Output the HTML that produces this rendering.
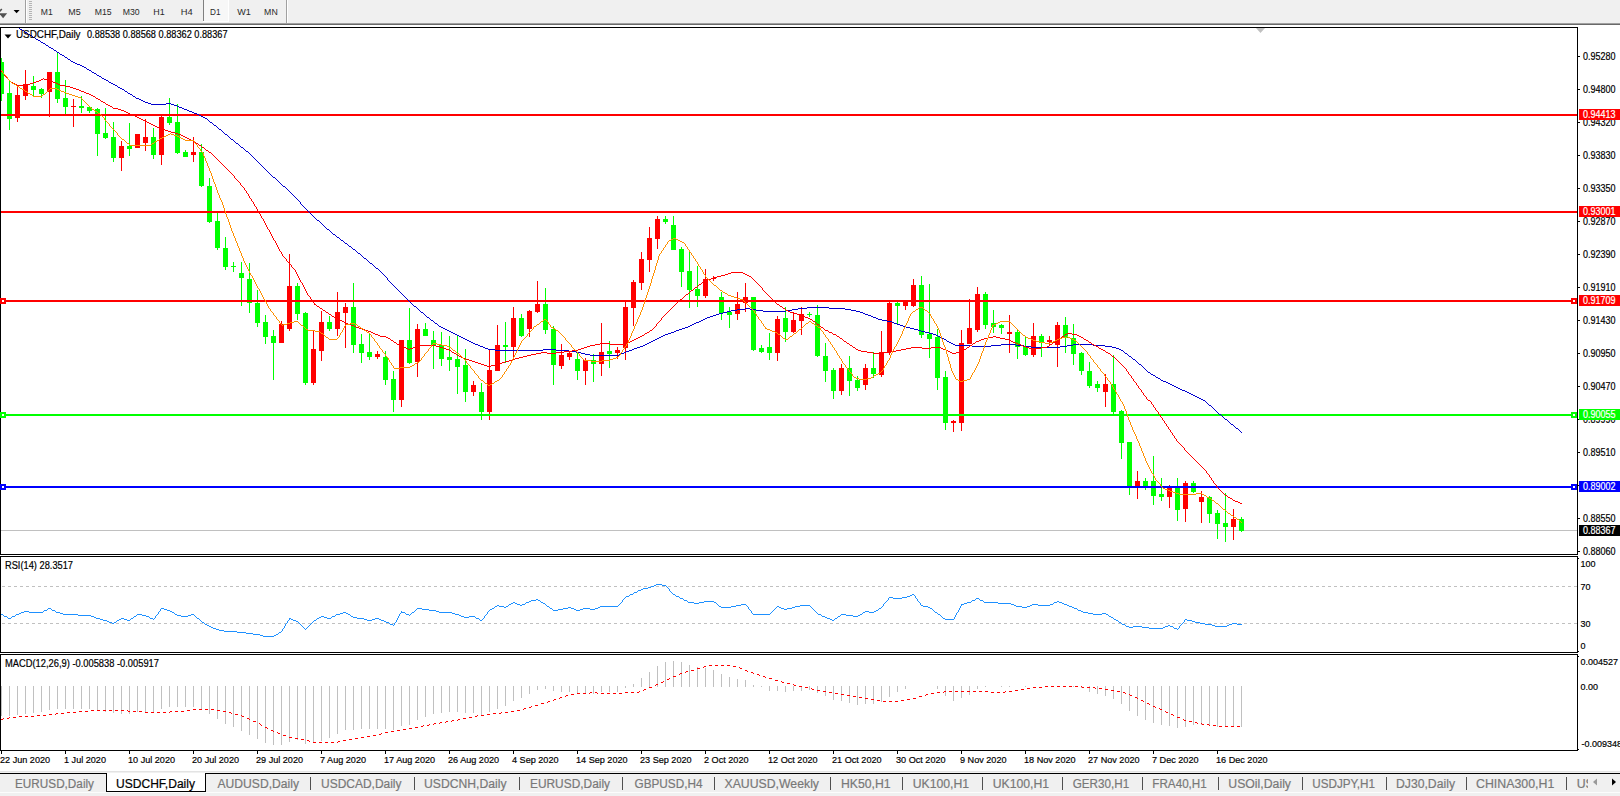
<!DOCTYPE html>
<html><head><meta charset="utf-8"><title>USDCHF,Daily</title>
<style>
html,body{margin:0;padding:0;background:#fff;overflow:hidden}
svg{display:block}
text{font-family:'Liberation Sans', sans-serif;}
.t{font-size:9.3px;fill:#000;stroke:#000;stroke-width:0.18px}
.w{font-size:9.3px;fill:#fff;stroke:#fff;stroke-width:0.18px}
.tb{font-size:9.9px;fill:#2a2a2a}
.tab{font-size:12.3px;fill:#787878;stroke:#787878;stroke-width:0.2px}
.taba{font-size:12.3px;fill:#000;stroke:#000;stroke-width:0.2px}
</style></head><body>
<svg width="1620" height="796" viewBox="0 0 1620 796">
<rect x="0" y="0" width="1620" height="796" fill="#fff"/>

<g shape-rendering="crispEdges">
<rect x="0" y="0" width="1620" height="23" fill="#f0f0f0"/>
<rect x="0" y="23" width="1620" height="1" fill="#a0a0a0"/>
<rect x="0" y="24" width="1620" height="1" fill="#696969"/>
<rect x="25" y="0" width="1" height="23" fill="#a0a0a0"/>
<rect x="26" y="0" width="1" height="23" fill="#fff"/>
<rect x="29" y="1" width="3" height="1" fill="#b4b4b4"/>
<rect x="29" y="3" width="3" height="1" fill="#b4b4b4"/>
<rect x="29" y="5" width="3" height="1" fill="#b4b4b4"/>
<rect x="29" y="7" width="3" height="1" fill="#b4b4b4"/>
<rect x="29" y="9" width="3" height="1" fill="#b4b4b4"/>
<rect x="29" y="11" width="3" height="1" fill="#b4b4b4"/>
<rect x="29" y="13" width="3" height="1" fill="#b4b4b4"/>
<rect x="29" y="15" width="3" height="1" fill="#b4b4b4"/>
<rect x="29" y="17" width="3" height="1" fill="#b4b4b4"/>
<rect x="29" y="19" width="3" height="1" fill="#b4b4b4"/>
<rect x="204" y="0" width="24" height="21" fill="#f7f7f7"/>
<rect x="203" y="0" width="1" height="21" fill="#808080"/>
<rect x="203" y="21" width="26" height="1" fill="#fff"/>
<rect x="228" y="0" width="1" height="22" fill="#fff"/>
<rect x="286" y="0" width="1" height="23" fill="#a0a0a0"/>
<rect x="287" y="0" width="1" height="23" fill="#fff"/>
</g>
<path d="M13.6 10h6l-3 3.2z" fill="#000"/>
<path d="M-1 13.2h8.2l-4.1 5z" fill="#505050"/><path d="M-0.5 11.5l2.3-2.5" stroke="#505050" stroke-width="1.6"/>
<text class="tb" x="40.8" y="14.9" textLength="11.9" lengthAdjust="spacingAndGlyphs">M1</text>
<text class="tb" x="68.3" y="14.9" textLength="12.4" lengthAdjust="spacingAndGlyphs">M5</text>
<text class="tb" x="94.8" y="14.9" textLength="16.9" lengthAdjust="spacingAndGlyphs">M15</text>
<text class="tb" x="122.8" y="14.9" textLength="16.9" lengthAdjust="spacingAndGlyphs">M30</text>
<text class="tb" x="153.3" y="14.9" textLength="11.4" lengthAdjust="spacingAndGlyphs">H1</text>
<text class="tb" x="180.8" y="14.9" textLength="11.9" lengthAdjust="spacingAndGlyphs">H4</text>
<text class="tb" x="210.10000000000002" y="14.9" textLength="10.5" lengthAdjust="spacingAndGlyphs">D1</text>
<text class="tb" x="237.3" y="14.9" textLength="13.6" lengthAdjust="spacingAndGlyphs">W1</text>
<text class="tb" x="264.1" y="14.9" textLength="13.6" lengthAdjust="spacingAndGlyphs">MN</text>
<g shape-rendering="crispEdges" fill="#000">
<rect x="0" y="27" width="1578" height="1"/>
<rect x="0" y="27" width="1" height="528"/>
<rect x="0" y="554" width="1578" height="1"/>
<rect x="0" y="556" width="1578" height="1"/>
<rect x="0" y="556" width="1" height="97"/>
<rect x="0" y="652" width="1578" height="1"/>
<rect x="0" y="654" width="1578" height="1"/>
<rect x="0" y="654" width="1" height="97"/>
<rect x="0" y="750" width="1578" height="1"/>
<rect x="1577" y="27" width="1" height="528"/>
<rect x="1577" y="556" width="1" height="97"/>
<rect x="1577" y="654" width="1" height="97"/>
</g>
<g shape-rendering="crispEdges" fill="#000">
<rect x="1578" y="56" width="2" height="1"/>
<rect x="1578" y="89" width="2" height="1"/>
<rect x="1578" y="122" width="2" height="1"/>
<rect x="1578" y="155" width="2" height="1"/>
<rect x="1578" y="188" width="2" height="1"/>
<rect x="1578" y="221" width="2" height="1"/>
<rect x="1578" y="254" width="2" height="1"/>
<rect x="1578" y="287" width="2" height="1"/>
<rect x="1578" y="320" width="2" height="1"/>
<rect x="1578" y="353" width="2" height="1"/>
<rect x="1578" y="386" width="2" height="1"/>
<rect x="1578" y="419" width="2" height="1"/>
<rect x="1578" y="452" width="2" height="1"/>
<rect x="1578" y="485" width="2" height="1"/>
<rect x="1578" y="518" width="2" height="1"/>
<rect x="1578" y="551" width="2" height="1"/>
</g>
<text class="t" transform="translate(1583 59.7) scale(1 1.09)" textLength="32.5" lengthAdjust="spacingAndGlyphs">0.95280</text>
<text class="t" transform="translate(1583 92.7) scale(1 1.09)" textLength="32.5" lengthAdjust="spacingAndGlyphs">0.94800</text>
<text class="t" transform="translate(1583 125.7) scale(1 1.09)" textLength="32.5" lengthAdjust="spacingAndGlyphs">0.94320</text>
<text class="t" transform="translate(1583 158.7) scale(1 1.09)" textLength="32.5" lengthAdjust="spacingAndGlyphs">0.93830</text>
<text class="t" transform="translate(1583 191.7) scale(1 1.09)" textLength="32.5" lengthAdjust="spacingAndGlyphs">0.93350</text>
<text class="t" transform="translate(1583 224.7) scale(1 1.09)" textLength="32.5" lengthAdjust="spacingAndGlyphs">0.92870</text>
<text class="t" transform="translate(1583 257.7) scale(1 1.09)" textLength="32.5" lengthAdjust="spacingAndGlyphs">0.92390</text>
<text class="t" transform="translate(1583 290.7) scale(1 1.09)" textLength="32.5" lengthAdjust="spacingAndGlyphs">0.91910</text>
<text class="t" transform="translate(1583 323.7) scale(1 1.09)" textLength="32.5" lengthAdjust="spacingAndGlyphs">0.91430</text>
<text class="t" transform="translate(1583 356.7) scale(1 1.09)" textLength="32.5" lengthAdjust="spacingAndGlyphs">0.90950</text>
<text class="t" transform="translate(1583 389.7) scale(1 1.09)" textLength="32.5" lengthAdjust="spacingAndGlyphs">0.90470</text>
<text class="t" transform="translate(1583 422.7) scale(1 1.09)" textLength="32.5" lengthAdjust="spacingAndGlyphs">0.89990</text>
<text class="t" transform="translate(1583 455.7) scale(1 1.09)" textLength="32.5" lengthAdjust="spacingAndGlyphs">0.89510</text>
<text class="t" transform="translate(1583 488.7) scale(1 1.09)" textLength="32.5" lengthAdjust="spacingAndGlyphs">0.89030</text>
<text class="t" transform="translate(1583 521.7) scale(1 1.09)" textLength="32.5" lengthAdjust="spacingAndGlyphs">0.88550</text>
<text class="t" transform="translate(1583 554.7) scale(1 1.09)" textLength="32.5" lengthAdjust="spacingAndGlyphs">0.88060</text>
<clipPath id="cp"><rect x="1" y="28" width="1576" height="526"/></clipPath>
<g clip-path="url(#cp)">
<rect x="1" y="530" width="1576" height="1" fill="#c0c0c0" shape-rendering="crispEdges"/>
<g shape-rendering="crispEdges">
<rect x="1" y="58" width="1" height="43" fill="#00ff00"/>
<rect x="-1" y="62" width="5" height="32" fill="#00ff00"/>
<rect x="9" y="81" width="1" height="49" fill="#00ff00"/>
<rect x="7" y="93" width="5" height="26" fill="#00ff00"/>
<rect x="17" y="85" width="1" height="37" fill="#ff0000"/>
<rect x="15" y="95" width="5" height="23" fill="#ff0000"/>
<rect x="25" y="70" width="1" height="30" fill="#ff0000"/>
<rect x="23" y="84" width="5" height="12" fill="#ff0000"/>
<rect x="33" y="76" width="1" height="21" fill="#00ff00"/>
<rect x="31" y="86" width="5" height="4" fill="#00ff00"/>
<rect x="41" y="88" width="1" height="10" fill="#00ff00"/>
<rect x="39" y="89" width="5" height="5" fill="#00ff00"/>
<rect x="49" y="72" width="1" height="45" fill="#ff0000"/>
<rect x="47" y="72" width="5" height="20" fill="#ff0000"/>
<rect x="57" y="52" width="1" height="51" fill="#00ff00"/>
<rect x="55" y="72" width="5" height="27" fill="#00ff00"/>
<rect x="65" y="80" width="1" height="34" fill="#00ff00"/>
<rect x="63" y="98" width="5" height="9" fill="#00ff00"/>
<rect x="73" y="99" width="1" height="28" fill="#ff0000"/>
<rect x="71" y="106" width="5" height="1" fill="#ff0000"/>
<rect x="81" y="96" width="1" height="17" fill="#00ff00"/>
<rect x="79" y="106" width="5" height="2" fill="#00ff00"/>
<rect x="89" y="107" width="1" height="6" fill="#00ff00"/>
<rect x="87" y="107" width="5" height="4" fill="#00ff00"/>
<rect x="97" y="108" width="1" height="48" fill="#00ff00"/>
<rect x="95" y="109" width="5" height="25" fill="#00ff00"/>
<rect x="105" y="108" width="1" height="31" fill="#00ff00"/>
<rect x="103" y="133" width="5" height="5" fill="#00ff00"/>
<rect x="113" y="122" width="1" height="40" fill="#00ff00"/>
<rect x="111" y="137" width="5" height="21" fill="#00ff00"/>
<rect x="121" y="141" width="1" height="30" fill="#ff0000"/>
<rect x="119" y="146" width="5" height="12" fill="#ff0000"/>
<rect x="129" y="123" width="1" height="33" fill="#00ff00"/>
<rect x="127" y="146" width="5" height="3" fill="#00ff00"/>
<rect x="137" y="134" width="1" height="14" fill="#ff0000"/>
<rect x="135" y="134" width="5" height="14" fill="#ff0000"/>
<rect x="145" y="119" width="1" height="32" fill="#ff0000"/>
<rect x="143" y="137" width="5" height="6" fill="#ff0000"/>
<rect x="153" y="128" width="1" height="31" fill="#00ff00"/>
<rect x="151" y="137" width="5" height="18" fill="#00ff00"/>
<rect x="161" y="115" width="1" height="50" fill="#ff0000"/>
<rect x="159" y="117" width="5" height="38" fill="#ff0000"/>
<rect x="169" y="98" width="1" height="27" fill="#00ff00"/>
<rect x="167" y="117" width="5" height="6" fill="#00ff00"/>
<rect x="177" y="104" width="1" height="50" fill="#00ff00"/>
<rect x="175" y="122" width="5" height="31" fill="#00ff00"/>
<rect x="185" y="150" width="1" height="7" fill="#00ff00"/>
<rect x="183" y="152" width="5" height="5" fill="#00ff00"/>
<rect x="193" y="137" width="1" height="25" fill="#ff0000"/>
<rect x="191" y="152" width="5" height="3" fill="#ff0000"/>
<rect x="201" y="144" width="1" height="43" fill="#00ff00"/>
<rect x="199" y="152" width="5" height="34" fill="#00ff00"/>
<rect x="209" y="178" width="1" height="45" fill="#00ff00"/>
<rect x="207" y="186" width="5" height="36" fill="#00ff00"/>
<rect x="217" y="213" width="1" height="37" fill="#00ff00"/>
<rect x="215" y="221" width="5" height="27" fill="#00ff00"/>
<rect x="225" y="237" width="1" height="33" fill="#00ff00"/>
<rect x="223" y="248" width="5" height="19" fill="#00ff00"/>
<rect x="233" y="262" width="1" height="10" fill="#00ff00"/>
<rect x="231" y="266" width="5" height="1" fill="#00ff00"/>
<rect x="241" y="262" width="1" height="44" fill="#00ff00"/>
<rect x="239" y="273" width="5" height="5" fill="#00ff00"/>
<rect x="249" y="263" width="1" height="50" fill="#00ff00"/>
<rect x="247" y="279" width="5" height="24" fill="#00ff00"/>
<rect x="257" y="290" width="1" height="37" fill="#00ff00"/>
<rect x="255" y="303" width="5" height="20" fill="#00ff00"/>
<rect x="265" y="315" width="1" height="29" fill="#00ff00"/>
<rect x="263" y="322" width="5" height="15" fill="#00ff00"/>
<rect x="273" y="330" width="1" height="50" fill="#00ff00"/>
<rect x="271" y="336" width="5" height="7" fill="#00ff00"/>
<rect x="281" y="321" width="1" height="22" fill="#ff0000"/>
<rect x="279" y="324" width="5" height="19" fill="#ff0000"/>
<rect x="289" y="254" width="1" height="77" fill="#ff0000"/>
<rect x="287" y="286" width="5" height="43" fill="#ff0000"/>
<rect x="297" y="283" width="1" height="37" fill="#00ff00"/>
<rect x="295" y="286" width="5" height="28" fill="#00ff00"/>
<rect x="305" y="312" width="1" height="73" fill="#00ff00"/>
<rect x="303" y="313" width="5" height="70" fill="#00ff00"/>
<rect x="313" y="330" width="1" height="55" fill="#ff0000"/>
<rect x="311" y="349" width="5" height="34" fill="#ff0000"/>
<rect x="321" y="311" width="1" height="50" fill="#ff0000"/>
<rect x="319" y="322" width="5" height="29" fill="#ff0000"/>
<rect x="329" y="316" width="1" height="15" fill="#00ff00"/>
<rect x="327" y="322" width="5" height="7" fill="#00ff00"/>
<rect x="337" y="292" width="1" height="44" fill="#ff0000"/>
<rect x="335" y="312" width="5" height="17" fill="#ff0000"/>
<rect x="345" y="303" width="1" height="45" fill="#ff0000"/>
<rect x="343" y="307" width="5" height="6" fill="#ff0000"/>
<rect x="353" y="283" width="1" height="70" fill="#00ff00"/>
<rect x="351" y="307" width="5" height="38" fill="#00ff00"/>
<rect x="361" y="334" width="1" height="29" fill="#00ff00"/>
<rect x="359" y="344" width="5" height="9" fill="#00ff00"/>
<rect x="369" y="334" width="1" height="26" fill="#00ff00"/>
<rect x="367" y="352" width="5" height="5" fill="#00ff00"/>
<rect x="377" y="351" width="1" height="8" fill="#ff0000"/>
<rect x="375" y="354" width="5" height="3" fill="#ff0000"/>
<rect x="385" y="351" width="1" height="34" fill="#00ff00"/>
<rect x="383" y="357" width="5" height="23" fill="#00ff00"/>
<rect x="393" y="371" width="1" height="41" fill="#00ff00"/>
<rect x="391" y="379" width="5" height="21" fill="#00ff00"/>
<rect x="401" y="340" width="1" height="67" fill="#ff0000"/>
<rect x="399" y="340" width="5" height="60" fill="#ff0000"/>
<rect x="409" y="308" width="1" height="56" fill="#00ff00"/>
<rect x="407" y="340" width="5" height="23" fill="#00ff00"/>
<rect x="417" y="324" width="1" height="53" fill="#ff0000"/>
<rect x="415" y="329" width="5" height="33" fill="#ff0000"/>
<rect x="425" y="323" width="1" height="13" fill="#00ff00"/>
<rect x="423" y="329" width="5" height="7" fill="#00ff00"/>
<rect x="433" y="331" width="1" height="38" fill="#00ff00"/>
<rect x="431" y="340" width="5" height="5" fill="#00ff00"/>
<rect x="441" y="332" width="1" height="34" fill="#00ff00"/>
<rect x="439" y="345" width="5" height="14" fill="#00ff00"/>
<rect x="449" y="336" width="1" height="35" fill="#00ff00"/>
<rect x="447" y="357" width="5" height="3" fill="#00ff00"/>
<rect x="457" y="336" width="1" height="58" fill="#00ff00"/>
<rect x="455" y="359" width="5" height="8" fill="#00ff00"/>
<rect x="465" y="349" width="1" height="53" fill="#00ff00"/>
<rect x="463" y="365" width="5" height="27" fill="#00ff00"/>
<rect x="473" y="381" width="1" height="15" fill="#ff0000"/>
<rect x="471" y="385" width="5" height="7" fill="#ff0000"/>
<rect x="481" y="383" width="1" height="37" fill="#00ff00"/>
<rect x="479" y="392" width="5" height="20" fill="#00ff00"/>
<rect x="489" y="349" width="1" height="71" fill="#ff0000"/>
<rect x="487" y="370" width="5" height="42" fill="#ff0000"/>
<rect x="497" y="325" width="1" height="46" fill="#ff0000"/>
<rect x="495" y="345" width="5" height="26" fill="#ff0000"/>
<rect x="505" y="322" width="1" height="41" fill="#00ff00"/>
<rect x="503" y="345" width="5" height="2" fill="#00ff00"/>
<rect x="513" y="307" width="1" height="53" fill="#ff0000"/>
<rect x="511" y="318" width="5" height="29" fill="#ff0000"/>
<rect x="521" y="314" width="1" height="23" fill="#00ff00"/>
<rect x="519" y="318" width="5" height="18" fill="#00ff00"/>
<rect x="529" y="310" width="1" height="27" fill="#ff0000"/>
<rect x="527" y="311" width="5" height="18" fill="#ff0000"/>
<rect x="537" y="281" width="1" height="32" fill="#ff0000"/>
<rect x="535" y="304" width="5" height="8" fill="#ff0000"/>
<rect x="545" y="288" width="1" height="46" fill="#00ff00"/>
<rect x="543" y="304" width="5" height="26" fill="#00ff00"/>
<rect x="553" y="326" width="1" height="59" fill="#00ff00"/>
<rect x="551" y="329" width="5" height="36" fill="#00ff00"/>
<rect x="561" y="344" width="1" height="25" fill="#ff0000"/>
<rect x="559" y="355" width="5" height="11" fill="#ff0000"/>
<rect x="569" y="351" width="1" height="9" fill="#ff0000"/>
<rect x="567" y="353" width="5" height="4" fill="#ff0000"/>
<rect x="577" y="352" width="1" height="28" fill="#00ff00"/>
<rect x="575" y="359" width="5" height="12" fill="#00ff00"/>
<rect x="585" y="358" width="1" height="27" fill="#ff0000"/>
<rect x="583" y="360" width="5" height="11" fill="#ff0000"/>
<rect x="593" y="354" width="1" height="28" fill="#00ff00"/>
<rect x="591" y="360" width="5" height="4" fill="#00ff00"/>
<rect x="601" y="323" width="1" height="53" fill="#ff0000"/>
<rect x="599" y="352" width="5" height="12" fill="#ff0000"/>
<rect x="609" y="341" width="1" height="27" fill="#00ff00"/>
<rect x="607" y="351" width="5" height="3" fill="#00ff00"/>
<rect x="617" y="347" width="1" height="12" fill="#ff0000"/>
<rect x="615" y="350" width="5" height="3" fill="#ff0000"/>
<rect x="625" y="302" width="1" height="58" fill="#ff0000"/>
<rect x="623" y="307" width="5" height="41" fill="#ff0000"/>
<rect x="633" y="280" width="1" height="46" fill="#ff0000"/>
<rect x="631" y="282" width="5" height="26" fill="#ff0000"/>
<rect x="641" y="252" width="1" height="38" fill="#ff0000"/>
<rect x="639" y="259" width="5" height="24" fill="#ff0000"/>
<rect x="649" y="227" width="1" height="45" fill="#ff0000"/>
<rect x="647" y="238" width="5" height="22" fill="#ff0000"/>
<rect x="657" y="216" width="1" height="33" fill="#ff0000"/>
<rect x="655" y="219" width="5" height="20" fill="#ff0000"/>
<rect x="665" y="216" width="1" height="8" fill="#00ff00"/>
<rect x="663" y="219" width="5" height="3" fill="#00ff00"/>
<rect x="673" y="216" width="1" height="34" fill="#00ff00"/>
<rect x="671" y="225" width="5" height="25" fill="#00ff00"/>
<rect x="681" y="247" width="1" height="40" fill="#00ff00"/>
<rect x="679" y="249" width="5" height="23" fill="#00ff00"/>
<rect x="689" y="251" width="1" height="57" fill="#00ff00"/>
<rect x="687" y="271" width="5" height="19" fill="#00ff00"/>
<rect x="697" y="266" width="1" height="41" fill="#00ff00"/>
<rect x="695" y="289" width="5" height="7" fill="#00ff00"/>
<rect x="705" y="269" width="1" height="29" fill="#ff0000"/>
<rect x="703" y="279" width="5" height="17" fill="#ff0000"/>
<rect x="713" y="276" width="1" height="5" fill="#ff0000"/>
<rect x="711" y="278" width="5" height="1" fill="#ff0000"/>
<rect x="721" y="292" width="1" height="28" fill="#00ff00"/>
<rect x="719" y="297" width="5" height="16" fill="#00ff00"/>
<rect x="729" y="307" width="1" height="21" fill="#00ff00"/>
<rect x="727" y="312" width="5" height="3" fill="#00ff00"/>
<rect x="737" y="292" width="1" height="28" fill="#ff0000"/>
<rect x="735" y="304" width="5" height="10" fill="#ff0000"/>
<rect x="745" y="283" width="1" height="29" fill="#ff0000"/>
<rect x="743" y="297" width="5" height="6" fill="#ff0000"/>
<rect x="753" y="297" width="1" height="54" fill="#00ff00"/>
<rect x="751" y="297" width="5" height="53" fill="#00ff00"/>
<rect x="761" y="345" width="1" height="8" fill="#00ff00"/>
<rect x="759" y="348" width="5" height="4" fill="#00ff00"/>
<rect x="769" y="333" width="1" height="27" fill="#00ff00"/>
<rect x="767" y="347" width="5" height="6" fill="#00ff00"/>
<rect x="777" y="316" width="1" height="45" fill="#ff0000"/>
<rect x="775" y="319" width="5" height="34" fill="#ff0000"/>
<rect x="785" y="307" width="1" height="35" fill="#00ff00"/>
<rect x="783" y="318" width="5" height="14" fill="#00ff00"/>
<rect x="793" y="312" width="1" height="21" fill="#ff0000"/>
<rect x="791" y="320" width="5" height="12" fill="#ff0000"/>
<rect x="801" y="307" width="1" height="28" fill="#ff0000"/>
<rect x="799" y="314" width="5" height="7" fill="#ff0000"/>
<rect x="809" y="312" width="1" height="5" fill="#00ff00"/>
<rect x="807" y="314" width="5" height="1" fill="#00ff00"/>
<rect x="817" y="305" width="1" height="52" fill="#00ff00"/>
<rect x="815" y="315" width="5" height="41" fill="#00ff00"/>
<rect x="825" y="343" width="1" height="39" fill="#00ff00"/>
<rect x="823" y="356" width="5" height="15" fill="#00ff00"/>
<rect x="833" y="368" width="1" height="31" fill="#00ff00"/>
<rect x="831" y="370" width="5" height="21" fill="#00ff00"/>
<rect x="841" y="364" width="1" height="31" fill="#ff0000"/>
<rect x="839" y="368" width="5" height="23" fill="#ff0000"/>
<rect x="849" y="356" width="1" height="40" fill="#00ff00"/>
<rect x="847" y="368" width="5" height="13" fill="#00ff00"/>
<rect x="857" y="376" width="1" height="15" fill="#00ff00"/>
<rect x="855" y="380" width="5" height="8" fill="#00ff00"/>
<rect x="865" y="364" width="1" height="26" fill="#ff0000"/>
<rect x="863" y="368" width="5" height="17" fill="#ff0000"/>
<rect x="873" y="352" width="1" height="26" fill="#00ff00"/>
<rect x="871" y="368" width="5" height="6" fill="#00ff00"/>
<rect x="881" y="331" width="1" height="46" fill="#ff0000"/>
<rect x="879" y="352" width="5" height="23" fill="#ff0000"/>
<rect x="889" y="301" width="1" height="54" fill="#ff0000"/>
<rect x="887" y="303" width="5" height="49" fill="#ff0000"/>
<rect x="897" y="301" width="1" height="24" fill="#00ff00"/>
<rect x="895" y="303" width="5" height="3" fill="#00ff00"/>
<rect x="905" y="301" width="1" height="9" fill="#ff0000"/>
<rect x="903" y="302" width="5" height="4" fill="#ff0000"/>
<rect x="913" y="279" width="1" height="28" fill="#ff0000"/>
<rect x="911" y="285" width="5" height="21" fill="#ff0000"/>
<rect x="921" y="276" width="1" height="62" fill="#00ff00"/>
<rect x="919" y="285" width="5" height="50" fill="#00ff00"/>
<rect x="929" y="284" width="1" height="74" fill="#00ff00"/>
<rect x="927" y="334" width="5" height="5" fill="#00ff00"/>
<rect x="937" y="329" width="1" height="61" fill="#00ff00"/>
<rect x="935" y="337" width="5" height="41" fill="#00ff00"/>
<rect x="945" y="371" width="1" height="59" fill="#00ff00"/>
<rect x="943" y="377" width="5" height="46" fill="#00ff00"/>
<rect x="953" y="420" width="1" height="12" fill="#ff0000"/>
<rect x="951" y="421" width="5" height="2" fill="#ff0000"/>
<rect x="961" y="330" width="1" height="101" fill="#ff0000"/>
<rect x="959" y="343" width="5" height="80" fill="#ff0000"/>
<rect x="969" y="299" width="1" height="45" fill="#ff0000"/>
<rect x="967" y="328" width="5" height="16" fill="#ff0000"/>
<rect x="977" y="287" width="1" height="45" fill="#ff0000"/>
<rect x="975" y="294" width="5" height="36" fill="#ff0000"/>
<rect x="985" y="292" width="1" height="37" fill="#00ff00"/>
<rect x="983" y="294" width="5" height="31" fill="#00ff00"/>
<rect x="993" y="310" width="1" height="23" fill="#00ff00"/>
<rect x="991" y="323" width="5" height="4" fill="#00ff00"/>
<rect x="1001" y="324" width="1" height="10" fill="#00ff00"/>
<rect x="999" y="325" width="5" height="3" fill="#00ff00"/>
<rect x="1009" y="315" width="1" height="38" fill="#ff0000"/>
<rect x="1007" y="332" width="5" height="2" fill="#ff0000"/>
<rect x="1017" y="330" width="1" height="29" fill="#00ff00"/>
<rect x="1015" y="332" width="5" height="15" fill="#00ff00"/>
<rect x="1025" y="336" width="1" height="20" fill="#00ff00"/>
<rect x="1023" y="346" width="5" height="9" fill="#00ff00"/>
<rect x="1033" y="323" width="1" height="34" fill="#ff0000"/>
<rect x="1031" y="336" width="5" height="19" fill="#ff0000"/>
<rect x="1041" y="334" width="1" height="23" fill="#00ff00"/>
<rect x="1039" y="336" width="5" height="7" fill="#00ff00"/>
<rect x="1049" y="336" width="1" height="9" fill="#ff0000"/>
<rect x="1047" y="340" width="5" height="2" fill="#ff0000"/>
<rect x="1057" y="322" width="1" height="45" fill="#ff0000"/>
<rect x="1055" y="325" width="5" height="20" fill="#ff0000"/>
<rect x="1065" y="317" width="1" height="36" fill="#00ff00"/>
<rect x="1063" y="325" width="5" height="13" fill="#00ff00"/>
<rect x="1073" y="324" width="1" height="41" fill="#00ff00"/>
<rect x="1071" y="338" width="5" height="16" fill="#00ff00"/>
<rect x="1081" y="352" width="1" height="23" fill="#00ff00"/>
<rect x="1079" y="353" width="5" height="18" fill="#00ff00"/>
<rect x="1089" y="362" width="1" height="26" fill="#00ff00"/>
<rect x="1087" y="371" width="5" height="15" fill="#00ff00"/>
<rect x="1097" y="381" width="1" height="11" fill="#00ff00"/>
<rect x="1095" y="384" width="5" height="4" fill="#00ff00"/>
<rect x="1105" y="374" width="1" height="33" fill="#ff0000"/>
<rect x="1103" y="384" width="5" height="8" fill="#ff0000"/>
<rect x="1113" y="355" width="1" height="59" fill="#00ff00"/>
<rect x="1111" y="384" width="5" height="28" fill="#00ff00"/>
<rect x="1121" y="410" width="1" height="49" fill="#00ff00"/>
<rect x="1119" y="411" width="5" height="32" fill="#00ff00"/>
<rect x="1129" y="442" width="1" height="53" fill="#00ff00"/>
<rect x="1127" y="442" width="5" height="44" fill="#00ff00"/>
<rect x="1137" y="471" width="1" height="28" fill="#ff0000"/>
<rect x="1135" y="481" width="5" height="5" fill="#ff0000"/>
<rect x="1145" y="478" width="1" height="12" fill="#00ff00"/>
<rect x="1143" y="481" width="5" height="7" fill="#00ff00"/>
<rect x="1153" y="456" width="1" height="49" fill="#00ff00"/>
<rect x="1151" y="481" width="5" height="15" fill="#00ff00"/>
<rect x="1161" y="478" width="1" height="23" fill="#00ff00"/>
<rect x="1159" y="494" width="5" height="3" fill="#00ff00"/>
<rect x="1169" y="485" width="1" height="23" fill="#ff0000"/>
<rect x="1167" y="487" width="5" height="10" fill="#ff0000"/>
<rect x="1177" y="478" width="1" height="43" fill="#00ff00"/>
<rect x="1175" y="487" width="5" height="23" fill="#00ff00"/>
<rect x="1185" y="481" width="1" height="41" fill="#ff0000"/>
<rect x="1183" y="483" width="5" height="26" fill="#ff0000"/>
<rect x="1193" y="481" width="1" height="12" fill="#00ff00"/>
<rect x="1191" y="483" width="5" height="9" fill="#00ff00"/>
<rect x="1201" y="491" width="1" height="32" fill="#ff0000"/>
<rect x="1199" y="497" width="5" height="5" fill="#ff0000"/>
<rect x="1209" y="496" width="1" height="27" fill="#00ff00"/>
<rect x="1207" y="497" width="5" height="17" fill="#00ff00"/>
<rect x="1217" y="510" width="1" height="29" fill="#00ff00"/>
<rect x="1215" y="513" width="5" height="11" fill="#00ff00"/>
<rect x="1225" y="493" width="1" height="49" fill="#00ff00"/>
<rect x="1223" y="523" width="5" height="4" fill="#00ff00"/>
<rect x="1233" y="509" width="1" height="31" fill="#ff0000"/>
<rect x="1231" y="519" width="5" height="8" fill="#ff0000"/>
<rect x="1241" y="517" width="1" height="15" fill="#00ff00"/>
<rect x="1239" y="519" width="5" height="12" fill="#00ff00"/>
</g>
<g shape-rendering="crispEdges">
<rect x="1" y="114" width="1576" height="2" fill="#ff0000"/>
<rect x="1" y="211" width="1576" height="2" fill="#ff0000"/>
<rect x="1" y="300" width="1576" height="2" fill="#ff0000"/>
<rect x="1" y="414" width="1576" height="2" fill="#00ff00"/>
<rect x="1" y="486" width="1576" height="2" fill="#0000ff"/>
</g>
<path d="M19 28h1v1h-1zM20 29h1v1h-1zM21 29h1v1h-1zM22 30h1v1h-1zM23 30h1v1h-1zM24 31h1v1h-1zM25 32h1v1h-1zM26 32h1v1h-1zM27 33h1v1h-1zM28 34h1v1h-1zM29 34h1v1h-1zM30 35h1v1h-1zM31 35h1v1h-1zM32 36h1v1h-1zM33 37h1v1h-1zM34 37h1v1h-1zM35 38h1v1h-1zM36 39h1v1h-1zM37 39h1v1h-1zM38 40h1v1h-1zM39 40h1v1h-1zM40 41h1v1h-1zM41 42h1v1h-1zM42 42h1v1h-1zM43 43h1v1h-1zM44 43h1v1h-1zM45 44h1v1h-1zM46 45h1v1h-1zM47 45h1v1h-1zM48 46h1v1h-1zM49 47h1v1h-1zM50 47h1v1h-1zM51 48h1v1h-1zM52 48h1v1h-1zM53 49h1v1h-1zM54 50h1v1h-1zM55 50h1v1h-1zM56 51h1v1h-1zM57 52h1v1h-1zM58 52h1v1h-1zM59 53h1v1h-1zM60 54h1v1h-1zM61 54h1v1h-1zM62 55h1v1h-1zM63 55h1v1h-1zM64 56h1v1h-1zM65 57h1v1h-1zM66 57h1v1h-1zM67 58h1v1h-1zM68 59h1v1h-1zM69 59h1v1h-1zM70 60h1v1h-1zM71 61h1v1h-1zM72 61h1v1h-1zM73 62h1v1h-1zM74 62h1v1h-1zM75 63h1v1h-1zM76 63h1v1h-1zM77 64h1v1h-1zM78 64h1v1h-1zM79 64h1v1h-1zM80 65h1v1h-1zM81 65h1v1h-1zM82 66h1v1h-1zM83 66h1v1h-1zM84 67h1v1h-1zM85 67h1v1h-1zM86 68h1v1h-1zM87 69h1v1h-1zM88 69h1v1h-1zM89 70h1v1h-1zM90 70h1v1h-1zM91 71h1v1h-1zM92 72h1v1h-1zM93 72h1v1h-1zM94 73h1v1h-1zM95 73h1v1h-1zM96 74h1v1h-1zM97 75h1v1h-1zM98 75h1v1h-1zM99 76h1v1h-1zM100 76h1v1h-1zM101 77h1v1h-1zM102 78h1v1h-1zM103 78h1v1h-1zM104 79h1v1h-1zM105 79h1v1h-1zM106 80h1v1h-1zM107 80h1v1h-1zM108 81h1v1h-1zM109 82h1v1h-1zM110 82h1v1h-1zM111 83h1v1h-1zM112 83h1v1h-1zM113 84h1v1h-1zM114 84h1v1h-1zM115 85h1v1h-1zM116 85h1v1h-1zM117 86h1v1h-1zM118 87h1v1h-1zM119 87h1v1h-1zM120 88h1v1h-1zM121 88h1v1h-1zM122 89h1v1h-1zM123 89h1v1h-1zM124 90h1v1h-1zM125 91h1v1h-1zM126 91h1v1h-1zM127 92h1v1h-1zM128 93h1v1h-1zM129 93h1v1h-1zM130 94h1v1h-1zM131 94h1v1h-1zM132 95h1v1h-1zM133 96h1v1h-1zM134 96h1v1h-1zM135 97h1v1h-1zM136 98h1v1h-1zM137 98h1v1h-1zM138 98h1v1h-1zM139 99h1v1h-1zM140 99h1v1h-1zM141 100h1v1h-1zM142 100h1v1h-1zM143 101h1v1h-1zM144 101h1v1h-1zM145 102h1v1h-1zM146 102h1v1h-1zM147 102h1v1h-1zM148 103h1v1h-1zM149 103h1v1h-1zM150 103h1v1h-1zM151 104h1v1h-1zM152 104h1v1h-1zM153 104h1v1h-1zM154 104h1v1h-1zM155 104h1v1h-1zM156 104h1v1h-1zM157 104h1v1h-1zM158 104h1v1h-1zM159 104h1v1h-1zM160 104h1v1h-1zM161 104h1v1h-1zM162 104h1v1h-1zM163 104h1v1h-1zM164 104h1v1h-1zM165 104h1v1h-1zM166 103h1v1h-1zM167 103h1v1h-1zM168 103h1v1h-1zM169 103h1v1h-1zM170 103h1v1h-1zM171 104h1v1h-1zM172 104h1v1h-1zM173 104h1v1h-1zM174 105h1v1h-1zM175 105h1v1h-1zM176 105h1v1h-1zM177 106h1v1h-1zM178 106h1v1h-1zM179 107h1v1h-1zM180 107h1v1h-1zM181 107h1v1h-1zM182 108h1v1h-1zM183 108h1v1h-1zM184 109h1v1h-1zM185 109h1v1h-1zM186 109h1v1h-1zM187 110h1v1h-1zM188 110h1v1h-1zM189 111h1v1h-1zM190 111h1v1h-1zM191 111h1v1h-1zM192 112h1v1h-1zM193 112h1v1h-1zM194 113h1v1h-1zM195 113h1v1h-1zM196 113h1v1h-1zM197 114h1v1h-1zM198 114h1v1h-1zM199 115h1v1h-1zM200 115h1v1h-1zM201 116h1v1h-1zM202 116h1v1h-1zM203 117h1v1h-1zM204 117h1v1h-1zM205 118h1v1h-1zM206 118h1v1h-1zM207 119h1v1h-1zM208 120h1v1h-1zM209 121h1v1h-1zM210 122h1v1h-1zM211 122h1v1h-1zM212 123h1v1h-1zM213 124h1v1h-1zM214 125h1v1h-1zM215 125h1v1h-1zM216 126h1v1h-1zM217 127h1v1h-1zM218 128h1v1h-1zM219 129h1v1h-1zM220 129h1v1h-1zM221 130h1v1h-1zM222 131h1v1h-1zM223 132h1v1h-1zM224 133h1v1h-1zM225 134h1v1h-1zM226 134h1v1h-1zM227 135h1v1h-1zM228 136h1v1h-1zM229 137h1v1h-1zM230 138h1v1h-1zM231 139h1v1h-1zM232 139h1v1h-1zM233 140h1v1h-1zM234 141h1v1h-1zM235 142h1v1h-1zM236 143h1v1h-1zM237 143h1v1h-1zM238 144h1v1h-1zM239 145h1v1h-1zM240 146h1v1h-1zM241 147h1v1h-1zM242 147h1v1h-1zM243 148h1v1h-1zM244 149h1v1h-1zM245 150h1v1h-1zM246 151h1v1h-1zM247 151h1v1h-1zM248 152h1v1h-1zM249 153h1v1h-1zM250 154h1v1h-1zM251 155h1v1h-1zM252 156h1v1h-1zM253 157h1v1h-1zM254 158h1v1h-1zM255 159h1v1h-1zM256 160h1v1h-1zM257 161h1v1h-1zM258 162h1v1h-1zM259 163h1v1h-1zM260 164h1v1h-1zM261 165h1v1h-1zM262 166h1v1h-1zM263 167h1v1h-1zM264 168h1v1h-1zM265 169h1v1h-1zM266 170h1v1h-1zM267 171h1v1h-1zM268 172h1v1h-1zM269 173h1v1h-1zM270 174h1v1h-1zM271 175h1v1h-1zM272 176h1v1h-1zM273 177h1v1h-1zM274 177h1v1h-1zM275 178h1v1h-1zM276 179h1v1h-1zM277 180h1v1h-1zM278 181h1v1h-1zM279 182h1v1h-1zM280 183h1v1h-1zM281 184h1v1h-1zM282 185h1v1h-1zM283 186h1v1h-1zM284 186h1v1h-1zM285 187h1v1h-1zM286 188h1v1h-1zM287 189h1v1h-1zM288 190h1v1h-1zM289 191h1v1h-1zM290 192h1v1h-1zM291 193h1v1h-1zM292 194h1v1h-1zM293 195h1v1h-1zM294 196h1v1h-1zM295 197h1v1h-1zM296 198h1v1h-1zM297 199h1v1h-1zM298 200h1v1h-1zM299 201h1v1h-1zM300 202h1v2h-1zM301 204h1v1h-1zM302 205h1v1h-1zM303 206h1v1h-1zM304 207h1v1h-1zM305 208h1v1h-1zM306 209h1v1h-1zM307 210h1v1h-1zM308 211h1v1h-1zM309 212h1v1h-1zM310 213h1v1h-1zM311 214h1v1h-1zM312 215h1v1h-1zM313 216h1v1h-1zM314 217h1v1h-1zM315 218h1v1h-1zM316 219h1v1h-1zM317 220h1v1h-1zM318 220h1v1h-1zM319 221h1v1h-1zM320 222h1v1h-1zM321 223h1v1h-1zM322 224h1v1h-1zM323 225h1v1h-1zM324 226h1v1h-1zM325 227h1v1h-1zM326 228h1v1h-1zM327 229h1v1h-1zM328 229h1v1h-1zM329 230h1v1h-1zM330 231h1v1h-1zM331 232h1v1h-1zM332 233h1v1h-1zM333 234h1v1h-1zM334 234h1v1h-1zM335 235h1v1h-1zM336 236h1v1h-1zM337 237h1v1h-1zM338 237h1v1h-1zM339 238h1v1h-1zM340 239h1v1h-1zM341 240h1v1h-1zM342 240h1v1h-1zM343 241h1v1h-1zM344 242h1v1h-1zM345 243h1v1h-1zM346 243h1v1h-1zM347 244h1v1h-1zM348 245h1v1h-1zM349 246h1v1h-1zM350 246h1v1h-1zM351 247h1v1h-1zM352 248h1v1h-1zM353 249h1v1h-1zM354 249h1v1h-1zM355 250h1v1h-1zM356 251h1v1h-1zM357 252h1v1h-1zM358 253h1v1h-1zM359 253h1v1h-1zM360 254h1v1h-1zM361 255h1v1h-1zM362 256h1v1h-1zM363 257h1v1h-1zM364 258h1v1h-1zM365 258h1v1h-1zM366 259h1v1h-1zM367 260h1v1h-1zM368 261h1v1h-1zM369 262h1v1h-1zM370 263h1v1h-1zM371 263h1v1h-1zM372 264h1v1h-1zM373 265h1v1h-1zM374 266h1v1h-1zM375 267h1v1h-1zM376 268h1v1h-1zM377 268h1v1h-1zM378 269h1v1h-1zM379 270h1v1h-1zM380 271h1v1h-1zM381 272h1v1h-1zM382 273h1v1h-1zM383 274h1v1h-1zM384 275h1v1h-1zM385 276h1v1h-1zM386 277h1v1h-1zM387 278h1v2h-1zM388 280h1v1h-1zM389 281h1v1h-1zM390 282h1v1h-1zM391 283h1v1h-1zM392 284h1v1h-1zM393 285h1v1h-1zM394 286h1v1h-1zM395 287h1v1h-1zM396 288h1v1h-1zM397 289h1v1h-1zM398 290h1v1h-1zM399 291h1v1h-1zM400 292h1v1h-1zM401 293h1v1h-1zM402 294h1v1h-1zM403 295h1v1h-1zM404 296h1v1h-1zM405 297h1v1h-1zM406 298h1v1h-1zM407 299h1v1h-1zM408 300h1v1h-1zM409 301h1v1h-1zM410 302h1v1h-1zM411 303h1v1h-1zM412 304h1v1h-1zM413 305h1v1h-1zM414 306h1v1h-1zM415 306h1v1h-1zM416 307h1v1h-1zM417 308h1v1h-1zM418 309h1v1h-1zM419 310h1v1h-1zM420 311h1v1h-1zM421 312h1v1h-1zM422 312h1v1h-1zM423 313h1v1h-1zM424 314h1v1h-1zM425 315h1v1h-1zM426 316h1v1h-1zM427 317h1v1h-1zM428 317h1v1h-1zM429 318h1v1h-1zM430 319h1v1h-1zM431 320h1v1h-1zM432 320h1v1h-1zM433 321h1v1h-1zM434 322h1v1h-1zM435 323h1v1h-1zM436 323h1v1h-1zM437 324h1v1h-1zM438 325h1v1h-1zM439 326h1v1h-1zM440 326h1v1h-1zM441 327h1v1h-1zM442 327h1v1h-1zM443 328h1v1h-1zM444 328h1v1h-1zM445 329h1v1h-1zM446 329h1v1h-1zM447 330h1v1h-1zM448 330h1v1h-1zM449 331h1v1h-1zM450 331h1v1h-1zM451 332h1v1h-1zM452 332h1v1h-1zM453 333h1v1h-1zM454 333h1v1h-1zM455 334h1v1h-1zM456 334h1v1h-1zM457 335h1v1h-1zM458 335h1v1h-1zM459 336h1v1h-1zM460 336h1v1h-1zM461 337h1v1h-1zM462 337h1v1h-1zM463 338h1v1h-1zM464 338h1v1h-1zM465 339h1v1h-1zM466 339h1v1h-1zM467 340h1v1h-1zM468 340h1v1h-1zM469 341h1v1h-1zM470 341h1v1h-1zM471 342h1v1h-1zM472 342h1v1h-1zM473 343h1v1h-1zM474 343h1v1h-1zM475 344h1v1h-1zM476 344h1v1h-1zM477 344h1v1h-1zM478 345h1v1h-1zM479 345h1v1h-1zM480 346h1v1h-1zM481 346h1v1h-1zM482 346h1v1h-1zM483 347h1v1h-1zM484 347h1v1h-1zM485 348h1v1h-1zM486 348h1v1h-1zM487 348h1v1h-1zM488 349h1v1h-1zM489 349h1v1h-1zM490 349h1v1h-1zM491 349h1v1h-1zM492 349h1v1h-1zM493 349h1v1h-1zM494 349h1v1h-1zM495 350h1v1h-1zM496 350h1v1h-1zM497 350h1v1h-1zM498 350h1v1h-1zM499 350h1v1h-1zM500 350h1v1h-1zM501 350h1v1h-1zM502 350h1v1h-1zM503 350h1v1h-1zM504 350h1v1h-1zM505 350h1v1h-1zM506 350h1v1h-1zM507 350h1v1h-1zM508 350h1v1h-1zM509 350h1v1h-1zM510 350h1v1h-1zM511 350h1v1h-1zM512 350h1v1h-1zM513 350h1v1h-1zM514 350h1v1h-1zM515 350h1v1h-1zM516 350h1v1h-1zM517 350h1v1h-1zM518 350h1v1h-1zM519 350h1v1h-1zM520 350h1v1h-1zM521 350h1v1h-1zM522 350h1v1h-1zM523 350h1v1h-1zM524 350h1v1h-1zM525 350h1v1h-1zM526 350h1v1h-1zM527 350h1v1h-1zM528 350h1v1h-1zM529 350h1v1h-1zM530 350h1v1h-1zM531 350h1v1h-1zM532 350h1v1h-1zM533 350h1v1h-1zM534 350h1v1h-1zM535 350h1v1h-1zM536 350h1v1h-1zM537 350h1v1h-1zM538 350h1v1h-1zM539 350h1v1h-1zM540 350h1v1h-1zM541 350h1v1h-1zM542 350h1v1h-1zM543 349h1v1h-1zM544 349h1v1h-1zM545 349h1v1h-1zM546 349h1v1h-1zM547 349h1v1h-1zM548 349h1v1h-1zM549 349h1v1h-1zM550 349h1v1h-1zM551 349h1v1h-1zM552 349h1v1h-1zM553 349h1v1h-1zM554 349h1v1h-1zM555 349h1v1h-1zM556 350h1v1h-1zM557 350h1v1h-1zM558 350h1v1h-1zM559 350h1v1h-1zM560 350h1v1h-1zM561 350h1v1h-1zM562 350h1v1h-1zM563 350h1v1h-1zM564 350h1v1h-1zM565 350h1v1h-1zM566 350h1v1h-1zM567 350h1v1h-1zM568 350h1v1h-1zM569 351h1v1h-1zM570 351h1v1h-1zM571 351h1v1h-1zM572 351h1v1h-1zM573 351h1v1h-1zM574 351h1v1h-1zM575 351h1v1h-1zM576 352h1v1h-1zM577 352h1v1h-1zM578 352h1v1h-1zM579 352h1v1h-1zM580 352h1v1h-1zM581 353h1v1h-1zM582 353h1v1h-1zM583 353h1v1h-1zM584 353h1v1h-1zM585 354h1v1h-1zM586 354h1v1h-1zM587 354h1v1h-1zM588 354h1v1h-1zM589 354h1v1h-1zM590 355h1v1h-1zM591 355h1v1h-1zM592 355h1v1h-1zM593 355h1v1h-1zM594 355h1v1h-1zM595 355h1v1h-1zM596 355h1v1h-1zM597 355h1v1h-1zM598 355h1v1h-1zM599 355h1v1h-1zM600 355h1v1h-1zM601 355h1v1h-1zM602 355h1v1h-1zM603 355h1v1h-1zM604 355h1v1h-1zM605 355h1v1h-1zM606 355h1v1h-1zM607 355h1v1h-1zM608 355h1v1h-1zM609 355h1v1h-1zM610 355h1v1h-1zM611 355h1v1h-1zM612 355h1v1h-1zM613 355h1v1h-1zM614 355h1v1h-1zM615 355h1v1h-1zM616 355h1v1h-1zM617 355h1v1h-1zM618 355h1v1h-1zM619 354h1v1h-1zM620 354h1v1h-1zM621 353h1v1h-1zM622 353h1v1h-1zM623 353h1v1h-1zM624 352h1v1h-1zM625 352h1v1h-1zM626 351h1v1h-1zM627 351h1v1h-1zM628 351h1v1h-1zM629 350h1v1h-1zM630 350h1v1h-1zM631 350h1v1h-1zM632 349h1v1h-1zM633 349h1v1h-1zM634 348h1v1h-1zM635 348h1v1h-1zM636 348h1v1h-1zM637 347h1v1h-1zM638 347h1v1h-1zM639 347h1v1h-1zM640 346h1v1h-1zM641 346h1v1h-1zM642 346h1v1h-1zM643 345h1v1h-1zM644 345h1v1h-1zM645 344h1v1h-1zM646 344h1v1h-1zM647 343h1v1h-1zM648 343h1v1h-1zM649 342h1v1h-1zM650 342h1v1h-1zM651 341h1v1h-1zM652 341h1v1h-1zM653 340h1v1h-1zM654 340h1v1h-1zM655 339h1v1h-1zM656 339h1v1h-1zM657 338h1v1h-1zM658 338h1v1h-1zM659 337h1v1h-1zM660 337h1v1h-1zM661 336h1v1h-1zM662 336h1v1h-1zM663 335h1v1h-1zM664 335h1v1h-1zM665 334h1v1h-1zM666 334h1v1h-1zM667 334h1v1h-1zM668 333h1v1h-1zM669 333h1v1h-1zM670 333h1v1h-1zM671 332h1v1h-1zM672 332h1v1h-1zM673 332h1v1h-1zM674 331h1v1h-1zM675 331h1v1h-1zM676 330h1v1h-1zM677 330h1v1h-1zM678 330h1v1h-1zM679 329h1v1h-1zM680 329h1v1h-1zM681 329h1v1h-1zM682 328h1v1h-1zM683 328h1v1h-1zM684 328h1v1h-1zM685 327h1v1h-1zM686 327h1v1h-1zM687 327h1v1h-1zM688 326h1v1h-1zM689 326h1v1h-1zM690 325h1v1h-1zM691 325h1v1h-1zM692 324h1v1h-1zM693 324h1v1h-1zM694 323h1v1h-1zM695 323h1v1h-1zM696 322h1v1h-1zM697 322h1v1h-1zM698 322h1v1h-1zM699 321h1v1h-1zM700 321h1v1h-1zM701 320h1v1h-1zM702 320h1v1h-1zM703 319h1v1h-1zM704 319h1v1h-1zM705 318h1v1h-1zM706 318h1v1h-1zM707 317h1v1h-1zM708 317h1v1h-1zM709 317h1v1h-1zM710 316h1v1h-1zM711 316h1v1h-1zM712 316h1v1h-1zM713 315h1v1h-1zM714 315h1v1h-1zM715 315h1v1h-1zM716 314h1v1h-1zM717 314h1v1h-1zM718 314h1v1h-1zM719 313h1v1h-1zM720 313h1v1h-1zM721 313h1v1h-1zM722 313h1v1h-1zM723 312h1v1h-1zM724 312h1v1h-1zM725 312h1v1h-1zM726 312h1v1h-1zM727 311h1v1h-1zM728 311h1v1h-1zM729 311h1v1h-1zM730 311h1v1h-1zM731 310h1v1h-1zM732 310h1v1h-1zM733 310h1v1h-1zM734 310h1v1h-1zM735 310h1v1h-1zM736 310h1v1h-1zM737 309h1v1h-1zM738 309h1v1h-1zM739 309h1v1h-1zM740 309h1v1h-1zM741 309h1v1h-1zM742 309h1v1h-1zM743 309h1v1h-1zM744 309h1v1h-1zM745 308h1v1h-1zM746 308h1v1h-1zM747 308h1v1h-1zM748 308h1v1h-1zM749 308h1v1h-1zM750 309h1v1h-1zM751 309h1v1h-1zM752 309h1v1h-1zM753 309h1v1h-1zM754 309h1v1h-1zM755 309h1v1h-1zM756 310h1v1h-1zM757 310h1v1h-1zM758 310h1v1h-1zM759 310h1v1h-1zM760 310h1v1h-1zM761 310h1v1h-1zM762 310h1v1h-1zM763 311h1v1h-1zM764 311h1v1h-1zM765 311h1v1h-1zM766 311h1v1h-1zM767 311h1v1h-1zM768 311h1v1h-1zM769 311h1v1h-1zM770 311h1v1h-1zM771 311h1v1h-1zM772 311h1v1h-1zM773 311h1v1h-1zM774 311h1v1h-1zM775 311h1v1h-1zM776 311h1v1h-1zM777 311h1v1h-1zM778 311h1v1h-1zM779 311h1v1h-1zM780 311h1v1h-1zM781 311h1v1h-1zM782 311h1v1h-1zM783 311h1v1h-1zM784 311h1v1h-1zM785 311h1v1h-1zM786 310h1v1h-1zM787 310h1v1h-1zM788 310h1v1h-1zM789 310h1v1h-1zM790 310h1v1h-1zM791 310h1v1h-1zM792 309h1v1h-1zM793 309h1v1h-1zM794 309h1v1h-1zM795 309h1v1h-1zM796 309h1v1h-1zM797 309h1v1h-1zM798 308h1v1h-1zM799 308h1v1h-1zM800 308h1v1h-1zM801 308h1v1h-1zM802 308h1v1h-1zM803 308h1v1h-1zM804 308h1v1h-1zM805 308h1v1h-1zM806 308h1v1h-1zM807 307h1v1h-1zM808 307h1v1h-1zM809 307h1v1h-1zM810 307h1v1h-1zM811 307h1v1h-1zM812 307h1v1h-1zM813 307h1v1h-1zM814 307h1v1h-1zM815 307h1v1h-1zM816 307h1v1h-1zM817 307h1v1h-1zM818 307h1v1h-1zM819 307h1v1h-1zM820 307h1v1h-1zM821 307h1v1h-1zM822 307h1v1h-1zM823 307h1v1h-1zM824 307h1v1h-1zM825 307h1v1h-1zM826 307h1v1h-1zM827 307h1v1h-1zM828 307h1v1h-1zM829 308h1v1h-1zM830 308h1v1h-1zM831 308h1v1h-1zM832 308h1v1h-1zM833 308h1v1h-1zM834 308h1v1h-1zM835 308h1v1h-1zM836 308h1v1h-1zM837 308h1v1h-1zM838 308h1v1h-1zM839 308h1v1h-1zM840 308h1v1h-1zM841 308h1v1h-1zM842 308h1v1h-1zM843 308h1v1h-1zM844 308h1v1h-1zM845 309h1v1h-1zM846 309h1v1h-1zM847 309h1v1h-1zM848 309h1v1h-1zM849 309h1v1h-1zM850 309h1v1h-1zM851 310h1v1h-1zM852 310h1v1h-1zM853 310h1v1h-1zM854 310h1v1h-1zM855 310h1v1h-1zM856 311h1v1h-1zM857 311h1v1h-1zM858 311h1v1h-1zM859 311h1v1h-1zM860 312h1v1h-1zM861 312h1v1h-1zM862 312h1v1h-1zM863 313h1v1h-1zM864 313h1v1h-1zM865 314h1v1h-1zM866 314h1v1h-1zM867 314h1v1h-1zM868 315h1v1h-1zM869 315h1v1h-1zM870 315h1v1h-1zM871 316h1v1h-1zM872 316h1v1h-1zM873 317h1v1h-1zM874 317h1v1h-1zM875 317h1v1h-1zM876 318h1v1h-1zM877 318h1v1h-1zM878 319h1v1h-1zM879 319h1v1h-1zM880 319h1v1h-1zM881 319h1v1h-1zM882 320h1v1h-1zM883 320h1v1h-1zM884 320h1v1h-1zM885 320h1v1h-1zM886 320h1v1h-1zM887 321h1v1h-1zM888 321h1v1h-1zM889 321h1v1h-1zM890 321h1v1h-1zM891 321h1v1h-1zM892 322h1v1h-1zM893 322h1v1h-1zM894 323h1v1h-1zM895 323h1v1h-1zM896 323h1v1h-1zM897 324h1v1h-1zM898 324h1v1h-1zM899 324h1v1h-1zM900 325h1v1h-1zM901 325h1v1h-1zM902 325h1v1h-1zM903 326h1v1h-1zM904 326h1v1h-1zM905 326h1v1h-1zM906 327h1v1h-1zM907 327h1v1h-1zM908 327h1v1h-1zM909 327h1v1h-1zM910 328h1v1h-1zM911 328h1v1h-1zM912 328h1v1h-1zM913 328h1v1h-1zM914 329h1v1h-1zM915 329h1v1h-1zM916 329h1v1h-1zM917 329h1v1h-1zM918 330h1v1h-1zM919 330h1v1h-1zM920 330h1v1h-1zM921 331h1v1h-1zM922 331h1v1h-1zM923 331h1v1h-1zM924 331h1v1h-1zM925 332h1v1h-1zM926 332h1v1h-1zM927 332h1v1h-1zM928 332h1v1h-1zM929 333h1v1h-1zM930 333h1v1h-1zM931 333h1v1h-1zM932 333h1v1h-1zM933 334h1v1h-1zM934 334h1v1h-1zM935 334h1v1h-1zM936 335h1v1h-1zM937 335h1v1h-1zM938 336h1v1h-1zM939 336h1v1h-1zM940 337h1v1h-1zM941 337h1v1h-1zM942 338h1v1h-1zM943 338h1v1h-1zM944 339h1v1h-1zM945 339h1v1h-1zM946 340h1v1h-1zM947 341h1v1h-1zM948 341h1v1h-1zM949 342h1v1h-1zM950 342h1v1h-1zM951 343h1v1h-1zM952 343h1v1h-1zM953 344h1v1h-1zM954 344h1v1h-1zM955 345h1v1h-1zM956 345h1v1h-1zM957 345h1v1h-1zM958 345h1v1h-1zM959 345h1v1h-1zM960 345h1v1h-1zM961 345h1v1h-1zM962 345h1v1h-1zM963 345h1v1h-1zM964 345h1v1h-1zM965 345h1v1h-1zM966 345h1v1h-1zM967 345h1v1h-1zM968 345h1v1h-1zM969 345h1v1h-1zM970 345h1v1h-1zM971 345h1v1h-1zM972 346h1v1h-1zM973 346h1v1h-1zM974 346h1v1h-1zM975 346h1v1h-1zM976 346h1v1h-1zM977 346h1v1h-1zM978 346h1v1h-1zM979 346h1v1h-1zM980 346h1v1h-1zM981 346h1v1h-1zM982 346h1v1h-1zM983 346h1v1h-1zM984 346h1v1h-1zM985 346h1v1h-1zM986 346h1v1h-1zM987 346h1v1h-1zM988 346h1v1h-1zM989 346h1v1h-1zM990 346h1v1h-1zM991 345h1v1h-1zM992 345h1v1h-1zM993 345h1v1h-1zM994 345h1v1h-1zM995 345h1v1h-1zM996 345h1v1h-1zM997 345h1v1h-1zM998 345h1v1h-1zM999 345h1v1h-1zM1000 345h1v1h-1zM1001 344h1v1h-1zM1002 344h1v1h-1zM1003 344h1v1h-1zM1004 344h1v1h-1zM1005 344h1v1h-1zM1006 344h1v1h-1zM1007 344h1v1h-1zM1008 344h1v1h-1zM1009 344h1v1h-1zM1010 344h1v1h-1zM1011 344h1v1h-1zM1012 344h1v1h-1zM1013 344h1v1h-1zM1014 344h1v1h-1zM1015 344h1v1h-1zM1016 345h1v1h-1zM1017 345h1v1h-1zM1018 345h1v1h-1zM1019 345h1v1h-1zM1020 345h1v1h-1zM1021 345h1v1h-1zM1022 345h1v1h-1zM1023 345h1v1h-1zM1024 346h1v1h-1zM1025 346h1v1h-1zM1026 346h1v1h-1zM1027 346h1v1h-1zM1028 346h1v1h-1zM1029 346h1v1h-1zM1030 346h1v1h-1zM1031 347h1v1h-1zM1032 347h1v1h-1zM1033 347h1v1h-1zM1034 347h1v1h-1zM1035 347h1v1h-1zM1036 347h1v1h-1zM1037 347h1v1h-1zM1038 347h1v1h-1zM1039 347h1v1h-1zM1040 347h1v1h-1zM1041 347h1v1h-1zM1042 347h1v1h-1zM1043 347h1v1h-1zM1044 347h1v1h-1zM1045 347h1v1h-1zM1046 347h1v1h-1zM1047 347h1v1h-1zM1048 347h1v1h-1zM1049 347h1v1h-1zM1050 347h1v1h-1zM1051 347h1v1h-1zM1052 347h1v1h-1zM1053 347h1v1h-1zM1054 347h1v1h-1zM1055 347h1v1h-1zM1056 347h1v1h-1zM1057 347h1v1h-1zM1058 347h1v1h-1zM1059 347h1v1h-1zM1060 346h1v1h-1zM1061 346h1v1h-1zM1062 346h1v1h-1zM1063 346h1v1h-1zM1064 346h1v1h-1zM1065 346h1v1h-1zM1066 346h1v1h-1zM1067 345h1v1h-1zM1068 345h1v1h-1zM1069 345h1v1h-1zM1070 345h1v1h-1zM1071 345h1v1h-1zM1072 345h1v1h-1zM1073 344h1v1h-1zM1074 344h1v1h-1zM1075 344h1v1h-1zM1076 344h1v1h-1zM1077 344h1v1h-1zM1078 344h1v1h-1zM1079 344h1v1h-1zM1080 344h1v1h-1zM1081 344h1v1h-1zM1082 344h1v1h-1zM1083 344h1v1h-1zM1084 344h1v1h-1zM1085 344h1v1h-1zM1086 344h1v1h-1zM1087 344h1v1h-1zM1088 344h1v1h-1zM1089 344h1v1h-1zM1090 344h1v1h-1zM1091 344h1v1h-1zM1092 344h1v1h-1zM1093 345h1v1h-1zM1094 345h1v1h-1zM1095 345h1v1h-1zM1096 345h1v1h-1zM1097 345h1v1h-1zM1098 345h1v1h-1zM1099 345h1v1h-1zM1100 345h1v1h-1zM1101 345h1v1h-1zM1102 345h1v1h-1zM1103 345h1v1h-1zM1104 345h1v1h-1zM1105 346h1v1h-1zM1106 346h1v1h-1zM1107 346h1v1h-1zM1108 346h1v1h-1zM1109 346h1v1h-1zM1110 346h1v1h-1zM1111 346h1v1h-1zM1112 347h1v1h-1zM1113 347h1v1h-1zM1114 347h1v1h-1zM1115 347h1v1h-1zM1116 348h1v1h-1zM1117 348h1v1h-1zM1118 348h1v1h-1zM1119 349h1v1h-1zM1120 349h1v1h-1zM1121 350h1v1h-1zM1122 350h1v1h-1zM1123 351h1v1h-1zM1124 352h1v1h-1zM1125 353h1v1h-1zM1126 353h1v1h-1zM1127 354h1v1h-1zM1128 355h1v1h-1zM1129 356h1v1h-1zM1130 356h1v1h-1zM1131 357h1v1h-1zM1132 358h1v1h-1zM1133 359h1v1h-1zM1134 359h1v1h-1zM1135 360h1v1h-1zM1136 361h1v1h-1zM1137 362h1v1h-1zM1138 363h1v1h-1zM1139 364h1v1h-1zM1140 364h1v1h-1zM1141 365h1v1h-1zM1142 366h1v1h-1zM1143 367h1v1h-1zM1144 368h1v1h-1zM1145 369h1v1h-1zM1146 370h1v1h-1zM1147 371h1v1h-1zM1148 372h1v1h-1zM1149 372h1v1h-1zM1150 373h1v1h-1zM1151 374h1v1h-1zM1152 374h1v1h-1zM1153 375h1v1h-1zM1154 375h1v1h-1zM1155 376h1v1h-1zM1156 377h1v1h-1zM1157 377h1v1h-1zM1158 378h1v1h-1zM1159 378h1v1h-1zM1160 379h1v1h-1zM1161 380h1v1h-1zM1162 380h1v1h-1zM1163 381h1v1h-1zM1164 381h1v1h-1zM1165 381h1v1h-1zM1166 382h1v1h-1zM1167 382h1v1h-1zM1168 383h1v1h-1zM1169 383h1v1h-1zM1170 384h1v1h-1zM1171 384h1v1h-1zM1172 385h1v1h-1zM1173 385h1v1h-1zM1174 386h1v1h-1zM1175 386h1v1h-1zM1176 387h1v1h-1zM1177 387h1v1h-1zM1178 388h1v1h-1zM1179 388h1v1h-1zM1180 389h1v1h-1zM1181 389h1v1h-1zM1182 390h1v1h-1zM1183 390h1v1h-1zM1184 390h1v1h-1zM1185 391h1v1h-1zM1186 391h1v1h-1zM1187 392h1v1h-1zM1188 392h1v1h-1zM1189 393h1v1h-1zM1190 393h1v1h-1zM1191 394h1v1h-1zM1192 394h1v1h-1zM1193 395h1v1h-1zM1194 395h1v1h-1zM1195 396h1v1h-1zM1196 396h1v1h-1zM1197 397h1v1h-1zM1198 397h1v1h-1zM1199 398h1v1h-1zM1200 398h1v1h-1zM1201 399h1v1h-1zM1202 399h1v1h-1zM1203 400h1v1h-1zM1204 400h1v1h-1zM1205 401h1v1h-1zM1206 402h1v1h-1zM1207 403h1v1h-1zM1208 404h1v1h-1zM1209 405h1v1h-1zM1210 405h1v1h-1zM1211 406h1v1h-1zM1212 407h1v1h-1zM1213 408h1v1h-1zM1214 409h1v1h-1zM1215 410h1v1h-1zM1216 411h1v1h-1zM1217 412h1v1h-1zM1218 413h1v1h-1zM1219 414h1v1h-1zM1220 414h1v1h-1zM1221 415h1v1h-1zM1222 416h1v1h-1zM1223 417h1v1h-1zM1224 418h1v1h-1zM1225 419h1v1h-1zM1226 419h1v1h-1zM1227 420h1v1h-1zM1228 421h1v1h-1zM1229 422h1v1h-1zM1230 423h1v1h-1zM1231 424h1v1h-1zM1232 424h1v1h-1zM1233 425h1v1h-1zM1234 426h1v1h-1zM1235 427h1v1h-1zM1236 428h1v1h-1zM1237 428h1v1h-1zM1238 429h1v1h-1zM1239 430h1v1h-1zM1240 431h1v1h-1zM1241 432h1v1h-1z" fill="#0000cd" shape-rendering="crispEdges"/>
<path d="M1 71h1v1h-1zM2 72h1v1h-1zM3 73h1v1h-1zM4 74h1v2h-1zM5 76h1v1h-1zM6 77h1v1h-1zM7 78h1v1h-1zM8 79h1v1h-1zM9 80h1v1h-1zM10 81h1v1h-1zM11 82h1v1h-1zM12 82h1v1h-1zM13 83h1v1h-1zM14 83h1v1h-1zM15 84h1v1h-1zM16 84h1v1h-1zM17 85h1v1h-1zM18 85h1v1h-1zM19 85h1v1h-1zM20 85h1v1h-1zM21 85h1v1h-1zM22 85h1v1h-1zM23 85h1v1h-1zM24 85h1v1h-1zM25 84h1v1h-1zM26 84h1v1h-1zM27 84h1v1h-1zM28 84h1v1h-1zM29 84h1v1h-1zM30 83h1v1h-1zM31 83h1v1h-1zM32 83h1v1h-1zM33 82h1v1h-1zM34 82h1v1h-1zM35 82h1v1h-1zM36 81h1v1h-1zM37 81h1v1h-1zM38 81h1v1h-1zM39 80h1v1h-1zM40 80h1v1h-1zM41 79h1v1h-1zM42 79h1v1h-1zM43 78h1v1h-1zM44 79h1v1h-1zM45 79h1v1h-1zM46 79h1v1h-1zM47 80h1v1h-1zM48 80h1v1h-1zM49 80h1v1h-1zM50 80h1v1h-1zM51 81h1v1h-1zM52 81h1v1h-1zM53 82h1v1h-1zM54 82h1v1h-1zM55 82h1v1h-1zM56 83h1v1h-1zM57 83h1v1h-1zM58 84h1v1h-1zM59 84h1v1h-1zM60 85h1v1h-1zM61 85h1v1h-1zM62 85h1v1h-1zM63 85h1v1h-1zM64 85h1v1h-1zM65 86h1v1h-1zM66 86h1v1h-1zM67 86h1v1h-1zM68 86h1v1h-1zM69 86h1v1h-1zM70 87h1v1h-1zM71 87h1v1h-1zM72 87h1v1h-1zM73 88h1v1h-1zM74 88h1v1h-1zM75 88h1v1h-1zM76 89h1v1h-1zM77 89h1v1h-1zM78 89h1v1h-1zM79 90h1v1h-1zM80 90h1v1h-1zM81 91h1v1h-1zM82 91h1v1h-1zM83 91h1v1h-1zM84 92h1v1h-1zM85 92h1v1h-1zM86 93h1v1h-1zM87 93h1v1h-1zM88 93h1v1h-1zM89 94h1v1h-1zM90 94h1v1h-1zM91 95h1v1h-1zM92 95h1v1h-1zM93 96h1v1h-1zM94 96h1v1h-1zM95 97h1v1h-1zM96 98h1v1h-1zM97 98h1v1h-1zM98 99h1v1h-1zM99 99h1v1h-1zM100 100h1v1h-1zM101 101h1v1h-1zM102 101h1v1h-1zM103 102h1v1h-1zM104 102h1v1h-1zM105 103h1v1h-1zM106 104h1v1h-1zM107 104h1v1h-1zM108 105h1v1h-1zM109 105h1v1h-1zM110 106h1v1h-1zM111 106h1v1h-1zM112 107h1v1h-1zM113 108h1v1h-1zM114 108h1v1h-1zM115 108h1v1h-1zM116 108h1v1h-1zM117 108h1v1h-1zM118 109h1v1h-1zM119 109h1v1h-1zM120 109h1v1h-1zM121 110h1v1h-1zM122 110h1v1h-1zM123 110h1v1h-1zM124 111h1v1h-1zM125 111h1v1h-1zM126 112h1v1h-1zM127 112h1v1h-1zM128 113h1v1h-1zM129 113h1v1h-1zM130 114h1v1h-1zM131 114h1v1h-1zM132 115h1v1h-1zM133 115h1v1h-1zM134 115h1v1h-1zM135 116h1v1h-1zM136 116h1v1h-1zM137 117h1v1h-1zM138 117h1v1h-1zM139 118h1v1h-1zM140 118h1v1h-1zM141 119h1v1h-1zM142 119h1v1h-1zM143 120h1v1h-1zM144 120h1v1h-1zM145 121h1v1h-1zM146 121h1v1h-1zM147 122h1v1h-1zM148 122h1v1h-1zM149 123h1v1h-1zM150 123h1v1h-1zM151 124h1v1h-1zM152 124h1v1h-1zM153 125h1v1h-1zM154 125h1v1h-1zM155 126h1v1h-1zM156 126h1v1h-1zM157 127h1v1h-1zM158 127h1v1h-1zM159 128h1v1h-1zM160 128h1v1h-1zM161 128h1v1h-1zM162 129h1v1h-1zM163 129h1v1h-1zM164 129h1v1h-1zM165 130h1v1h-1zM166 130h1v1h-1zM167 130h1v1h-1zM168 131h1v1h-1zM169 131h1v1h-1zM170 131h1v1h-1zM171 132h1v1h-1zM172 132h1v1h-1zM173 132h1v1h-1zM174 132h1v1h-1zM175 133h1v1h-1zM176 133h1v1h-1zM177 133h1v1h-1zM178 134h1v1h-1zM179 134h1v1h-1zM180 134h1v1h-1zM181 135h1v1h-1zM182 135h1v1h-1zM183 136h1v1h-1zM184 136h1v1h-1zM185 137h1v1h-1zM186 137h1v1h-1zM187 138h1v1h-1zM188 138h1v1h-1zM189 139h1v1h-1zM190 139h1v1h-1zM191 140h1v1h-1zM192 140h1v1h-1zM193 141h1v1h-1zM194 141h1v1h-1zM195 142h1v1h-1zM196 143h1v1h-1zM197 143h1v1h-1zM198 144h1v1h-1zM199 145h1v1h-1zM200 145h1v1h-1zM201 146h1v1h-1zM202 147h1v1h-1zM203 147h1v1h-1zM204 148h1v1h-1zM205 149h1v1h-1zM206 150h1v1h-1zM207 150h1v1h-1zM208 151h1v1h-1zM209 152h1v1h-1zM210 152h1v1h-1zM211 153h1v1h-1zM212 154h1v1h-1zM213 155h1v1h-1zM214 156h1v1h-1zM215 157h1v1h-1zM216 158h1v1h-1zM217 159h1v1h-1zM218 160h1v1h-1zM219 161h1v1h-1zM220 162h1v1h-1zM221 163h1v1h-1zM222 164h1v1h-1zM223 165h1v1h-1zM224 166h1v1h-1zM225 167h1v1h-1zM226 168h1v1h-1zM227 169h1v1h-1zM228 170h1v1h-1zM229 171h1v1h-1zM230 172h1v1h-1zM231 173h1v1h-1zM232 174h1v1h-1zM233 175h1v1h-1zM234 176h1v2h-1zM235 178h1v1h-1zM236 179h1v1h-1zM237 180h1v1h-1zM238 181h1v1h-1zM239 182h1v1h-1zM240 183h1v2h-1zM241 185h1v1h-1zM242 186h1v1h-1zM243 187h1v1h-1zM244 188h1v2h-1zM245 190h1v1h-1zM246 191h1v2h-1zM247 193h1v1h-1zM248 194h1v2h-1zM249 196h1v2h-1zM250 198h1v1h-1zM251 199h1v2h-1zM252 201h1v1h-1zM253 202h1v2h-1zM254 204h1v2h-1zM255 206h1v1h-1zM256 207h1v2h-1zM257 209h1v2h-1zM258 211h1v1h-1zM259 212h1v2h-1zM260 214h1v2h-1zM261 216h1v2h-1zM262 218h1v1h-1zM263 219h1v2h-1zM264 221h1v2h-1zM265 223h1v2h-1zM266 225h1v2h-1zM267 227h1v2h-1zM268 229h1v1h-1zM269 230h1v2h-1zM270 232h1v2h-1zM271 234h1v2h-1zM272 236h1v2h-1zM273 238h1v2h-1zM274 240h1v1h-1zM275 241h1v2h-1zM276 243h1v2h-1zM277 245h1v2h-1zM278 247h1v2h-1zM279 249h1v2h-1zM280 251h1v1h-1zM281 252h1v2h-1zM282 254h1v2h-1zM283 256h1v1h-1zM284 257h1v1h-1zM285 258h1v1h-1zM286 259h1v2h-1zM287 261h1v1h-1zM288 262h1v1h-1zM289 263h1v1h-1zM290 264h1v1h-1zM291 265h1v2h-1zM292 267h1v1h-1zM293 268h1v1h-1zM294 269h1v1h-1zM295 270h1v2h-1zM296 272h1v2h-1zM297 274h1v2h-1zM298 276h1v2h-1zM299 278h1v2h-1zM300 280h1v2h-1zM301 282h1v1h-1zM302 283h1v2h-1zM303 285h1v2h-1zM304 287h1v2h-1zM305 289h1v2h-1zM306 291h1v2h-1zM307 293h1v2h-1zM308 295h1v1h-1zM309 296h1v1h-1zM310 297h1v2h-1zM311 299h1v1h-1zM312 300h1v2h-1zM313 302h1v1h-1zM314 303h1v2h-1zM315 304h1v1h-1zM316 305h1v1h-1zM317 306h1v1h-1zM318 306h1v1h-1zM319 307h1v1h-1zM320 308h1v1h-1zM321 308h1v1h-1zM322 309h1v1h-1zM323 310h1v1h-1zM324 310h1v1h-1zM325 311h1v1h-1zM326 312h1v1h-1zM327 312h1v1h-1zM328 313h1v1h-1zM329 314h1v1h-1zM330 314h1v1h-1zM331 315h1v1h-1zM332 316h1v1h-1zM333 316h1v1h-1zM334 317h1v1h-1zM335 317h1v1h-1zM336 318h1v1h-1zM337 318h1v1h-1zM338 319h1v1h-1zM339 319h1v1h-1zM340 320h1v1h-1zM341 320h1v1h-1zM342 321h1v1h-1zM343 321h1v1h-1zM344 322h1v1h-1zM345 322h1v1h-1zM346 323h1v1h-1zM347 323h1v1h-1zM348 324h1v1h-1zM349 324h1v1h-1zM350 324h1v1h-1zM351 325h1v1h-1zM352 325h1v1h-1zM353 325h1v1h-1zM354 326h1v1h-1zM355 326h1v1h-1zM356 327h1v1h-1zM357 327h1v1h-1zM358 327h1v1h-1zM359 328h1v1h-1zM360 328h1v1h-1zM361 328h1v1h-1zM362 329h1v1h-1zM363 329h1v1h-1zM364 329h1v1h-1zM365 330h1v1h-1zM366 330h1v1h-1zM367 330h1v1h-1zM368 331h1v1h-1zM369 331h1v1h-1zM370 331h1v1h-1zM371 332h1v1h-1zM372 332h1v1h-1zM373 333h1v1h-1zM374 333h1v1h-1zM375 334h1v1h-1zM376 334h1v1h-1zM377 334h1v1h-1zM378 335h1v1h-1zM379 335h1v1h-1zM380 336h1v1h-1zM381 336h1v1h-1zM382 336h1v1h-1zM383 336h1v1h-1zM384 336h1v1h-1zM385 336h1v1h-1zM386 337h1v1h-1zM387 337h1v1h-1zM388 338h1v1h-1zM389 338h1v1h-1zM390 339h1v1h-1zM391 340h1v1h-1zM392 340h1v1h-1zM393 341h1v1h-1zM394 342h1v1h-1zM395 342h1v1h-1zM396 343h1v1h-1zM397 344h1v1h-1zM398 344h1v1h-1zM399 344h1v1h-1zM400 345h1v1h-1zM401 345h1v1h-1zM402 346h1v1h-1zM403 346h1v1h-1zM404 347h1v1h-1zM405 347h1v1h-1zM406 348h1v1h-1zM407 348h1v1h-1zM408 349h1v1h-1zM409 349h1v1h-1zM410 348h1v1h-1zM411 348h1v1h-1zM412 348h1v1h-1zM413 347h1v1h-1zM414 347h1v1h-1zM415 347h1v1h-1zM416 346h1v1h-1zM417 346h1v1h-1zM418 346h1v1h-1zM419 345h1v1h-1zM420 345h1v1h-1zM421 345h1v1h-1zM422 345h1v1h-1zM423 345h1v1h-1zM424 345h1v1h-1zM425 345h1v1h-1zM426 345h1v1h-1zM427 345h1v1h-1zM428 345h1v1h-1zM429 345h1v1h-1zM430 345h1v1h-1zM431 345h1v1h-1zM432 345h1v1h-1zM433 345h1v1h-1zM434 345h1v1h-1zM435 345h1v1h-1zM436 346h1v1h-1zM437 346h1v1h-1zM438 346h1v1h-1zM439 346h1v1h-1zM440 347h1v1h-1zM441 347h1v1h-1zM442 347h1v1h-1zM443 348h1v1h-1zM444 348h1v1h-1zM445 348h1v1h-1zM446 349h1v1h-1zM447 349h1v1h-1zM448 349h1v1h-1zM449 350h1v1h-1zM450 350h1v1h-1zM451 351h1v1h-1zM452 352h1v1h-1zM453 352h1v1h-1zM454 353h1v1h-1zM455 353h1v1h-1zM456 354h1v1h-1zM457 355h1v1h-1zM458 355h1v1h-1zM459 356h1v1h-1zM460 356h1v1h-1zM461 357h1v1h-1zM462 357h1v1h-1zM463 358h1v1h-1zM464 358h1v1h-1zM465 358h1v1h-1zM466 359h1v1h-1zM467 359h1v1h-1zM468 359h1v1h-1zM469 360h1v1h-1zM470 360h1v1h-1zM471 360h1v1h-1zM472 361h1v1h-1zM473 361h1v1h-1zM474 361h1v1h-1zM475 362h1v1h-1zM476 362h1v1h-1zM477 362h1v1h-1zM478 363h1v1h-1zM479 363h1v1h-1zM480 363h1v1h-1zM481 364h1v1h-1zM482 364h1v1h-1zM483 364h1v1h-1zM484 365h1v1h-1zM485 365h1v1h-1zM486 365h1v1h-1zM487 366h1v1h-1zM488 366h1v1h-1zM489 366h1v1h-1zM490 366h1v1h-1zM491 365h1v1h-1zM492 365h1v1h-1zM493 365h1v1h-1zM494 365h1v1h-1zM495 364h1v1h-1zM496 364h1v1h-1zM497 364h1v1h-1zM498 363h1v1h-1zM499 363h1v1h-1zM500 363h1v1h-1zM501 363h1v1h-1zM502 362h1v1h-1zM503 362h1v1h-1zM504 362h1v1h-1zM505 361h1v1h-1zM506 361h1v1h-1zM507 361h1v1h-1zM508 361h1v1h-1zM509 360h1v1h-1zM510 360h1v1h-1zM511 360h1v1h-1zM512 359h1v1h-1zM513 359h1v1h-1zM514 359h1v1h-1zM515 358h1v1h-1zM516 358h1v1h-1zM517 358h1v1h-1zM518 358h1v1h-1zM519 357h1v1h-1zM520 357h1v1h-1zM521 357h1v1h-1zM522 357h1v1h-1zM523 356h1v1h-1zM524 356h1v1h-1zM525 356h1v1h-1zM526 356h1v1h-1zM527 355h1v1h-1zM528 355h1v1h-1zM529 355h1v1h-1zM530 355h1v1h-1zM531 354h1v1h-1zM532 354h1v1h-1zM533 354h1v1h-1zM534 354h1v1h-1zM535 354h1v1h-1zM536 353h1v1h-1zM537 353h1v1h-1zM538 353h1v1h-1zM539 353h1v1h-1zM540 353h1v1h-1zM541 352h1v1h-1zM542 352h1v1h-1zM543 352h1v1h-1zM544 352h1v1h-1zM545 352h1v1h-1zM546 352h1v1h-1zM547 353h1v1h-1zM548 353h1v1h-1zM549 353h1v1h-1zM550 353h1v1h-1zM551 353h1v1h-1zM552 353h1v1h-1zM553 353h1v1h-1zM554 353h1v1h-1zM555 353h1v1h-1zM556 352h1v1h-1zM557 352h1v1h-1zM558 352h1v1h-1zM559 352h1v1h-1zM560 352h1v1h-1zM561 352h1v1h-1zM562 352h1v1h-1zM563 352h1v1h-1zM564 351h1v1h-1zM565 351h1v1h-1zM566 351h1v1h-1zM567 351h1v1h-1zM568 351h1v1h-1zM569 351h1v1h-1zM570 351h1v1h-1zM571 351h1v1h-1zM572 350h1v1h-1zM573 350h1v1h-1zM574 350h1v1h-1zM575 350h1v1h-1zM576 350h1v1h-1zM577 350h1v1h-1zM578 349h1v1h-1zM579 349h1v1h-1zM580 349h1v1h-1zM581 348h1v1h-1zM582 348h1v1h-1zM583 348h1v1h-1zM584 347h1v1h-1zM585 347h1v1h-1zM586 347h1v1h-1zM587 346h1v1h-1zM588 346h1v1h-1zM589 346h1v1h-1zM590 345h1v1h-1zM591 345h1v1h-1zM592 345h1v1h-1zM593 345h1v1h-1zM594 345h1v1h-1zM595 344h1v1h-1zM596 344h1v1h-1zM597 344h1v1h-1zM598 344h1v1h-1zM599 344h1v1h-1zM600 343h1v1h-1zM601 343h1v1h-1zM602 343h1v1h-1zM603 343h1v1h-1zM604 343h1v1h-1zM605 343h1v1h-1zM606 343h1v1h-1zM607 343h1v1h-1zM608 343h1v1h-1zM609 343h1v1h-1zM610 344h1v1h-1zM611 344h1v1h-1zM612 344h1v1h-1zM613 344h1v1h-1zM614 344h1v1h-1zM615 344h1v1h-1zM616 344h1v1h-1zM617 344h1v1h-1zM618 344h1v1h-1zM619 344h1v1h-1zM620 344h1v1h-1zM621 344h1v1h-1zM622 344h1v1h-1zM623 343h1v1h-1zM624 343h1v1h-1zM625 343h1v1h-1zM626 343h1v1h-1zM627 343h1v1h-1zM628 342h1v1h-1zM629 342h1v1h-1zM630 341h1v1h-1zM631 341h1v1h-1zM632 340h1v1h-1zM633 340h1v1h-1zM634 339h1v1h-1zM635 339h1v1h-1zM636 338h1v1h-1zM637 338h1v1h-1zM638 337h1v1h-1zM639 337h1v1h-1zM640 336h1v1h-1zM641 336h1v1h-1zM642 335h1v1h-1zM643 335h1v1h-1zM644 334h1v1h-1zM645 333h1v1h-1zM646 333h1v1h-1zM647 332h1v1h-1zM648 332h1v1h-1zM649 331h1v1h-1zM650 330h1v1h-1zM651 330h1v1h-1zM652 329h1v1h-1zM653 328h1v1h-1zM654 327h1v1h-1zM655 326h1v1h-1zM656 324h1v2h-1zM657 323h1v1h-1zM658 322h1v1h-1zM659 321h1v1h-1zM660 320h1v1h-1zM661 318h1v2h-1zM662 317h1v1h-1zM663 316h1v1h-1zM664 315h1v1h-1zM665 314h1v1h-1zM666 313h1v1h-1zM667 312h1v1h-1zM668 311h1v1h-1zM669 310h1v1h-1zM670 309h1v1h-1zM671 308h1v1h-1zM672 307h1v1h-1zM673 306h1v1h-1zM674 305h1v1h-1zM675 304h1v1h-1zM676 303h1v1h-1zM677 302h1v1h-1zM678 301h1v1h-1zM679 300h1v1h-1zM680 299h1v1h-1zM681 299h1v1h-1zM682 298h1v1h-1zM683 297h1v1h-1zM684 296h1v1h-1zM685 295h1v1h-1zM686 294h1v1h-1zM687 294h1v1h-1zM688 293h1v1h-1zM689 292h1v1h-1zM690 291h1v1h-1zM691 290h1v1h-1zM692 290h1v1h-1zM693 289h1v1h-1zM694 288h1v1h-1zM695 287h1v1h-1zM696 287h1v1h-1zM697 286h1v1h-1zM698 285h1v1h-1zM699 284h1v1h-1zM700 284h1v1h-1zM701 283h1v1h-1zM702 282h1v1h-1zM703 281h1v1h-1zM704 281h1v1h-1zM705 280h1v1h-1zM706 280h1v1h-1zM707 280h1v1h-1zM708 279h1v1h-1zM709 279h1v1h-1zM710 279h1v1h-1zM711 278h1v1h-1zM712 278h1v1h-1zM713 278h1v1h-1zM714 277h1v1h-1zM715 277h1v1h-1zM716 277h1v1h-1zM717 276h1v1h-1zM718 276h1v1h-1zM719 276h1v1h-1zM720 276h1v1h-1zM721 275h1v1h-1zM722 275h1v1h-1zM723 275h1v1h-1zM724 275h1v1h-1zM725 274h1v1h-1zM726 274h1v1h-1zM727 274h1v1h-1zM728 273h1v1h-1zM729 273h1v1h-1zM730 273h1v1h-1zM731 272h1v1h-1zM732 272h1v1h-1zM733 272h1v1h-1zM734 272h1v1h-1zM735 272h1v1h-1zM736 272h1v1h-1zM737 272h1v1h-1zM738 272h1v1h-1zM739 272h1v1h-1zM740 272h1v1h-1zM741 272h1v1h-1zM742 272h1v1h-1zM743 273h1v1h-1zM744 273h1v1h-1zM745 274h1v1h-1zM746 274h1v1h-1zM747 275h1v1h-1zM748 275h1v1h-1zM749 276h1v1h-1zM750 276h1v1h-1zM751 277h1v1h-1zM752 278h1v1h-1zM753 279h1v1h-1zM754 280h1v1h-1zM755 281h1v1h-1zM756 282h1v1h-1zM757 283h1v1h-1zM758 284h1v1h-1zM759 285h1v1h-1zM760 286h1v1h-1zM761 287h1v1h-1zM762 288h1v2h-1zM763 290h1v1h-1zM764 291h1v1h-1zM765 292h1v1h-1zM766 293h1v1h-1zM767 294h1v1h-1zM768 295h1v1h-1zM769 296h1v1h-1zM770 297h1v1h-1zM771 298h1v1h-1zM772 299h1v1h-1zM773 300h1v1h-1zM774 301h1v1h-1zM775 302h1v1h-1zM776 303h1v1h-1zM777 304h1v1h-1zM778 304h1v1h-1zM779 305h1v1h-1zM780 306h1v1h-1zM781 306h1v1h-1zM782 307h1v1h-1zM783 308h1v1h-1zM784 308h1v1h-1zM785 309h1v1h-1zM786 310h1v1h-1zM787 310h1v1h-1zM788 311h1v1h-1zM789 311h1v1h-1zM790 312h1v1h-1zM791 312h1v1h-1zM792 312h1v1h-1zM793 312h1v1h-1zM794 313h1v1h-1zM795 313h1v1h-1zM796 313h1v1h-1zM797 314h1v1h-1zM798 314h1v1h-1zM799 314h1v1h-1zM800 315h1v1h-1zM801 315h1v1h-1zM802 315h1v1h-1zM803 316h1v1h-1zM804 316h1v1h-1zM805 317h1v1h-1zM806 317h1v1h-1zM807 317h1v1h-1zM808 318h1v1h-1zM809 318h1v1h-1zM810 319h1v1h-1zM811 319h1v1h-1zM812 320h1v1h-1zM813 321h1v1h-1zM814 321h1v1h-1zM815 322h1v1h-1zM816 323h1v1h-1zM817 324h1v1h-1zM818 324h1v1h-1zM819 325h1v1h-1zM820 326h1v1h-1zM821 327h1v1h-1zM822 327h1v1h-1zM823 328h1v1h-1zM824 329h1v1h-1zM825 330h1v1h-1zM826 330h1v1h-1zM827 330h1v1h-1zM828 331h1v1h-1zM829 332h1v1h-1zM830 332h1v1h-1zM831 332h1v1h-1zM832 333h1v1h-1zM833 334h1v1h-1zM834 334h1v1h-1zM835 334h1v1h-1zM836 335h1v1h-1zM837 336h1v1h-1zM838 336h1v1h-1zM839 337h1v1h-1zM840 338h1v1h-1zM841 338h1v1h-1zM842 339h1v1h-1zM843 340h1v1h-1zM844 341h1v1h-1zM845 341h1v1h-1zM846 342h1v1h-1zM847 343h1v1h-1zM848 343h1v1h-1zM849 344h1v1h-1zM850 345h1v1h-1zM851 345h1v1h-1zM852 346h1v1h-1zM853 347h1v1h-1zM854 347h1v1h-1zM855 348h1v1h-1zM856 349h1v1h-1zM857 349h1v1h-1zM858 350h1v1h-1zM859 350h1v1h-1zM860 350h1v1h-1zM861 351h1v1h-1zM862 351h1v1h-1zM863 351h1v1h-1zM864 351h1v1h-1zM865 351h1v1h-1zM866 351h1v1h-1zM867 352h1v1h-1zM868 352h1v1h-1zM869 352h1v1h-1zM870 352h1v1h-1zM871 352h1v1h-1zM872 352h1v1h-1zM873 353h1v1h-1zM874 353h1v1h-1zM875 353h1v1h-1zM876 353h1v1h-1zM877 353h1v1h-1zM878 353h1v1h-1zM879 353h1v1h-1zM880 353h1v1h-1zM881 352h1v1h-1zM882 352h1v1h-1zM883 352h1v1h-1zM884 352h1v1h-1zM885 352h1v1h-1zM886 352h1v1h-1zM887 352h1v1h-1zM888 352h1v1h-1zM889 352h1v1h-1zM890 352h1v1h-1zM891 351h1v1h-1zM892 351h1v1h-1zM893 351h1v1h-1zM894 351h1v1h-1zM895 351h1v1h-1zM896 350h1v1h-1zM897 350h1v1h-1zM898 350h1v1h-1zM899 350h1v1h-1zM900 350h1v1h-1zM901 349h1v1h-1zM902 349h1v1h-1zM903 349h1v1h-1zM904 349h1v1h-1zM905 349h1v1h-1zM906 348h1v1h-1zM907 348h1v1h-1zM908 348h1v1h-1zM909 348h1v1h-1zM910 348h1v1h-1zM911 347h1v1h-1zM912 347h1v1h-1zM913 347h1v1h-1zM914 347h1v1h-1zM915 347h1v1h-1zM916 347h1v1h-1zM917 347h1v1h-1zM918 347h1v1h-1zM919 347h1v1h-1zM920 347h1v1h-1zM921 347h1v1h-1zM922 348h1v1h-1zM923 348h1v1h-1zM924 348h1v1h-1zM925 348h1v1h-1zM926 348h1v1h-1zM927 348h1v1h-1zM928 348h1v1h-1zM929 348h1v1h-1zM930 348h1v1h-1zM931 347h1v1h-1zM932 347h1v1h-1zM933 347h1v1h-1zM934 347h1v1h-1zM935 347h1v1h-1zM936 347h1v1h-1zM937 347h1v1h-1zM938 347h1v1h-1zM939 347h1v1h-1zM940 347h1v1h-1zM941 348h1v1h-1zM942 348h1v1h-1zM943 349h1v1h-1zM944 349h1v1h-1zM945 349h1v1h-1zM946 350h1v1h-1zM947 350h1v1h-1zM948 351h1v1h-1zM949 351h1v1h-1zM950 352h1v1h-1zM951 352h1v1h-1zM952 353h1v1h-1zM953 353h1v1h-1zM954 353h1v1h-1zM955 353h1v1h-1zM956 352h1v1h-1zM957 352h1v1h-1zM958 352h1v1h-1zM959 352h1v1h-1zM960 351h1v1h-1zM961 351h1v1h-1zM962 351h1v1h-1zM963 350h1v1h-1zM964 349h1v1h-1zM965 349h1v1h-1zM966 348h1v1h-1zM967 347h1v1h-1zM968 347h1v1h-1zM969 346h1v1h-1zM970 345h1v1h-1zM971 345h1v1h-1zM972 344h1v1h-1zM973 343h1v1h-1zM974 343h1v1h-1zM975 342h1v1h-1zM976 341h1v1h-1zM977 341h1v1h-1zM978 341h1v1h-1zM979 340h1v1h-1zM980 340h1v1h-1zM981 339h1v1h-1zM982 339h1v1h-1zM983 339h1v1h-1zM984 338h1v1h-1zM985 338h1v1h-1zM986 338h1v1h-1zM987 338h1v1h-1zM988 337h1v1h-1zM989 337h1v1h-1zM990 337h1v1h-1zM991 337h1v1h-1zM992 337h1v1h-1zM993 336h1v1h-1zM994 336h1v1h-1zM995 336h1v1h-1zM996 337h1v1h-1zM997 337h1v1h-1zM998 337h1v1h-1zM999 337h1v1h-1zM1000 338h1v1h-1zM1001 338h1v1h-1zM1002 338h1v1h-1zM1003 338h1v1h-1zM1004 338h1v1h-1zM1005 339h1v1h-1zM1006 339h1v1h-1zM1007 339h1v1h-1zM1008 339h1v1h-1zM1009 340h1v1h-1zM1010 340h1v1h-1zM1011 341h1v1h-1zM1012 341h1v1h-1zM1013 342h1v1h-1zM1014 342h1v1h-1zM1015 342h1v1h-1zM1016 343h1v1h-1zM1017 343h1v1h-1zM1018 344h1v1h-1zM1019 344h1v1h-1zM1020 344h1v1h-1zM1021 345h1v1h-1zM1022 345h1v1h-1zM1023 346h1v1h-1zM1024 346h1v1h-1zM1025 346h1v1h-1zM1026 347h1v1h-1zM1027 347h1v1h-1zM1028 347h1v1h-1zM1029 348h1v1h-1zM1030 348h1v1h-1zM1031 348h1v1h-1zM1032 348h1v1h-1zM1033 348h1v1h-1zM1034 348h1v1h-1zM1035 348h1v1h-1zM1036 348h1v1h-1zM1037 348h1v1h-1zM1038 348h1v1h-1zM1039 348h1v1h-1zM1040 348h1v1h-1zM1041 347h1v1h-1zM1042 347h1v1h-1zM1043 347h1v1h-1zM1044 347h1v1h-1zM1045 347h1v1h-1zM1046 347h1v1h-1zM1047 346h1v1h-1zM1048 346h1v1h-1zM1049 345h1v1h-1zM1050 344h1v1h-1zM1051 344h1v1h-1zM1052 343h1v1h-1zM1053 342h1v1h-1zM1054 342h1v1h-1zM1055 341h1v1h-1zM1056 340h1v1h-1zM1057 339h1v1h-1zM1058 339h1v1h-1zM1059 338h1v1h-1zM1060 338h1v1h-1zM1061 337h1v1h-1zM1062 336h1v1h-1zM1063 336h1v1h-1zM1064 335h1v1h-1zM1065 334h1v1h-1zM1066 334h1v1h-1zM1067 333h1v1h-1zM1068 333h1v1h-1zM1069 333h1v1h-1zM1070 333h1v1h-1zM1071 333h1v1h-1zM1072 334h1v1h-1zM1073 334h1v1h-1zM1074 334h1v1h-1zM1075 334h1v1h-1zM1076 334h1v1h-1zM1077 335h1v1h-1zM1078 335h1v1h-1zM1079 336h1v1h-1zM1080 336h1v1h-1zM1081 337h1v1h-1zM1082 337h1v1h-1zM1083 338h1v1h-1zM1084 339h1v1h-1zM1085 339h1v1h-1zM1086 340h1v1h-1zM1087 340h1v1h-1zM1088 341h1v1h-1zM1089 342h1v1h-1zM1090 342h1v1h-1zM1091 343h1v1h-1zM1092 344h1v1h-1zM1093 344h1v1h-1zM1094 345h1v1h-1zM1095 345h1v1h-1zM1096 346h1v1h-1zM1097 346h1v1h-1zM1098 347h1v1h-1zM1099 348h1v1h-1zM1100 348h1v1h-1zM1101 349h1v1h-1zM1102 349h1v1h-1zM1103 350h1v1h-1zM1104 350h1v1h-1zM1105 351h1v1h-1zM1106 352h1v1h-1zM1107 352h1v1h-1zM1108 353h1v1h-1zM1109 353h1v1h-1zM1110 354h1v1h-1zM1111 355h1v1h-1zM1112 356h1v1h-1zM1113 356h1v1h-1zM1114 357h1v1h-1zM1115 358h1v1h-1zM1116 359h1v1h-1zM1117 360h1v1h-1zM1118 361h1v1h-1zM1119 362h1v1h-1zM1120 363h1v1h-1zM1121 364h1v1h-1zM1122 365h1v1h-1zM1123 366h1v1h-1zM1124 367h1v1h-1zM1125 368h1v1h-1zM1126 369h1v2h-1zM1127 371h1v1h-1zM1128 372h1v2h-1zM1129 374h1v1h-1zM1130 375h1v1h-1zM1131 376h1v2h-1zM1132 378h1v1h-1zM1133 379h1v2h-1zM1134 381h1v1h-1zM1135 382h1v1h-1zM1136 383h1v2h-1zM1137 385h1v1h-1zM1138 386h1v2h-1zM1139 388h1v1h-1zM1140 389h1v1h-1zM1141 390h1v2h-1zM1142 392h1v1h-1zM1143 393h1v2h-1zM1144 395h1v1h-1zM1145 396h1v1h-1zM1146 397h1v2h-1zM1147 399h1v1h-1zM1148 400h1v1h-1zM1149 400h1v1h-1zM1150 401h1v1h-1zM1151 402h1v2h-1zM1152 404h1v1h-1zM1153 405h1v2h-1zM1154 407h1v1h-1zM1155 408h1v2h-1zM1156 410h1v1h-1zM1157 411h1v1h-1zM1158 412h1v2h-1zM1159 414h1v1h-1zM1160 415h1v2h-1zM1161 417h1v1h-1zM1162 418h1v2h-1zM1163 420h1v1h-1zM1164 421h1v2h-1zM1165 423h1v1h-1zM1166 424h1v2h-1zM1167 426h1v1h-1zM1168 427h1v2h-1zM1169 429h1v1h-1zM1170 430h1v2h-1zM1171 432h1v1h-1zM1172 433h1v2h-1zM1173 435h1v1h-1zM1174 436h1v2h-1zM1175 438h1v1h-1zM1176 439h1v2h-1zM1177 441h1v1h-1zM1178 442h1v1h-1zM1179 443h1v1h-1zM1180 444h1v1h-1zM1181 445h1v1h-1zM1182 446h1v1h-1zM1183 447h1v1h-1zM1184 448h1v2h-1zM1185 450h1v1h-1zM1186 451h1v1h-1zM1187 452h1v1h-1zM1188 453h1v1h-1zM1189 454h1v1h-1zM1190 455h1v1h-1zM1191 456h1v1h-1zM1192 457h1v1h-1zM1193 458h1v1h-1zM1194 459h1v1h-1zM1195 460h1v1h-1zM1196 461h1v1h-1zM1197 462h1v1h-1zM1198 463h1v1h-1zM1199 464h1v1h-1zM1200 465h1v1h-1zM1201 466h1v1h-1zM1202 467h1v1h-1zM1203 468h1v1h-1zM1204 469h1v1h-1zM1205 470h1v1h-1zM1206 471h1v2h-1zM1207 473h1v1h-1zM1208 474h1v1h-1zM1209 475h1v2h-1zM1210 477h1v1h-1zM1211 478h1v2h-1zM1212 480h1v1h-1zM1213 481h1v2h-1zM1214 483h1v1h-1zM1215 484h1v1h-1zM1216 485h1v2h-1zM1217 487h1v1h-1zM1218 488h1v1h-1zM1219 489h1v1h-1zM1220 490h1v1h-1zM1221 491h1v1h-1zM1222 492h1v1h-1zM1223 493h1v1h-1zM1224 494h1v1h-1zM1225 495h1v1h-1zM1226 495h1v1h-1zM1227 496h1v1h-1zM1228 497h1v1h-1zM1229 497h1v1h-1zM1230 498h1v1h-1zM1231 498h1v1h-1zM1232 499h1v1h-1zM1233 500h1v1h-1zM1234 500h1v1h-1zM1235 501h1v1h-1zM1236 501h1v1h-1zM1237 501h1v1h-1zM1238 502h1v1h-1zM1239 502h1v1h-1zM1240 503h1v1h-1zM1241 503h1v1h-1z" fill="#ff0000" shape-rendering="crispEdges"/>
<path d="M0 69h1v1h-1zM1 70h1v1h-1zM2 71h1v2h-1zM3 73h1v1h-1zM4 74h1v1h-1zM5 75h1v1h-1zM6 76h1v1h-1zM7 77h1v2h-1zM8 79h1v1h-1zM9 80h1v1h-1zM10 81h1v1h-1zM11 82h1v1h-1zM12 83h1v1h-1zM13 83h1v1h-1zM14 84h1v1h-1zM15 84h1v1h-1zM16 85h1v1h-1zM17 86h1v1h-1zM18 86h1v1h-1zM19 87h1v1h-1zM20 88h1v1h-1zM21 88h1v1h-1zM22 89h1v1h-1zM23 89h1v1h-1zM24 90h1v1h-1zM25 91h1v1h-1zM26 91h1v1h-1zM27 92h1v1h-1zM28 93h1v1h-1zM29 93h1v1h-1zM30 94h1v1h-1zM31 94h1v1h-1zM32 95h1v1h-1zM33 96h1v1h-1zM34 96h1v1h-1zM35 96h1v1h-1zM36 96h1v1h-1zM37 96h1v1h-1zM38 96h1v1h-1zM39 96h1v1h-1zM40 96h1v1h-1zM41 96h1v1h-1zM42 95h1v1h-1zM43 94h1v1h-1zM44 94h1v1h-1zM45 93h1v1h-1zM46 92h1v1h-1zM47 91h1v1h-1zM48 90h1v1h-1zM49 89h1v1h-1zM50 88h1v1h-1zM51 88h1v1h-1zM52 88h1v1h-1zM53 88h1v1h-1zM54 88h1v1h-1zM55 88h1v1h-1zM56 88h1v1h-1zM57 89h1v1h-1zM58 89h1v1h-1zM59 90h1v1h-1zM60 90h1v1h-1zM61 91h1v1h-1zM62 91h1v1h-1zM63 91h1v1h-1zM64 92h1v1h-1zM65 92h1v1h-1zM66 93h1v1h-1zM67 93h1v1h-1zM68 93h1v1h-1zM69 94h1v1h-1zM70 94h1v1h-1zM71 94h1v1h-1zM72 95h1v1h-1zM73 95h1v1h-1zM74 95h1v1h-1zM75 96h1v1h-1zM76 96h1v1h-1zM77 96h1v1h-1zM78 97h1v1h-1zM79 97h1v1h-1zM80 97h1v1h-1zM81 98h1v1h-1zM82 99h1v1h-1zM83 100h1v1h-1zM84 101h1v1h-1zM85 102h1v1h-1zM86 103h1v1h-1zM87 104h1v1h-1zM88 105h1v1h-1zM89 106h1v1h-1zM90 107h1v1h-1zM91 108h1v1h-1zM92 109h1v1h-1zM93 109h1v1h-1zM94 110h1v1h-1zM95 111h1v1h-1zM96 111h1v1h-1zM97 112h1v1h-1zM98 113h1v1h-1zM99 113h1v1h-1zM100 114h1v1h-1zM101 115h1v1h-1zM102 116h1v1h-1zM103 117h1v1h-1zM104 118h1v2h-1zM105 120h1v1h-1zM106 121h1v1h-1zM107 122h1v1h-1zM108 123h1v1h-1zM109 124h1v2h-1zM110 126h1v1h-1zM111 127h1v1h-1zM112 128h1v1h-1zM113 129h1v1h-1zM114 130h1v1h-1zM115 131h1v1h-1zM116 132h1v1h-1zM117 133h1v2h-1zM118 135h1v1h-1zM119 136h1v1h-1zM120 137h1v1h-1zM121 138h1v1h-1zM122 139h1v1h-1zM123 139h1v1h-1zM124 140h1v1h-1zM125 141h1v1h-1zM126 142h1v1h-1zM127 143h1v1h-1zM128 143h1v1h-1zM129 144h1v1h-1zM130 145h1v1h-1zM131 145h1v1h-1zM132 145h1v1h-1zM133 145h1v1h-1zM134 145h1v1h-1zM135 145h1v1h-1zM136 145h1v1h-1zM137 145h1v1h-1zM138 145h1v1h-1zM139 145h1v1h-1zM140 145h1v1h-1zM141 145h1v1h-1zM142 145h1v1h-1zM143 145h1v1h-1zM144 145h1v1h-1zM145 145h1v1h-1zM146 145h1v1h-1zM147 145h1v1h-1zM148 145h1v1h-1zM149 145h1v1h-1zM150 145h1v1h-1zM151 144h1v1h-1zM152 143h1v1h-1zM153 143h1v1h-1zM154 142h1v1h-1zM155 141h1v1h-1zM156 141h1v1h-1zM157 140h1v1h-1zM158 140h1v1h-1zM159 139h1v1h-1zM160 138h1v1h-1zM161 138h1v1h-1zM162 137h1v1h-1zM163 137h1v1h-1zM164 136h1v1h-1zM165 136h1v1h-1zM166 135h1v1h-1zM167 135h1v1h-1zM168 134h1v1h-1zM169 134h1v1h-1zM170 133h1v1h-1zM171 134h1v1h-1zM172 134h1v1h-1zM173 134h1v1h-1zM174 135h1v1h-1zM175 135h1v1h-1zM176 135h1v1h-1zM177 136h1v1h-1zM178 136h1v1h-1zM179 137h1v1h-1zM180 137h1v1h-1zM181 138h1v1h-1zM182 138h1v1h-1zM183 139h1v1h-1zM184 139h1v1h-1zM185 140h1v1h-1zM186 140h1v1h-1zM187 140h1v1h-1zM188 140h1v1h-1zM189 140h1v1h-1zM190 140h1v1h-1zM191 140h1v1h-1zM192 140h1v1h-1zM193 140h1v1h-1zM194 141h1v2h-1zM195 143h1v1h-1zM196 144h1v1h-1zM197 145h1v2h-1zM198 147h1v1h-1zM199 148h1v1h-1zM200 149h1v2h-1zM201 151h1v1h-1zM202 152h1v1h-1zM203 153h1v3h-1zM204 156h1v2h-1zM205 158h1v3h-1zM206 161h1v2h-1zM207 163h1v3h-1zM208 166h1v2h-1zM209 168h1v3h-1zM210 171h1v2h-1zM211 173h1v3h-1zM212 176h1v3h-1zM213 179h1v3h-1zM214 182h1v2h-1zM215 184h1v3h-1zM216 187h1v3h-1zM217 190h1v3h-1zM218 193h1v2h-1zM219 195h1v3h-1zM220 198h1v2h-1zM221 200h1v2h-1zM222 202h1v3h-1zM223 205h1v3h-1zM224 208h1v3h-1zM225 211h1v3h-1zM226 214h1v3h-1zM227 217h1v2h-1zM228 219h1v3h-1zM229 222h1v3h-1zM230 225h1v3h-1zM231 228h1v3h-1zM232 231h1v2h-1zM233 233h1v3h-1zM234 236h1v2h-1zM235 238h1v3h-1zM236 241h1v2h-1zM237 243h1v3h-1zM238 246h1v2h-1zM239 248h1v3h-1zM240 251h1v2h-1zM241 253h1v3h-1zM242 256h1v2h-1zM243 258h1v3h-1zM244 261h1v2h-1zM245 263h1v2h-1zM246 265h1v2h-1zM247 267h1v2h-1zM248 269h1v2h-1zM249 271h1v2h-1zM250 273h1v2h-1zM251 275h1v1h-1zM252 276h1v2h-1zM253 278h1v2h-1zM254 280h1v2h-1zM255 282h1v2h-1zM256 284h1v2h-1zM257 286h1v2h-1zM258 288h1v1h-1zM259 289h1v2h-1zM260 291h1v2h-1zM261 293h1v2h-1zM262 295h1v2h-1zM263 297h1v2h-1zM264 299h1v1h-1zM265 300h1v2h-1zM266 302h1v2h-1zM267 304h1v2h-1zM268 306h1v2h-1zM269 308h1v1h-1zM270 309h1v2h-1zM271 311h1v1h-1zM272 312h1v1h-1zM273 313h1v2h-1zM274 315h1v1h-1zM275 316h1v1h-1zM276 317h1v2h-1zM277 319h1v1h-1zM278 320h1v1h-1zM279 321h1v2h-1zM280 323h1v1h-1zM281 324h1v1h-1zM282 325h1v1h-1zM283 324h1v1h-1zM284 324h1v1h-1zM285 324h1v1h-1zM286 324h1v1h-1zM287 323h1v1h-1zM288 323h1v1h-1zM289 323h1v1h-1zM290 322h1v1h-1zM291 322h1v1h-1zM292 322h1v1h-1zM293 322h1v1h-1zM294 321h1v1h-1zM295 321h1v1h-1zM296 321h1v1h-1zM297 321h1v1h-1zM298 322h1v1h-1zM299 323h1v1h-1zM300 324h1v1h-1zM301 325h1v1h-1zM302 325h1v1h-1zM303 326h1v1h-1zM304 327h1v1h-1zM305 328h1v1h-1zM306 329h1v1h-1zM307 329h1v1h-1zM308 330h1v1h-1zM309 330h1v1h-1zM310 330h1v1h-1zM311 330h1v1h-1zM312 330h1v1h-1zM313 330h1v1h-1zM314 330h1v1h-1zM315 331h1v1h-1zM316 331h1v1h-1zM317 331h1v1h-1zM318 331h1v1h-1zM319 331h1v1h-1zM320 332h1v1h-1zM321 333h1v1h-1zM322 333h1v1h-1zM323 334h1v1h-1zM324 335h1v1h-1zM325 336h1v1h-1zM326 337h1v1h-1zM327 337h1v1h-1zM328 338h1v1h-1zM329 339h1v1h-1zM330 339h1v1h-1zM331 339h1v1h-1zM332 339h1v1h-1zM333 339h1v1h-1zM334 339h1v1h-1zM335 339h1v1h-1zM336 339h1v1h-1zM337 338h1v1h-1zM338 337h1v1h-1zM339 335h1v2h-1zM340 333h1v2h-1zM341 332h1v1h-1zM342 330h1v2h-1zM343 328h1v2h-1zM344 326h1v2h-1zM345 325h1v1h-1zM346 324h1v1h-1zM347 324h1v1h-1zM348 324h1v1h-1zM349 324h1v1h-1zM350 323h1v1h-1zM351 323h1v1h-1zM352 323h1v1h-1zM353 323h1v1h-1zM354 323h1v1h-1zM355 324h1v1h-1zM356 324h1v1h-1zM357 325h1v1h-1zM358 326h1v1h-1zM359 326h1v1h-1zM360 327h1v1h-1zM361 328h1v1h-1zM362 328h1v1h-1zM363 329h1v1h-1zM364 330h1v1h-1zM365 330h1v1h-1zM366 331h1v1h-1zM367 332h1v1h-1zM368 332h1v1h-1zM369 333h1v1h-1zM370 334h1v1h-1zM371 335h1v2h-1zM372 337h1v1h-1zM373 338h1v1h-1zM374 339h1v2h-1zM375 341h1v1h-1zM376 342h1v1h-1zM377 343h1v2h-1zM378 345h1v1h-1zM379 346h1v2h-1zM380 348h1v1h-1zM381 349h1v1h-1zM382 350h1v2h-1zM383 352h1v1h-1zM384 353h1v1h-1zM385 354h1v2h-1zM386 356h1v1h-1zM387 357h1v1h-1zM388 358h1v2h-1zM389 360h1v2h-1zM390 362h1v1h-1zM391 363h1v2h-1zM392 365h1v1h-1zM393 366h1v2h-1zM394 368h1v1h-1zM395 368h1v1h-1zM396 368h1v1h-1zM397 368h1v1h-1zM398 368h1v1h-1zM399 368h1v1h-1zM400 367h1v1h-1zM401 367h1v1h-1zM402 367h1v1h-1zM403 367h1v1h-1zM404 367h1v1h-1zM405 367h1v1h-1zM406 367h1v1h-1zM407 367h1v1h-1zM408 367h1v1h-1zM409 367h1v1h-1zM410 366h1v1h-1zM411 366h1v1h-1zM412 365h1v1h-1zM413 365h1v1h-1zM414 364h1v1h-1zM415 363h1v1h-1zM416 363h1v1h-1zM417 362h1v1h-1zM418 362h1v1h-1zM419 361h1v1h-1zM420 360h1v1h-1zM421 358h1v2h-1zM422 357h1v1h-1zM423 356h1v1h-1zM424 354h1v2h-1zM425 353h1v1h-1zM426 352h1v1h-1zM427 351h1v1h-1zM428 349h1v2h-1zM429 348h1v1h-1zM430 347h1v1h-1zM431 345h1v2h-1zM432 344h1v1h-1zM433 343h1v1h-1zM434 343h1v1h-1zM435 343h1v1h-1zM436 343h1v1h-1zM437 344h1v1h-1zM438 344h1v1h-1zM439 344h1v1h-1zM440 344h1v1h-1zM441 344h1v1h-1zM442 345h1v1h-1zM443 345h1v1h-1zM444 345h1v1h-1zM445 345h1v1h-1zM446 345h1v1h-1zM447 346h1v1h-1zM448 346h1v1h-1zM449 347h1v1h-1zM450 347h1v1h-1zM451 348h1v1h-1zM452 349h1v1h-1zM453 350h1v1h-1zM454 350h1v1h-1zM455 351h1v1h-1zM456 352h1v1h-1zM457 353h1v1h-1zM458 353h1v1h-1zM459 354h1v1h-1zM460 355h1v1h-1zM461 356h1v1h-1zM462 357h1v1h-1zM463 358h1v1h-1zM464 359h1v1h-1zM465 360h1v1h-1zM466 361h1v2h-1zM467 363h1v1h-1zM468 364h1v1h-1zM469 365h1v1h-1zM470 366h1v2h-1zM471 368h1v1h-1zM472 369h1v1h-1zM473 370h1v1h-1zM474 371h1v2h-1zM475 373h1v1h-1zM476 374h1v1h-1zM477 375h1v1h-1zM478 376h1v2h-1zM479 378h1v1h-1zM480 379h1v1h-1zM481 380h1v1h-1zM482 380h1v1h-1zM483 381h1v1h-1zM484 382h1v1h-1zM485 383h1v1h-1zM486 383h1v1h-1zM487 384h1v1h-1zM488 385h1v1h-1zM489 385h1v1h-1zM490 384h1v1h-1zM491 384h1v1h-1zM492 383h1v1h-1zM493 383h1v1h-1zM494 382h1v1h-1zM495 381h1v1h-1zM496 381h1v1h-1zM497 380h1v1h-1zM498 380h1v1h-1zM499 379h1v1h-1zM500 378h1v1h-1zM501 377h1v1h-1zM502 375h1v2h-1zM503 374h1v1h-1zM504 372h1v2h-1zM505 371h1v1h-1zM506 369h1v2h-1zM507 368h1v1h-1zM508 366h1v2h-1zM509 365h1v1h-1zM510 363h1v2h-1zM511 361h1v2h-1zM512 359h1v2h-1zM513 357h1v2h-1zM514 355h1v2h-1zM515 353h1v2h-1zM516 351h1v2h-1zM517 349h1v2h-1zM518 347h1v2h-1zM519 345h1v2h-1zM520 343h1v2h-1zM521 341h1v2h-1zM522 340h1v1h-1zM523 339h1v1h-1zM524 338h1v1h-1zM525 337h1v1h-1zM526 336h1v1h-1zM527 334h1v2h-1zM528 333h1v1h-1zM529 332h1v1h-1zM530 331h1v1h-1zM531 330h1v1h-1zM532 329h1v1h-1zM533 327h1v2h-1zM534 326h1v1h-1zM535 326h1v1h-1zM536 325h1v1h-1zM537 324h1v1h-1zM538 324h1v1h-1zM539 323h1v1h-1zM540 322h1v1h-1zM541 321h1v1h-1zM542 321h1v1h-1zM543 320h1v1h-1zM544 319h1v1h-1zM545 319h1v1h-1zM546 320h1v1h-1zM547 321h1v1h-1zM548 322h1v2h-1zM549 324h1v1h-1zM550 325h1v2h-1zM551 327h1v1h-1zM552 327h1v1h-1zM553 328h1v1h-1zM554 328h1v1h-1zM555 329h1v1h-1zM556 330h1v1h-1zM557 330h1v1h-1zM558 331h1v1h-1zM559 332h1v1h-1zM560 333h1v1h-1zM561 334h1v1h-1zM562 335h1v1h-1zM563 336h1v1h-1zM564 337h1v1h-1zM565 338h1v2h-1zM566 340h1v1h-1zM567 341h1v1h-1zM568 342h1v1h-1zM569 343h1v1h-1zM570 344h1v1h-1zM571 345h1v2h-1zM572 347h1v1h-1zM573 348h1v1h-1zM574 349h1v1h-1zM575 350h1v1h-1zM576 351h1v1h-1zM577 352h1v1h-1zM578 353h1v1h-1zM579 354h1v2h-1zM580 356h1v1h-1zM581 357h1v1h-1zM582 358h1v1h-1zM583 359h1v1h-1zM584 360h1v1h-1zM585 360h1v1h-1zM586 360h1v1h-1zM587 360h1v1h-1zM588 360h1v1h-1zM589 360h1v1h-1zM590 360h1v1h-1zM591 361h1v1h-1zM592 361h1v1h-1zM593 361h1v1h-1zM594 361h1v1h-1zM595 361h1v1h-1zM596 361h1v1h-1zM597 361h1v1h-1zM598 361h1v1h-1zM599 361h1v1h-1zM600 361h1v1h-1zM601 361h1v1h-1zM602 360h1v1h-1zM603 360h1v1h-1zM604 360h1v1h-1zM605 360h1v1h-1zM606 360h1v1h-1zM607 360h1v1h-1zM608 360h1v1h-1zM609 360h1v1h-1zM610 359h1v1h-1zM611 359h1v1h-1zM612 359h1v1h-1zM613 358h1v1h-1zM614 358h1v1h-1zM615 358h1v1h-1zM616 357h1v1h-1zM617 357h1v1h-1zM618 356h1v1h-1zM619 355h1v1h-1zM620 353h1v2h-1zM621 352h1v1h-1zM622 350h1v2h-1zM623 349h1v1h-1zM624 347h1v2h-1zM625 346h1v1h-1zM626 344h1v2h-1zM627 343h1v1h-1zM628 340h1v3h-1zM629 338h1v2h-1zM630 336h1v2h-1zM631 333h1v3h-1zM632 331h1v2h-1zM633 329h1v2h-1zM634 326h1v3h-1zM635 324h1v2h-1zM636 322h1v2h-1zM637 319h1v3h-1zM638 317h1v2h-1zM639 315h1v2h-1zM640 312h1v3h-1zM641 310h1v2h-1zM642 307h1v3h-1zM643 304h1v3h-1zM644 301h1v3h-1zM645 298h1v3h-1zM646 295h1v3h-1zM647 292h1v3h-1zM648 289h1v3h-1zM649 286h1v3h-1zM650 283h1v3h-1zM651 279h1v4h-1zM652 276h1v3h-1zM653 273h1v3h-1zM654 270h1v3h-1zM655 266h1v4h-1zM656 263h1v3h-1zM657 260h1v3h-1zM658 256h1v4h-1zM659 254h1v2h-1zM660 253h1v1h-1zM661 251h1v2h-1zM662 250h1v1h-1zM663 248h1v2h-1zM664 247h1v1h-1zM665 245h1v2h-1zM666 244h1v1h-1zM667 242h1v2h-1zM668 241h1v1h-1zM669 240h1v1h-1zM670 240h1v1h-1zM671 239h1v1h-1zM672 239h1v1h-1zM673 238h1v1h-1zM674 238h1v1h-1zM675 238h1v1h-1zM676 239h1v1h-1zM677 239h1v1h-1zM678 240h1v1h-1zM679 240h1v1h-1zM680 241h1v1h-1zM681 241h1v1h-1zM682 242h1v1h-1zM683 242h1v1h-1zM684 243h1v1h-1zM685 244h1v2h-1zM686 246h1v1h-1zM687 247h1v2h-1zM688 249h1v1h-1zM689 250h1v2h-1zM690 252h1v1h-1zM691 253h1v2h-1zM692 255h1v1h-1zM693 256h1v2h-1zM694 258h1v1h-1zM695 259h1v2h-1zM696 261h1v1h-1zM697 262h1v2h-1zM698 264h1v2h-1zM699 266h1v1h-1zM700 267h1v2h-1zM701 269h1v1h-1zM702 270h1v2h-1zM703 272h1v2h-1zM704 274h1v1h-1zM705 275h1v2h-1zM706 277h1v1h-1zM707 278h1v1h-1zM708 279h1v1h-1zM709 280h1v1h-1zM710 281h1v1h-1zM711 282h1v1h-1zM712 283h1v1h-1zM713 284h1v1h-1zM714 285h1v1h-1zM715 285h1v1h-1zM716 286h1v1h-1zM717 287h1v1h-1zM718 288h1v1h-1zM719 289h1v1h-1zM720 290h1v1h-1zM721 290h1v1h-1zM722 291h1v1h-1zM723 292h1v1h-1zM724 292h1v1h-1zM725 293h1v1h-1zM726 293h1v1h-1zM727 294h1v1h-1zM728 295h1v1h-1zM729 295h1v1h-1zM730 295h1v1h-1zM731 296h1v1h-1zM732 296h1v1h-1zM733 296h1v1h-1zM734 297h1v1h-1zM735 297h1v1h-1zM736 297h1v1h-1zM737 298h1v1h-1zM738 298h1v1h-1zM739 298h1v1h-1zM740 299h1v1h-1zM741 299h1v1h-1zM742 299h1v1h-1zM743 300h1v1h-1zM744 301h1v1h-1zM745 302h1v1h-1zM746 303h1v1h-1zM747 304h1v1h-1zM748 305h1v1h-1zM749 306h1v1h-1zM750 307h1v1h-1zM751 308h1v1h-1zM752 309h1v1h-1zM753 310h1v1h-1zM754 311h1v2h-1zM755 313h1v1h-1zM756 314h1v2h-1zM757 316h1v1h-1zM758 317h1v2h-1zM759 319h1v1h-1zM760 320h1v1h-1zM761 321h1v2h-1zM762 323h1v1h-1zM763 324h1v2h-1zM764 326h1v1h-1zM765 327h1v2h-1zM766 328h1v1h-1zM767 329h1v1h-1zM768 329h1v1h-1zM769 329h1v1h-1zM770 330h1v1h-1zM771 330h1v1h-1zM772 331h1v1h-1zM773 331h1v1h-1zM774 331h1v1h-1zM775 332h1v1h-1zM776 332h1v1h-1zM777 333h1v1h-1zM778 334h1v1h-1zM779 334h1v1h-1zM780 335h1v1h-1zM781 336h1v1h-1zM782 337h1v1h-1zM783 338h1v1h-1zM784 338h1v1h-1zM785 339h1v1h-1zM786 339h1v1h-1zM787 339h1v1h-1zM788 338h1v1h-1zM789 337h1v1h-1zM790 336h1v1h-1zM791 336h1v1h-1zM792 335h1v1h-1zM793 334h1v1h-1zM794 333h1v1h-1zM795 333h1v1h-1zM796 332h1v1h-1zM797 331h1v1h-1zM798 330h1v1h-1zM799 329h1v1h-1zM800 329h1v1h-1zM801 328h1v1h-1zM802 327h1v1h-1zM803 326h1v1h-1zM804 325h1v1h-1zM805 324h1v1h-1zM806 323h1v1h-1zM807 323h1v1h-1zM808 322h1v1h-1zM809 321h1v1h-1zM810 321h1v1h-1zM811 322h1v1h-1zM812 323h1v1h-1zM813 323h1v1h-1zM814 324h1v1h-1zM815 325h1v1h-1zM816 325h1v1h-1zM817 326h1v1h-1zM818 327h1v1h-1zM819 327h1v1h-1zM820 328h1v2h-1zM821 330h1v1h-1zM822 331h1v1h-1zM823 332h1v2h-1zM824 334h1v1h-1zM825 335h1v2h-1zM826 337h1v1h-1zM827 338h1v1h-1zM828 339h1v2h-1zM829 341h1v1h-1zM830 342h1v2h-1zM831 344h1v1h-1zM832 345h1v2h-1zM833 347h1v1h-1zM834 348h1v2h-1zM835 350h1v1h-1zM836 351h1v2h-1zM837 353h1v2h-1zM838 355h1v1h-1zM839 356h1v2h-1zM840 358h1v1h-1zM841 359h1v2h-1zM842 361h1v2h-1zM843 363h1v1h-1zM844 364h1v1h-1zM845 365h1v2h-1zM846 367h1v1h-1zM847 368h1v1h-1zM848 369h1v1h-1zM849 370h1v2h-1zM850 372h1v1h-1zM851 373h1v1h-1zM852 374h1v2h-1zM853 376h1v1h-1zM854 377h1v1h-1zM855 377h1v1h-1zM856 378h1v1h-1zM857 378h1v1h-1zM858 378h1v1h-1zM859 379h1v1h-1zM860 379h1v1h-1zM861 379h1v1h-1zM862 379h1v1h-1zM863 379h1v1h-1zM864 379h1v1h-1zM865 379h1v1h-1zM866 379h1v1h-1zM867 378h1v1h-1zM868 378h1v1h-1zM869 378h1v1h-1zM870 378h1v1h-1zM871 377h1v1h-1zM872 377h1v1h-1zM873 376h1v1h-1zM874 375h1v1h-1zM875 375h1v1h-1zM876 374h1v1h-1zM877 374h1v1h-1zM878 373h1v1h-1zM879 373h1v1h-1zM880 372h1v1h-1zM881 371h1v1h-1zM882 370h1v1h-1zM883 368h1v2h-1zM884 366h1v2h-1zM885 365h1v1h-1zM886 363h1v2h-1zM887 361h1v2h-1zM888 360h1v1h-1zM889 358h1v2h-1zM890 355h1v3h-1zM891 353h1v2h-1zM892 351h1v2h-1zM893 349h1v2h-1zM894 347h1v2h-1zM895 346h1v1h-1zM896 344h1v2h-1zM897 342h1v2h-1zM898 340h1v2h-1zM899 338h1v2h-1zM900 336h1v2h-1zM901 334h1v2h-1zM902 331h1v3h-1zM903 329h1v2h-1zM904 327h1v2h-1zM905 325h1v2h-1zM906 323h1v2h-1zM907 321h1v2h-1zM908 318h1v3h-1zM909 316h1v2h-1zM910 314h1v2h-1zM911 313h1v1h-1zM912 312h1v1h-1zM913 311h1v1h-1zM914 311h1v1h-1zM915 310h1v1h-1zM916 309h1v1h-1zM917 309h1v1h-1zM918 308h1v1h-1zM919 307h1v1h-1zM920 307h1v1h-1zM921 307h1v1h-1zM922 307h1v1h-1zM923 308h1v1h-1zM924 309h1v1h-1zM925 310h1v1h-1zM926 310h1v1h-1zM927 311h1v1h-1zM928 312h1v1h-1zM929 313h1v1h-1zM930 314h1v2h-1zM931 316h1v2h-1zM932 318h1v1h-1zM933 319h1v2h-1zM934 321h1v2h-1zM935 323h1v1h-1zM936 324h1v2h-1zM937 326h1v2h-1zM938 328h1v2h-1zM939 330h1v3h-1zM940 333h1v3h-1zM941 336h1v3h-1zM942 339h1v3h-1zM943 342h1v3h-1zM944 345h1v2h-1zM945 347h1v3h-1zM946 350h1v4h-1zM947 354h1v3h-1zM948 357h1v4h-1zM949 361h1v3h-1zM950 364h1v4h-1zM951 368h1v3h-1zM952 371h1v2h-1zM953 373h1v2h-1zM954 375h1v2h-1zM955 377h1v2h-1zM956 379h1v1h-1zM957 379h1v1h-1zM958 380h1v1h-1zM959 380h1v1h-1zM960 381h1v1h-1zM961 381h1v1h-1zM962 381h1v1h-1zM963 380h1v1h-1zM964 380h1v1h-1zM965 380h1v1h-1zM966 380h1v1h-1zM967 379h1v1h-1zM968 379h1v1h-1zM969 379h1v1h-1zM970 377h1v2h-1zM971 375h1v2h-1zM972 373h1v2h-1zM973 372h1v1h-1zM974 370h1v2h-1zM975 368h1v2h-1zM976 366h1v2h-1zM977 364h1v2h-1zM978 362h1v2h-1zM979 359h1v3h-1zM980 356h1v3h-1zM981 353h1v3h-1zM982 351h1v2h-1zM983 348h1v3h-1zM984 345h1v3h-1zM985 342h1v3h-1zM986 340h1v2h-1zM987 338h1v2h-1zM988 335h1v3h-1zM989 333h1v2h-1zM990 330h1v3h-1zM991 328h1v2h-1zM992 325h1v3h-1zM993 325h1v1h-1zM994 324h1v1h-1zM995 324h1v1h-1zM996 323h1v1h-1zM997 323h1v1h-1zM998 322h1v1h-1zM999 322h1v1h-1zM1000 321h1v1h-1zM1001 321h1v1h-1zM1002 321h1v1h-1zM1003 321h1v1h-1zM1004 321h1v1h-1zM1005 321h1v1h-1zM1006 321h1v1h-1zM1007 321h1v1h-1zM1008 321h1v1h-1zM1009 321h1v1h-1zM1010 322h1v1h-1zM1011 323h1v1h-1zM1012 324h1v1h-1zM1013 325h1v1h-1zM1014 326h1v1h-1zM1015 327h1v1h-1zM1016 328h1v1h-1zM1017 329h1v1h-1zM1018 330h1v1h-1zM1019 331h1v1h-1zM1020 332h1v1h-1zM1021 333h1v1h-1zM1022 334h1v1h-1zM1023 335h1v1h-1zM1024 335h1v1h-1zM1025 336h1v1h-1zM1026 337h1v1h-1zM1027 337h1v1h-1zM1028 338h1v1h-1zM1029 338h1v1h-1zM1030 338h1v1h-1zM1031 339h1v1h-1zM1032 339h1v1h-1zM1033 340h1v1h-1zM1034 340h1v1h-1zM1035 340h1v1h-1zM1036 341h1v1h-1zM1037 341h1v1h-1zM1038 341h1v1h-1zM1039 341h1v1h-1zM1040 342h1v1h-1zM1041 342h1v1h-1zM1042 342h1v1h-1zM1043 342h1v1h-1zM1044 342h1v1h-1zM1045 343h1v1h-1zM1046 343h1v1h-1zM1047 343h1v1h-1zM1048 343h1v1h-1zM1049 343h1v1h-1zM1050 342h1v1h-1zM1051 342h1v1h-1zM1052 342h1v1h-1zM1053 341h1v1h-1zM1054 341h1v1h-1zM1055 340h1v1h-1zM1056 340h1v1h-1zM1057 339h1v1h-1zM1058 339h1v1h-1zM1059 338h1v1h-1zM1060 338h1v1h-1zM1061 338h1v1h-1zM1062 337h1v1h-1zM1063 337h1v1h-1zM1064 337h1v1h-1zM1065 337h1v1h-1zM1066 337h1v1h-1zM1067 336h1v1h-1zM1068 337h1v1h-1zM1069 337h1v1h-1zM1070 338h1v1h-1zM1071 338h1v1h-1zM1072 339h1v1h-1zM1073 339h1v1h-1zM1074 340h1v1h-1zM1075 340h1v1h-1zM1076 341h1v1h-1zM1077 342h1v1h-1zM1078 343h1v1h-1zM1079 344h1v1h-1zM1080 345h1v1h-1zM1081 346h1v1h-1zM1082 347h1v1h-1zM1083 348h1v1h-1zM1084 349h1v1h-1zM1085 350h1v1h-1zM1086 351h1v1h-1zM1087 352h1v2h-1zM1088 354h1v1h-1zM1089 355h1v1h-1zM1090 356h1v2h-1zM1091 358h1v1h-1zM1092 359h1v1h-1zM1093 360h1v2h-1zM1094 362h1v1h-1zM1095 363h1v1h-1zM1096 364h1v1h-1zM1097 365h1v2h-1zM1098 367h1v1h-1zM1099 368h1v1h-1zM1100 369h1v2h-1zM1101 371h1v1h-1zM1102 372h1v1h-1zM1103 373h1v1h-1zM1104 374h1v2h-1zM1105 376h1v1h-1zM1106 377h1v1h-1zM1107 378h1v2h-1zM1108 380h1v1h-1zM1109 381h1v1h-1zM1110 382h1v2h-1zM1111 384h1v1h-1zM1112 385h1v2h-1zM1113 387h1v2h-1zM1114 389h1v1h-1zM1115 390h1v2h-1zM1116 392h1v2h-1zM1117 394h1v1h-1zM1118 395h1v2h-1zM1119 397h1v2h-1zM1120 399h1v2h-1zM1121 401h1v1h-1zM1122 402h1v2h-1zM1123 404h1v2h-1zM1124 406h1v3h-1zM1125 409h1v2h-1zM1126 411h1v3h-1zM1127 414h1v3h-1zM1128 417h1v3h-1zM1129 420h1v2h-1zM1130 422h1v3h-1zM1131 425h1v2h-1zM1132 427h1v3h-1zM1133 430h1v2h-1zM1134 432h1v2h-1zM1135 434h1v2h-1zM1136 436h1v3h-1zM1137 439h1v2h-1zM1138 441h1v2h-1zM1139 443h1v3h-1zM1140 446h1v2h-1zM1141 448h1v3h-1zM1142 451h1v2h-1zM1143 453h1v3h-1zM1144 456h1v2h-1zM1145 458h1v3h-1zM1146 461h1v2h-1zM1147 463h1v2h-1zM1148 465h1v2h-1zM1149 467h1v2h-1zM1150 469h1v2h-1zM1151 471h1v2h-1zM1152 473h1v1h-1zM1153 474h1v2h-1zM1154 476h1v2h-1zM1155 478h1v2h-1zM1156 480h1v1h-1zM1157 481h1v1h-1zM1158 482h1v1h-1zM1159 483h1v1h-1zM1160 484h1v2h-1zM1161 486h1v1h-1zM1162 487h1v1h-1zM1163 488h1v1h-1zM1164 488h1v1h-1zM1165 489h1v1h-1zM1166 489h1v1h-1zM1167 489h1v1h-1zM1168 490h1v1h-1zM1169 490h1v1h-1zM1170 491h1v1h-1zM1171 491h1v1h-1zM1172 491h1v1h-1zM1173 492h1v1h-1zM1174 492h1v1h-1zM1175 492h1v1h-1zM1176 493h1v1h-1zM1177 493h1v1h-1zM1178 493h1v1h-1zM1179 494h1v1h-1zM1180 494h1v1h-1zM1181 494h1v1h-1zM1182 494h1v1h-1zM1183 494h1v1h-1zM1184 494h1v1h-1zM1185 494h1v1h-1zM1186 494h1v1h-1zM1187 494h1v1h-1zM1188 494h1v1h-1zM1189 494h1v1h-1zM1190 494h1v1h-1zM1191 494h1v1h-1zM1192 494h1v1h-1zM1193 494h1v1h-1zM1194 494h1v1h-1zM1195 494h1v1h-1zM1196 493h1v1h-1zM1197 493h1v1h-1zM1198 493h1v1h-1zM1199 493h1v1h-1zM1200 493h1v1h-1zM1201 493h1v1h-1zM1202 494h1v1h-1zM1203 494h1v1h-1zM1204 495h1v1h-1zM1205 495h1v1h-1zM1206 496h1v1h-1zM1207 497h1v1h-1zM1208 497h1v1h-1zM1209 498h1v1h-1zM1210 498h1v1h-1zM1211 499h1v1h-1zM1212 500h1v1h-1zM1213 500h1v1h-1zM1214 501h1v1h-1zM1215 502h1v1h-1zM1216 503h1v1h-1zM1217 503h1v1h-1zM1218 504h1v1h-1zM1219 505h1v1h-1zM1220 506h1v1h-1zM1221 507h1v1h-1zM1222 508h1v1h-1zM1223 509h1v1h-1zM1224 509h1v1h-1zM1225 510h1v1h-1zM1226 511h1v1h-1zM1227 512h1v1h-1zM1228 513h1v1h-1zM1229 513h1v1h-1zM1230 514h1v1h-1zM1231 515h1v1h-1zM1232 515h1v1h-1zM1233 516h1v1h-1zM1234 517h1v1h-1zM1235 517h1v1h-1zM1236 518h1v1h-1zM1237 519h1v1h-1zM1238 519h1v1h-1zM1239 520h1v1h-1zM1240 521h1v1h-1zM1241 522h1v1h-1z" fill="#ff9000" shape-rendering="crispEdges"/>
</g>
<g shape-rendering="crispEdges">
<rect x="0" y="298" width="6" height="6" fill="#ff0000"/><rect x="2" y="300" width="2" height="2" fill="#fff"/>
<rect x="1571" y="298" width="6" height="6" fill="#ff0000"/><rect x="1573" y="300" width="2" height="2" fill="#fff"/>
<rect x="0" y="412" width="6" height="6" fill="#00ff00"/><rect x="2" y="414" width="2" height="2" fill="#fff"/>
<rect x="1571" y="412" width="6" height="6" fill="#00ff00"/><rect x="1573" y="414" width="2" height="2" fill="#fff"/>
<rect x="0" y="484" width="6" height="6" fill="#0000ff"/><rect x="2" y="486" width="2" height="2" fill="#fff"/>
<rect x="1571" y="484" width="6" height="6" fill="#0000ff"/><rect x="1573" y="486" width="2" height="2" fill="#fff"/>
<rect x="1579" y="109" width="41" height="11" fill="#ff0000"/>
<rect x="1579" y="206" width="41" height="11" fill="#ff0000"/>
<rect x="1579" y="295" width="41" height="11" fill="#ff0000"/>
<rect x="1579" y="409" width="41" height="11" fill="#00ff00"/>
<rect x="1579" y="481" width="41" height="11" fill="#0000ff"/>
<rect x="1579" y="525" width="41" height="11" fill="#000000"/>
</g>
<text class="w" transform="translate(1583 117.7) scale(1 1.09)" textLength="32.5" lengthAdjust="spacingAndGlyphs">0.94413</text>
<text class="w" transform="translate(1583 214.7) scale(1 1.09)" textLength="32.5" lengthAdjust="spacingAndGlyphs">0.93001</text>
<text class="w" transform="translate(1583 303.7) scale(1 1.09)" textLength="32.5" lengthAdjust="spacingAndGlyphs">0.91709</text>
<text class="w" transform="translate(1583 417.7) scale(1 1.09)" textLength="32.5" lengthAdjust="spacingAndGlyphs">0.90055</text>
<text class="w" transform="translate(1583 489.7) scale(1 1.09)" textLength="32.5" lengthAdjust="spacingAndGlyphs">0.89002</text>
<text class="w" transform="translate(1583 533.7) scale(1 1.09)" textLength="32.5" lengthAdjust="spacingAndGlyphs">0.88367</text>
<path d="M4.5 34.5h7l-3.5 4z" fill="#000"/>
<text class="t" transform="translate(16 38.3) scale(1 1.09)" textLength="64.5" lengthAdjust="spacingAndGlyphs">USDCHF,Daily</text>
<text class="t" transform="translate(87 38.3) scale(1 1.09)" textLength="140.5" lengthAdjust="spacingAndGlyphs">0.88538 0.88568 0.88362 0.88367</text>
<path d="M1256 28h9l-4.5 5z" fill="#c0c0c0"/>
<g shape-rendering="crispEdges">
<line x1="2" y1="586.5" x2="1577" y2="586.5" stroke="#c0c0c0" stroke-width="1" stroke-dasharray="3 3"/>
<line x1="2" y1="623.5" x2="1577" y2="623.5" stroke="#c0c0c0" stroke-width="1" stroke-dasharray="3 3"/>
</g>
<path d="M1 614h1v1h-1zM2 614h1v1h-1zM3 615h1v1h-1zM4 616h1v1h-1zM5 616h1v1h-1zM6 616h1v1h-1zM7 617h1v1h-1zM8 618h1v1h-1zM9 618h1v1h-1zM10 618h1v1h-1zM11 617h1v1h-1zM12 616h1v1h-1zM13 616h1v1h-1zM14 616h1v1h-1zM15 615h1v1h-1zM16 614h1v1h-1zM17 614h1v1h-1zM18 614h1v1h-1zM19 613h1v1h-1zM20 613h1v1h-1zM21 612h1v1h-1zM22 612h1v1h-1zM23 612h1v1h-1zM24 611h1v1h-1zM25 611h1v1h-1zM26 611h1v1h-1zM27 611h1v1h-1zM28 611h1v1h-1zM29 612h1v1h-1zM30 612h1v1h-1zM31 612h1v1h-1zM32 612h1v1h-1zM33 612h1v1h-1zM34 612h1v1h-1zM35 612h1v1h-1zM36 612h1v1h-1zM37 612h1v1h-1zM38 612h1v1h-1zM39 612h1v1h-1zM40 612h1v1h-1zM41 612h1v1h-1zM42 612h1v1h-1zM43 611h1v1h-1zM44 610h1v1h-1zM45 610h1v1h-1zM46 610h1v1h-1zM47 609h1v1h-1zM48 608h1v1h-1zM49 608h1v1h-1zM50 608h1v1h-1zM51 609h1v1h-1zM52 610h1v1h-1zM53 610h1v1h-1zM54 610h1v1h-1zM55 611h1v1h-1zM56 612h1v1h-1zM57 612h1v1h-1zM58 612h1v1h-1zM59 612h1v1h-1zM60 613h1v1h-1zM61 613h1v1h-1zM62 613h1v1h-1zM63 614h1v1h-1zM64 614h1v1h-1zM65 614h1v1h-1zM66 614h1v1h-1zM67 614h1v1h-1zM68 614h1v1h-1zM69 614h1v1h-1zM70 614h1v1h-1zM71 614h1v1h-1zM72 614h1v1h-1zM73 614h1v1h-1zM74 614h1v1h-1zM75 614h1v1h-1zM76 614h1v1h-1zM77 614h1v1h-1zM78 615h1v1h-1zM79 615h1v1h-1zM80 615h1v1h-1zM81 615h1v1h-1zM82 615h1v1h-1zM83 615h1v1h-1zM84 615h1v1h-1zM85 615h1v1h-1zM86 615h1v1h-1zM87 615h1v1h-1zM88 615h1v1h-1zM89 615h1v1h-1zM90 615h1v1h-1zM91 616h1v1h-1zM92 616h1v1h-1zM93 616h1v1h-1zM94 617h1v1h-1zM95 617h1v1h-1zM96 618h1v1h-1zM97 618h1v1h-1zM98 618h1v1h-1zM99 618h1v1h-1zM100 619h1v1h-1zM101 619h1v1h-1zM102 619h1v1h-1zM103 620h1v1h-1zM104 620h1v1h-1zM105 620h1v1h-1zM106 620h1v1h-1zM107 621h1v1h-1zM108 621h1v1h-1zM109 622h1v1h-1zM110 622h1v1h-1zM111 622h1v1h-1zM112 623h1v1h-1zM113 623h1v1h-1zM114 622h1v1h-1zM115 622h1v1h-1zM116 621h1v1h-1zM117 620h1v1h-1zM118 620h1v1h-1zM119 619h1v1h-1zM120 619h1v1h-1zM121 618h1v1h-1zM122 618h1v1h-1zM123 618h1v1h-1zM124 619h1v1h-1zM125 619h1v1h-1zM126 619h1v1h-1zM127 620h1v1h-1zM128 620h1v1h-1zM129 620h1v1h-1zM130 619h1v1h-1zM131 618h1v1h-1zM132 618h1v1h-1zM133 617h1v1h-1zM134 616h1v1h-1zM135 616h1v1h-1zM136 615h1v1h-1zM137 614h1v1h-1zM138 614h1v1h-1zM139 614h1v1h-1zM140 614h1v1h-1zM141 614h1v1h-1zM142 615h1v1h-1zM143 615h1v1h-1zM144 615h1v1h-1zM145 615h1v1h-1zM146 616h1v1h-1zM147 616h1v1h-1zM148 616h1v1h-1zM149 617h1v1h-1zM150 618h1v1h-1zM151 618h1v1h-1zM152 618h1v1h-1zM153 619h1v1h-1zM154 618h1v1h-1zM155 616h1v2h-1zM156 615h1v1h-1zM157 614h1v1h-1zM158 612h1v2h-1zM159 611h1v1h-1zM160 609h1v2h-1zM161 608h1v1h-1zM162 608h1v1h-1zM163 608h1v1h-1zM164 609h1v1h-1zM165 609h1v1h-1zM166 609h1v1h-1zM167 610h1v1h-1zM168 610h1v1h-1zM169 610h1v1h-1zM170 611h1v1h-1zM171 611h1v1h-1zM172 612h1v1h-1zM173 612h1v1h-1zM174 613h1v1h-1zM175 614h1v1h-1zM176 614h1v1h-1zM177 615h1v1h-1zM178 615h1v1h-1zM179 615h1v1h-1zM180 615h1v1h-1zM181 616h1v1h-1zM182 616h1v1h-1zM183 616h1v1h-1zM184 616h1v1h-1zM185 616h1v1h-1zM186 616h1v1h-1zM187 616h1v1h-1zM188 615h1v1h-1zM189 615h1v1h-1zM190 615h1v1h-1zM191 614h1v1h-1zM192 614h1v1h-1zM193 614h1v1h-1zM194 615h1v1h-1zM195 616h1v1h-1zM196 617h1v1h-1zM197 618h1v1h-1zM198 618h1v1h-1zM199 619h1v1h-1zM200 620h1v1h-1zM201 621h1v1h-1zM202 622h1v1h-1zM203 622h1v1h-1zM204 623h1v1h-1zM205 624h1v1h-1zM206 624h1v1h-1zM207 625h1v1h-1zM208 625h1v1h-1zM209 626h1v1h-1zM210 626h1v1h-1zM211 627h1v1h-1zM212 627h1v1h-1zM213 628h1v1h-1zM214 628h1v1h-1zM215 628h1v1h-1zM216 629h1v1h-1zM217 629h1v1h-1zM218 629h1v1h-1zM219 630h1v1h-1zM220 630h1v1h-1zM221 630h1v1h-1zM222 630h1v1h-1zM223 630h1v1h-1zM224 631h1v1h-1zM225 631h1v1h-1zM226 631h1v1h-1zM227 631h1v1h-1zM228 631h1v1h-1zM229 631h1v1h-1zM230 631h1v1h-1zM231 631h1v1h-1zM232 631h1v1h-1zM233 631h1v1h-1zM234 631h1v1h-1zM235 631h1v1h-1zM236 631h1v1h-1zM237 632h1v1h-1zM238 632h1v1h-1zM239 632h1v1h-1zM240 632h1v1h-1zM241 632h1v1h-1zM242 632h1v1h-1zM243 632h1v1h-1zM244 632h1v1h-1zM245 632h1v1h-1zM246 633h1v1h-1zM247 633h1v1h-1zM248 633h1v1h-1zM249 633h1v1h-1zM250 633h1v1h-1zM251 633h1v1h-1zM252 633h1v1h-1zM253 634h1v1h-1zM254 634h1v1h-1zM255 634h1v1h-1zM256 634h1v1h-1zM257 634h1v1h-1zM258 634h1v1h-1zM259 634h1v1h-1zM260 635h1v1h-1zM261 635h1v1h-1zM262 635h1v1h-1zM263 636h1v1h-1zM264 636h1v1h-1zM265 636h1v1h-1zM266 636h1v1h-1zM267 636h1v1h-1zM268 636h1v1h-1zM269 636h1v1h-1zM270 636h1v1h-1zM271 636h1v1h-1zM272 636h1v1h-1zM273 636h1v1h-1zM274 635h1v1h-1zM275 635h1v1h-1zM276 634h1v1h-1zM277 634h1v1h-1zM278 633h1v1h-1zM279 632h1v1h-1zM280 632h1v1h-1zM281 631h1v1h-1zM282 629h1v2h-1zM283 628h1v1h-1zM284 626h1v2h-1zM285 624h1v2h-1zM286 623h1v1h-1zM287 621h1v2h-1zM288 620h1v1h-1zM289 618h1v2h-1zM290 618h1v1h-1zM291 619h1v1h-1zM292 619h1v1h-1zM293 620h1v1h-1zM294 620h1v1h-1zM295 620h1v1h-1zM296 621h1v1h-1zM297 621h1v1h-1zM298 622h1v1h-1zM299 623h1v1h-1zM300 624h1v1h-1zM301 625h1v1h-1zM302 626h1v1h-1zM303 627h1v1h-1zM304 628h1v1h-1zM305 629h1v1h-1zM306 628h1v1h-1zM307 627h1v1h-1zM308 626h1v1h-1zM309 625h1v1h-1zM310 624h1v1h-1zM311 623h1v1h-1zM312 622h1v1h-1zM313 621h1v1h-1zM314 620h1v1h-1zM315 620h1v1h-1zM316 619h1v1h-1zM317 618h1v1h-1zM318 618h1v1h-1zM319 617h1v1h-1zM320 617h1v1h-1zM321 616h1v1h-1zM322 616h1v1h-1zM323 616h1v1h-1zM324 617h1v1h-1zM325 617h1v1h-1zM326 617h1v1h-1zM327 618h1v1h-1zM328 618h1v1h-1zM329 618h1v1h-1zM330 618h1v1h-1zM331 617h1v1h-1zM332 616h1v1h-1zM333 616h1v1h-1zM334 616h1v1h-1zM335 615h1v1h-1zM336 614h1v1h-1zM337 614h1v1h-1zM338 614h1v1h-1zM339 614h1v1h-1zM340 613h1v1h-1zM341 613h1v1h-1zM342 613h1v1h-1zM343 612h1v1h-1zM344 612h1v1h-1zM345 612h1v1h-1zM346 613h1v1h-1zM347 613h1v1h-1zM348 614h1v1h-1zM349 614h1v1h-1zM350 615h1v1h-1zM351 616h1v1h-1zM352 616h1v1h-1zM353 617h1v1h-1zM354 617h1v1h-1zM355 617h1v1h-1zM356 617h1v1h-1zM357 618h1v1h-1zM358 618h1v1h-1zM359 618h1v1h-1zM360 618h1v1h-1zM361 618h1v1h-1zM362 618h1v1h-1zM363 618h1v1h-1zM364 619h1v1h-1zM365 619h1v1h-1zM366 619h1v1h-1zM367 620h1v1h-1zM368 620h1v1h-1zM369 620h1v1h-1zM370 620h1v1h-1zM371 620h1v1h-1zM372 619h1v1h-1zM373 619h1v1h-1zM374 619h1v1h-1zM375 618h1v1h-1zM376 618h1v1h-1zM377 618h1v1h-1zM378 618h1v1h-1zM379 619h1v1h-1zM380 619h1v1h-1zM381 620h1v1h-1zM382 620h1v1h-1zM383 620h1v1h-1zM384 621h1v1h-1zM385 621h1v1h-1zM386 622h1v1h-1zM387 622h1v1h-1zM388 622h1v1h-1zM389 623h1v1h-1zM390 624h1v1h-1zM391 624h1v1h-1zM392 624h1v1h-1zM393 625h1v1h-1zM394 623h1v2h-1zM395 622h1v1h-1zM396 620h1v2h-1zM397 618h1v2h-1zM398 616h1v2h-1zM399 614h1v2h-1zM400 613h1v1h-1zM401 611h1v2h-1zM402 612h1v1h-1zM403 612h1v1h-1zM404 612h1v1h-1zM405 613h1v1h-1zM406 614h1v1h-1zM407 614h1v1h-1zM408 614h1v1h-1zM409 615h1v1h-1zM410 614h1v1h-1zM411 613h1v1h-1zM412 612h1v1h-1zM413 612h1v1h-1zM414 611h1v1h-1zM415 610h1v1h-1zM416 609h1v1h-1zM417 608h1v1h-1zM418 608h1v1h-1zM419 608h1v1h-1zM420 608h1v1h-1zM421 608h1v1h-1zM422 609h1v1h-1zM423 609h1v1h-1zM424 609h1v1h-1zM425 609h1v1h-1zM426 609h1v1h-1zM427 609h1v1h-1zM428 609h1v1h-1zM429 610h1v1h-1zM430 610h1v1h-1zM431 610h1v1h-1zM432 610h1v1h-1zM433 610h1v1h-1zM434 610h1v1h-1zM435 610h1v1h-1zM436 611h1v1h-1zM437 611h1v1h-1zM438 611h1v1h-1zM439 612h1v1h-1zM440 612h1v1h-1zM441 612h1v1h-1zM442 612h1v1h-1zM443 612h1v1h-1zM444 612h1v1h-1zM445 612h1v1h-1zM446 612h1v1h-1zM447 612h1v1h-1zM448 612h1v1h-1zM449 612h1v1h-1zM450 612h1v1h-1zM451 612h1v1h-1zM452 613h1v1h-1zM453 613h1v1h-1zM454 613h1v1h-1zM455 614h1v1h-1zM456 614h1v1h-1zM457 614h1v1h-1zM458 614h1v1h-1zM459 615h1v1h-1zM460 615h1v1h-1zM461 616h1v1h-1zM462 616h1v1h-1zM463 616h1v1h-1zM464 617h1v1h-1zM465 617h1v1h-1zM466 617h1v1h-1zM467 617h1v1h-1zM468 617h1v1h-1zM469 616h1v1h-1zM470 616h1v1h-1zM471 616h1v1h-1zM472 616h1v1h-1zM473 616h1v1h-1zM474 616h1v1h-1zM475 617h1v1h-1zM476 618h1v1h-1zM477 618h1v1h-1zM478 618h1v1h-1zM479 619h1v1h-1zM480 620h1v1h-1zM481 620h1v1h-1zM482 619h1v1h-1zM483 618h1v1h-1zM484 616h1v2h-1zM485 615h1v1h-1zM486 614h1v1h-1zM487 612h1v2h-1zM488 611h1v1h-1zM489 610h1v1h-1zM490 609h1v1h-1zM491 609h1v1h-1zM492 608h1v1h-1zM493 608h1v1h-1zM494 607h1v1h-1zM495 606h1v1h-1zM496 606h1v1h-1zM497 605h1v1h-1zM498 605h1v1h-1zM499 606h1v1h-1zM500 606h1v1h-1zM501 606h1v1h-1zM502 606h1v1h-1zM503 606h1v1h-1zM504 607h1v1h-1zM505 607h1v1h-1zM506 606h1v1h-1zM507 606h1v1h-1zM508 605h1v1h-1zM509 604h1v1h-1zM510 604h1v1h-1zM511 603h1v1h-1zM512 603h1v1h-1zM513 602h1v1h-1zM514 602h1v1h-1zM515 603h1v1h-1zM516 603h1v1h-1zM517 604h1v1h-1zM518 604h1v1h-1zM519 604h1v1h-1zM520 605h1v1h-1zM521 605h1v1h-1zM522 604h1v1h-1zM523 604h1v1h-1zM524 604h1v1h-1zM525 603h1v1h-1zM526 602h1v1h-1zM527 602h1v1h-1zM528 602h1v1h-1zM529 601h1v1h-1zM530 601h1v1h-1zM531 600h1v1h-1zM532 600h1v1h-1zM533 600h1v1h-1zM534 600h1v1h-1zM535 600h1v1h-1zM536 599h1v1h-1zM537 599h1v1h-1zM538 600h1v1h-1zM539 600h1v1h-1zM540 601h1v1h-1zM541 602h1v1h-1zM542 602h1v1h-1zM543 603h1v1h-1zM544 603h1v1h-1zM545 604h1v1h-1zM546 605h1v1h-1zM547 606h1v1h-1zM548 606h1v1h-1zM549 607h1v1h-1zM550 608h1v1h-1zM551 608h1v1h-1zM552 609h1v1h-1zM553 610h1v1h-1zM554 610h1v1h-1zM555 610h1v1h-1zM556 610h1v1h-1zM557 610h1v1h-1zM558 609h1v1h-1zM559 609h1v1h-1zM560 609h1v1h-1zM561 609h1v1h-1zM562 609h1v1h-1zM563 608h1v1h-1zM564 608h1v1h-1zM565 608h1v1h-1zM566 608h1v1h-1zM567 608h1v1h-1zM568 607h1v1h-1zM569 607h1v1h-1zM570 607h1v1h-1zM571 608h1v1h-1zM572 608h1v1h-1zM573 608h1v1h-1zM574 609h1v1h-1zM575 609h1v1h-1zM576 610h1v1h-1zM577 610h1v1h-1zM578 610h1v1h-1zM579 610h1v1h-1zM580 609h1v1h-1zM581 609h1v1h-1zM582 609h1v1h-1zM583 608h1v1h-1zM584 608h1v1h-1zM585 608h1v1h-1zM586 608h1v1h-1zM587 608h1v1h-1zM588 608h1v1h-1zM589 608h1v1h-1zM590 609h1v1h-1zM591 609h1v1h-1zM592 609h1v1h-1zM593 609h1v1h-1zM594 609h1v1h-1zM595 608h1v1h-1zM596 608h1v1h-1zM597 608h1v1h-1zM598 607h1v1h-1zM599 607h1v1h-1zM600 606h1v1h-1zM601 606h1v1h-1zM602 606h1v1h-1zM603 606h1v1h-1zM604 606h1v1h-1zM605 606h1v1h-1zM606 606h1v1h-1zM607 606h1v1h-1zM608 606h1v1h-1zM609 606h1v1h-1zM610 606h1v1h-1zM611 606h1v1h-1zM612 606h1v1h-1zM613 606h1v1h-1zM614 606h1v1h-1zM615 606h1v1h-1zM616 606h1v1h-1zM617 606h1v1h-1zM618 605h1v1h-1zM619 604h1v1h-1zM620 603h1v1h-1zM621 602h1v1h-1zM622 600h1v2h-1zM623 599h1v1h-1zM624 598h1v1h-1zM625 597h1v1h-1zM626 596h1v1h-1zM627 596h1v1h-1zM628 596h1v1h-1zM629 595h1v1h-1zM630 594h1v1h-1zM631 594h1v1h-1zM632 594h1v1h-1zM633 593h1v1h-1zM634 592h1v1h-1zM635 592h1v1h-1zM636 592h1v1h-1zM637 591h1v1h-1zM638 590h1v1h-1zM639 590h1v1h-1zM640 590h1v1h-1zM641 589h1v1h-1zM642 589h1v1h-1zM643 588h1v1h-1zM644 588h1v1h-1zM645 588h1v1h-1zM646 588h1v1h-1zM647 588h1v1h-1zM648 587h1v1h-1zM649 587h1v1h-1zM650 587h1v1h-1zM651 586h1v1h-1zM652 586h1v1h-1zM653 586h1v1h-1zM654 585h1v1h-1zM655 585h1v1h-1zM656 584h1v1h-1zM657 584h1v1h-1zM658 584h1v1h-1zM659 584h1v1h-1zM660 584h1v1h-1zM661 584h1v1h-1zM662 585h1v1h-1zM663 585h1v1h-1zM664 585h1v1h-1zM665 585h1v1h-1zM666 586h1v1h-1zM667 587h1v1h-1zM668 588h1v1h-1zM669 589h1v2h-1zM670 591h1v1h-1zM671 592h1v1h-1zM672 593h1v1h-1zM673 594h1v1h-1zM674 594h1v1h-1zM675 595h1v1h-1zM676 596h1v1h-1zM677 596h1v1h-1zM678 596h1v1h-1zM679 597h1v1h-1zM680 598h1v1h-1zM681 598h1v1h-1zM682 598h1v1h-1zM683 599h1v1h-1zM684 600h1v1h-1zM685 600h1v1h-1zM686 600h1v1h-1zM687 601h1v1h-1zM688 602h1v1h-1zM689 602h1v1h-1zM690 602h1v1h-1zM691 602h1v1h-1zM692 602h1v1h-1zM693 602h1v1h-1zM694 603h1v1h-1zM695 603h1v1h-1zM696 603h1v1h-1zM697 603h1v1h-1zM698 603h1v1h-1zM699 602h1v1h-1zM700 602h1v1h-1zM701 602h1v1h-1zM702 602h1v1h-1zM703 602h1v1h-1zM704 601h1v1h-1zM705 601h1v1h-1zM706 601h1v1h-1zM707 601h1v1h-1zM708 601h1v1h-1zM709 601h1v1h-1zM710 601h1v1h-1zM711 601h1v1h-1zM712 601h1v1h-1zM713 601h1v1h-1zM714 602h1v1h-1zM715 602h1v1h-1zM716 603h1v1h-1zM717 604h1v1h-1zM718 605h1v1h-1zM719 606h1v1h-1zM720 606h1v1h-1zM721 607h1v1h-1zM722 607h1v1h-1zM723 607h1v1h-1zM724 607h1v1h-1zM725 607h1v1h-1zM726 607h1v1h-1zM727 607h1v1h-1zM728 607h1v1h-1zM729 607h1v1h-1zM730 607h1v1h-1zM731 606h1v1h-1zM732 606h1v1h-1zM733 606h1v1h-1zM734 606h1v1h-1zM735 606h1v1h-1zM736 605h1v1h-1zM737 605h1v1h-1zM738 605h1v1h-1zM739 605h1v1h-1zM740 605h1v1h-1zM741 604h1v1h-1zM742 604h1v1h-1zM743 604h1v1h-1zM744 604h1v1h-1zM745 604h1v1h-1zM746 605h1v1h-1zM747 606h1v1h-1zM748 607h1v2h-1zM749 609h1v1h-1zM750 610h1v1h-1zM751 611h1v2h-1zM752 613h1v1h-1zM753 614h1v1h-1zM754 614h1v1h-1zM755 614h1v1h-1zM756 614h1v1h-1zM757 614h1v1h-1zM758 614h1v1h-1zM759 614h1v1h-1zM760 614h1v1h-1zM761 614h1v1h-1zM762 614h1v1h-1zM763 614h1v1h-1zM764 614h1v1h-1zM765 614h1v1h-1zM766 614h1v1h-1zM767 614h1v1h-1zM768 614h1v1h-1zM769 614h1v1h-1zM770 613h1v1h-1zM771 612h1v1h-1zM772 611h1v1h-1zM773 610h1v1h-1zM774 609h1v1h-1zM775 608h1v1h-1zM776 607h1v1h-1zM777 606h1v1h-1zM778 606h1v1h-1zM779 607h1v1h-1zM780 607h1v1h-1zM781 608h1v1h-1zM782 608h1v1h-1zM783 608h1v1h-1zM784 609h1v1h-1zM785 609h1v1h-1zM786 609h1v1h-1zM787 608h1v1h-1zM788 608h1v1h-1zM789 608h1v1h-1zM790 608h1v1h-1zM791 608h1v1h-1zM792 607h1v1h-1zM793 607h1v1h-1zM794 607h1v1h-1zM795 606h1v1h-1zM796 606h1v1h-1zM797 606h1v1h-1zM798 606h1v1h-1zM799 606h1v1h-1zM800 605h1v1h-1zM801 605h1v1h-1zM802 605h1v1h-1zM803 605h1v1h-1zM804 605h1v1h-1zM805 605h1v1h-1zM806 605h1v1h-1zM807 605h1v1h-1zM808 605h1v1h-1zM809 605h1v1h-1zM810 606h1v1h-1zM811 607h1v1h-1zM812 608h1v1h-1zM813 609h1v1h-1zM814 610h1v1h-1zM815 611h1v1h-1zM816 612h1v1h-1zM817 613h1v1h-1zM818 614h1v1h-1zM819 614h1v1h-1zM820 614h1v1h-1zM821 615h1v1h-1zM822 616h1v1h-1zM823 616h1v1h-1zM824 616h1v1h-1zM825 617h1v1h-1zM826 617h1v1h-1zM827 618h1v1h-1zM828 618h1v1h-1zM829 618h1v1h-1zM830 619h1v1h-1zM831 619h1v1h-1zM832 620h1v1h-1zM833 620h1v1h-1zM834 619h1v1h-1zM835 618h1v1h-1zM836 618h1v1h-1zM837 617h1v1h-1zM838 616h1v1h-1zM839 616h1v1h-1zM840 615h1v1h-1zM841 614h1v1h-1zM842 614h1v1h-1zM843 614h1v1h-1zM844 614h1v1h-1zM845 614h1v1h-1zM846 615h1v1h-1zM847 615h1v1h-1zM848 615h1v1h-1zM849 615h1v1h-1zM850 615h1v1h-1zM851 615h1v1h-1zM852 615h1v1h-1zM853 616h1v1h-1zM854 616h1v1h-1zM855 616h1v1h-1zM856 616h1v1h-1zM857 616h1v1h-1zM858 615h1v1h-1zM859 615h1v1h-1zM860 614h1v1h-1zM861 614h1v1h-1zM862 613h1v1h-1zM863 612h1v1h-1zM864 612h1v1h-1zM865 611h1v1h-1zM866 611h1v1h-1zM867 611h1v1h-1zM868 611h1v1h-1zM869 612h1v1h-1zM870 612h1v1h-1zM871 612h1v1h-1zM872 612h1v1h-1zM873 612h1v1h-1zM874 611h1v1h-1zM875 611h1v1h-1zM876 610h1v1h-1zM877 610h1v1h-1zM878 609h1v1h-1zM879 608h1v1h-1zM880 608h1v1h-1zM881 607h1v1h-1zM882 606h1v1h-1zM883 604h1v2h-1zM884 603h1v1h-1zM885 602h1v1h-1zM886 601h1v1h-1zM887 600h1v1h-1zM888 598h1v2h-1zM889 597h1v1h-1zM890 597h1v1h-1zM891 597h1v1h-1zM892 597h1v1h-1zM893 598h1v1h-1zM894 598h1v1h-1zM895 598h1v1h-1zM896 598h1v1h-1zM897 598h1v1h-1zM898 598h1v1h-1zM899 598h1v1h-1zM900 598h1v1h-1zM901 598h1v1h-1zM902 597h1v1h-1zM903 597h1v1h-1zM904 597h1v1h-1zM905 597h1v1h-1zM906 597h1v1h-1zM907 596h1v1h-1zM908 596h1v1h-1zM909 596h1v1h-1zM910 595h1v1h-1zM911 595h1v1h-1zM912 594h1v1h-1zM913 594h1v1h-1zM914 595h1v1h-1zM915 596h1v2h-1zM916 598h1v1h-1zM917 599h1v2h-1zM918 601h1v1h-1zM919 602h1v1h-1zM920 603h1v2h-1zM921 605h1v1h-1zM922 605h1v1h-1zM923 606h1v1h-1zM924 606h1v1h-1zM925 606h1v1h-1zM926 606h1v1h-1zM927 606h1v1h-1zM928 607h1v1h-1zM929 607h1v1h-1zM930 608h1v1h-1zM931 608h1v1h-1zM932 609h1v1h-1zM933 610h1v1h-1zM934 611h1v1h-1zM935 612h1v1h-1zM936 612h1v1h-1zM937 613h1v1h-1zM938 614h1v1h-1zM939 614h1v1h-1zM940 615h1v1h-1zM941 616h1v1h-1zM942 617h1v1h-1zM943 618h1v1h-1zM944 618h1v1h-1zM945 619h1v1h-1zM946 619h1v1h-1zM947 619h1v1h-1zM948 619h1v1h-1zM949 619h1v1h-1zM950 619h1v1h-1zM951 619h1v1h-1zM952 619h1v1h-1zM953 619h1v1h-1zM954 617h1v2h-1zM955 615h1v2h-1zM956 613h1v2h-1zM957 612h1v1h-1zM958 610h1v2h-1zM959 608h1v2h-1zM960 606h1v2h-1zM961 604h1v2h-1zM962 604h1v1h-1zM963 604h1v1h-1zM964 603h1v1h-1zM965 603h1v1h-1zM966 603h1v1h-1zM967 602h1v1h-1zM968 602h1v1h-1zM969 602h1v1h-1zM970 602h1v1h-1zM971 601h1v1h-1zM972 600h1v1h-1zM973 600h1v1h-1zM974 600h1v1h-1zM975 599h1v1h-1zM976 598h1v1h-1zM977 598h1v1h-1zM978 598h1v1h-1zM979 599h1v1h-1zM980 600h1v1h-1zM981 600h1v1h-1zM982 600h1v1h-1zM983 601h1v1h-1zM984 602h1v1h-1zM985 602h1v1h-1zM986 602h1v1h-1zM987 602h1v1h-1zM988 602h1v1h-1zM989 602h1v1h-1zM990 602h1v1h-1zM991 602h1v1h-1zM992 602h1v1h-1zM993 602h1v1h-1zM994 602h1v1h-1zM995 602h1v1h-1zM996 602h1v1h-1zM997 602h1v1h-1zM998 603h1v1h-1zM999 603h1v1h-1zM1000 603h1v1h-1zM1001 603h1v1h-1zM1002 603h1v1h-1zM1003 603h1v1h-1zM1004 603h1v1h-1zM1005 603h1v1h-1zM1006 603h1v1h-1zM1007 603h1v1h-1zM1008 603h1v1h-1zM1009 603h1v1h-1zM1010 603h1v1h-1zM1011 604h1v1h-1zM1012 604h1v1h-1zM1013 604h1v1h-1zM1014 605h1v1h-1zM1015 605h1v1h-1zM1016 606h1v1h-1zM1017 606h1v1h-1zM1018 606h1v1h-1zM1019 606h1v1h-1zM1020 606h1v1h-1zM1021 606h1v1h-1zM1022 607h1v1h-1zM1023 607h1v1h-1zM1024 607h1v1h-1zM1025 607h1v1h-1zM1026 607h1v1h-1zM1027 606h1v1h-1zM1028 606h1v1h-1zM1029 606h1v1h-1zM1030 605h1v1h-1zM1031 605h1v1h-1zM1032 604h1v1h-1zM1033 604h1v1h-1zM1034 604h1v1h-1zM1035 604h1v1h-1zM1036 604h1v1h-1zM1037 604h1v1h-1zM1038 605h1v1h-1zM1039 605h1v1h-1zM1040 605h1v1h-1zM1041 605h1v1h-1zM1042 605h1v1h-1zM1043 605h1v1h-1zM1044 605h1v1h-1zM1045 605h1v1h-1zM1046 605h1v1h-1zM1047 605h1v1h-1zM1048 605h1v1h-1zM1049 605h1v1h-1zM1050 604h1v1h-1zM1051 604h1v1h-1zM1052 604h1v1h-1zM1053 603h1v1h-1zM1054 602h1v1h-1zM1055 602h1v1h-1zM1056 602h1v1h-1zM1057 601h1v1h-1zM1058 601h1v1h-1zM1059 602h1v1h-1zM1060 602h1v1h-1zM1061 602h1v1h-1zM1062 603h1v1h-1zM1063 603h1v1h-1zM1064 604h1v1h-1zM1065 604h1v1h-1zM1066 604h1v1h-1zM1067 605h1v1h-1zM1068 605h1v1h-1zM1069 606h1v1h-1zM1070 606h1v1h-1zM1071 606h1v1h-1zM1072 607h1v1h-1zM1073 607h1v1h-1zM1074 608h1v1h-1zM1075 608h1v1h-1zM1076 608h1v1h-1zM1077 609h1v1h-1zM1078 610h1v1h-1zM1079 610h1v1h-1zM1080 610h1v1h-1zM1081 611h1v1h-1zM1082 611h1v1h-1zM1083 612h1v1h-1zM1084 612h1v1h-1zM1085 612h1v1h-1zM1086 612h1v1h-1zM1087 612h1v1h-1zM1088 613h1v1h-1zM1089 613h1v1h-1zM1090 613h1v1h-1zM1091 613h1v1h-1zM1092 613h1v1h-1zM1093 614h1v1h-1zM1094 614h1v1h-1zM1095 614h1v1h-1zM1096 614h1v1h-1zM1097 614h1v1h-1zM1098 614h1v1h-1zM1099 614h1v1h-1zM1100 614h1v1h-1zM1101 614h1v1h-1zM1102 613h1v1h-1zM1103 613h1v1h-1zM1104 613h1v1h-1zM1105 613h1v1h-1zM1106 614h1v1h-1zM1107 614h1v1h-1zM1108 615h1v1h-1zM1109 616h1v1h-1zM1110 616h1v1h-1zM1111 617h1v1h-1zM1112 617h1v1h-1zM1113 618h1v1h-1zM1114 619h1v1h-1zM1115 619h1v1h-1zM1116 620h1v1h-1zM1117 620h1v1h-1zM1118 621h1v1h-1zM1119 622h1v1h-1zM1120 622h1v1h-1zM1121 623h1v1h-1zM1122 624h1v1h-1zM1123 624h1v1h-1zM1124 624h1v1h-1zM1125 625h1v1h-1zM1126 626h1v1h-1zM1127 626h1v1h-1zM1128 626h1v1h-1zM1129 627h1v1h-1zM1130 627h1v1h-1zM1131 627h1v1h-1zM1132 627h1v1h-1zM1133 626h1v1h-1zM1134 626h1v1h-1zM1135 626h1v1h-1zM1136 626h1v1h-1zM1137 626h1v1h-1zM1138 626h1v1h-1zM1139 626h1v1h-1zM1140 626h1v1h-1zM1141 626h1v1h-1zM1142 627h1v1h-1zM1143 627h1v1h-1zM1144 627h1v1h-1zM1145 627h1v1h-1zM1146 627h1v1h-1zM1147 627h1v1h-1zM1148 627h1v1h-1zM1149 628h1v1h-1zM1150 628h1v1h-1zM1151 628h1v1h-1zM1152 628h1v1h-1zM1153 628h1v1h-1zM1154 628h1v1h-1zM1155 628h1v1h-1zM1156 628h1v1h-1zM1157 628h1v1h-1zM1158 628h1v1h-1zM1159 628h1v1h-1zM1160 628h1v1h-1zM1161 628h1v1h-1zM1162 628h1v1h-1zM1163 627h1v1h-1zM1164 627h1v1h-1zM1165 626h1v1h-1zM1166 626h1v1h-1zM1167 626h1v1h-1zM1168 625h1v1h-1zM1169 625h1v1h-1zM1170 626h1v1h-1zM1171 626h1v1h-1zM1172 626h1v1h-1zM1173 627h1v1h-1zM1174 628h1v1h-1zM1175 628h1v1h-1zM1176 628h1v1h-1zM1177 629h1v1h-1zM1178 628h1v1h-1zM1179 626h1v2h-1zM1180 625h1v1h-1zM1181 624h1v1h-1zM1182 623h1v1h-1zM1183 622h1v1h-1zM1184 620h1v2h-1zM1185 619h1v1h-1zM1186 619h1v1h-1zM1187 620h1v1h-1zM1188 620h1v1h-1zM1189 620h1v1h-1zM1190 620h1v1h-1zM1191 620h1v1h-1zM1192 621h1v1h-1zM1193 621h1v1h-1zM1194 621h1v1h-1zM1195 622h1v1h-1zM1196 622h1v1h-1zM1197 622h1v1h-1zM1198 622h1v1h-1zM1199 622h1v1h-1zM1200 623h1v1h-1zM1201 623h1v1h-1zM1202 623h1v1h-1zM1203 623h1v1h-1zM1204 623h1v1h-1zM1205 624h1v1h-1zM1206 624h1v1h-1zM1207 624h1v1h-1zM1208 624h1v1h-1zM1209 624h1v1h-1zM1210 624h1v1h-1zM1211 624h1v1h-1zM1212 625h1v1h-1zM1213 625h1v1h-1zM1214 625h1v1h-1zM1215 626h1v1h-1zM1216 626h1v1h-1zM1217 626h1v1h-1zM1218 626h1v1h-1zM1219 626h1v1h-1zM1220 626h1v1h-1zM1221 626h1v1h-1zM1222 626h1v1h-1zM1223 626h1v1h-1zM1224 626h1v1h-1zM1225 626h1v1h-1zM1226 626h1v1h-1zM1227 625h1v1h-1zM1228 625h1v1h-1zM1229 624h1v1h-1zM1230 624h1v1h-1zM1231 624h1v1h-1zM1232 623h1v1h-1zM1233 623h1v1h-1zM1234 623h1v1h-1zM1235 623h1v1h-1zM1236 623h1v1h-1zM1237 624h1v1h-1zM1238 624h1v1h-1zM1239 624h1v1h-1zM1240 624h1v1h-1zM1241 624h1v1h-1z" fill="#1e90ff" shape-rendering="crispEdges"/>
<text class="t" transform="translate(5 568.6) scale(1 1.09)" textLength="68" lengthAdjust="spacingAndGlyphs">RSI(14) 28.3517</text>
<text class="t" transform="translate(1580.6 566.7) scale(1 1.09)" style="font-size:9px">100</text>
<text class="t" transform="translate(1580.6 589.6) scale(1 1.09)" style="font-size:9px">70</text>
<text class="t" transform="translate(1580.6 626.6) scale(1 1.09)" style="font-size:9px">30</text>
<text class="t" transform="translate(1580.6 648.6) scale(1 1.09)" style="font-size:9px">0</text>
<g shape-rendering="crispEdges" fill="#000"><rect x="1578" y="558" width="1" height="1"/><rect x="1578" y="651" width="1" height="1"/><rect x="1578" y="656" width="1" height="1"/><rect x="1578" y="749" width="1" height="1"/></g>
<g shape-rendering="crispEdges">
<rect x="1" y="686" width="1" height="30" fill="#c0c0c0"/>
<rect x="9" y="686" width="1" height="30" fill="#c0c0c0"/>
<rect x="17" y="686" width="1" height="29" fill="#c0c0c0"/>
<rect x="25" y="686" width="1" height="28" fill="#c0c0c0"/>
<rect x="33" y="686" width="1" height="27" fill="#c0c0c0"/>
<rect x="41" y="686" width="1" height="26" fill="#c0c0c0"/>
<rect x="49" y="686" width="1" height="24" fill="#c0c0c0"/>
<rect x="57" y="686" width="1" height="23" fill="#c0c0c0"/>
<rect x="65" y="686" width="1" height="23" fill="#c0c0c0"/>
<rect x="73" y="686" width="1" height="23" fill="#c0c0c0"/>
<rect x="81" y="686" width="1" height="23" fill="#c0c0c0"/>
<rect x="89" y="686" width="1" height="23" fill="#c0c0c0"/>
<rect x="97" y="686" width="1" height="24" fill="#c0c0c0"/>
<rect x="105" y="686" width="1" height="26" fill="#c0c0c0"/>
<rect x="113" y="686" width="1" height="27" fill="#c0c0c0"/>
<rect x="121" y="686" width="1" height="28" fill="#c0c0c0"/>
<rect x="129" y="686" width="1" height="28" fill="#c0c0c0"/>
<rect x="137" y="686" width="1" height="26" fill="#c0c0c0"/>
<rect x="145" y="686" width="1" height="26" fill="#c0c0c0"/>
<rect x="153" y="686" width="1" height="26" fill="#c0c0c0"/>
<rect x="161" y="686" width="1" height="23" fill="#c0c0c0"/>
<rect x="169" y="686" width="1" height="21" fill="#c0c0c0"/>
<rect x="177" y="686" width="1" height="21" fill="#c0c0c0"/>
<rect x="185" y="686" width="1" height="21" fill="#c0c0c0"/>
<rect x="193" y="686" width="1" height="21" fill="#c0c0c0"/>
<rect x="201" y="686" width="1" height="24" fill="#c0c0c0"/>
<rect x="209" y="686" width="1" height="28" fill="#c0c0c0"/>
<rect x="217" y="686" width="1" height="33" fill="#c0c0c0"/>
<rect x="225" y="686" width="1" height="38" fill="#c0c0c0"/>
<rect x="233" y="686" width="1" height="41" fill="#c0c0c0"/>
<rect x="241" y="686" width="1" height="45" fill="#c0c0c0"/>
<rect x="249" y="686" width="1" height="49" fill="#c0c0c0"/>
<rect x="257" y="686" width="1" height="53" fill="#c0c0c0"/>
<rect x="265" y="686" width="1" height="57" fill="#c0c0c0"/>
<rect x="273" y="686" width="1" height="59" fill="#c0c0c0"/>
<rect x="281" y="686" width="1" height="59" fill="#c0c0c0"/>
<rect x="289" y="686" width="1" height="56" fill="#c0c0c0"/>
<rect x="297" y="686" width="1" height="54" fill="#c0c0c0"/>
<rect x="305" y="686" width="1" height="58" fill="#c0c0c0"/>
<rect x="313" y="686" width="1" height="57" fill="#c0c0c0"/>
<rect x="321" y="686" width="1" height="55" fill="#c0c0c0"/>
<rect x="329" y="686" width="1" height="52" fill="#c0c0c0"/>
<rect x="337" y="686" width="1" height="48" fill="#c0c0c0"/>
<rect x="345" y="686" width="1" height="44" fill="#c0c0c0"/>
<rect x="353" y="686" width="1" height="44" fill="#c0c0c0"/>
<rect x="361" y="686" width="1" height="43" fill="#c0c0c0"/>
<rect x="369" y="686" width="1" height="43" fill="#c0c0c0"/>
<rect x="377" y="686" width="1" height="43" fill="#c0c0c0"/>
<rect x="385" y="686" width="1" height="43" fill="#c0c0c0"/>
<rect x="393" y="686" width="1" height="44" fill="#c0c0c0"/>
<rect x="401" y="686" width="1" height="40" fill="#c0c0c0"/>
<rect x="409" y="686" width="1" height="39" fill="#c0c0c0"/>
<rect x="417" y="686" width="1" height="34" fill="#c0c0c0"/>
<rect x="425" y="686" width="1" height="31" fill="#c0c0c0"/>
<rect x="433" y="686" width="1" height="28" fill="#c0c0c0"/>
<rect x="441" y="686" width="1" height="27" fill="#c0c0c0"/>
<rect x="449" y="686" width="1" height="26" fill="#c0c0c0"/>
<rect x="457" y="686" width="1" height="26" fill="#c0c0c0"/>
<rect x="465" y="686" width="1" height="27" fill="#c0c0c0"/>
<rect x="473" y="686" width="1" height="27" fill="#c0c0c0"/>
<rect x="481" y="686" width="1" height="29" fill="#c0c0c0"/>
<rect x="489" y="686" width="1" height="26" fill="#c0c0c0"/>
<rect x="497" y="686" width="1" height="23" fill="#c0c0c0"/>
<rect x="505" y="686" width="1" height="20" fill="#c0c0c0"/>
<rect x="513" y="686" width="1" height="15" fill="#c0c0c0"/>
<rect x="521" y="686" width="1" height="12" fill="#c0c0c0"/>
<rect x="529" y="686" width="1" height="8" fill="#c0c0c0"/>
<rect x="537" y="686" width="1" height="4" fill="#c0c0c0"/>
<rect x="545" y="686" width="1" height="3" fill="#c0c0c0"/>
<rect x="553" y="686" width="1" height="5" fill="#c0c0c0"/>
<rect x="561" y="686" width="1" height="6" fill="#c0c0c0"/>
<rect x="569" y="686" width="1" height="6" fill="#c0c0c0"/>
<rect x="577" y="686" width="1" height="7" fill="#c0c0c0"/>
<rect x="585" y="686" width="1" height="7" fill="#c0c0c0"/>
<rect x="593" y="686" width="1" height="8" fill="#c0c0c0"/>
<rect x="601" y="686" width="1" height="6" fill="#c0c0c0"/>
<rect x="609" y="686" width="1" height="6" fill="#c0c0c0"/>
<rect x="617" y="686" width="1" height="6" fill="#c0c0c0"/>
<rect x="625" y="686" width="1" height="2" fill="#c0c0c0"/>
<rect x="633" y="684" width="1" height="3" fill="#c0c0c0"/>
<rect x="641" y="678" width="1" height="9" fill="#c0c0c0"/>
<rect x="649" y="672" width="1" height="15" fill="#c0c0c0"/>
<rect x="657" y="666" width="1" height="21" fill="#c0c0c0"/>
<rect x="665" y="662" width="1" height="25" fill="#c0c0c0"/>
<rect x="673" y="661" width="1" height="26" fill="#c0c0c0"/>
<rect x="681" y="662" width="1" height="25" fill="#c0c0c0"/>
<rect x="689" y="665" width="1" height="22" fill="#c0c0c0"/>
<rect x="697" y="667" width="1" height="20" fill="#c0c0c0"/>
<rect x="705" y="668" width="1" height="19" fill="#c0c0c0"/>
<rect x="713" y="670" width="1" height="17" fill="#c0c0c0"/>
<rect x="721" y="674" width="1" height="13" fill="#c0c0c0"/>
<rect x="729" y="677" width="1" height="10" fill="#c0c0c0"/>
<rect x="737" y="679" width="1" height="8" fill="#c0c0c0"/>
<rect x="745" y="680" width="1" height="7" fill="#c0c0c0"/>
<rect x="753" y="685" width="1" height="2" fill="#c0c0c0"/>
<rect x="761" y="686" width="1" height="1" fill="#c0c0c0"/>
<rect x="769" y="686" width="1" height="5" fill="#c0c0c0"/>
<rect x="777" y="686" width="1" height="5" fill="#c0c0c0"/>
<rect x="785" y="686" width="1" height="6" fill="#c0c0c0"/>
<rect x="793" y="686" width="1" height="5" fill="#c0c0c0"/>
<rect x="801" y="686" width="1" height="5" fill="#c0c0c0"/>
<rect x="809" y="686" width="1" height="4" fill="#c0c0c0"/>
<rect x="817" y="686" width="1" height="7" fill="#c0c0c0"/>
<rect x="825" y="686" width="1" height="10" fill="#c0c0c0"/>
<rect x="833" y="686" width="1" height="14" fill="#c0c0c0"/>
<rect x="841" y="686" width="1" height="15" fill="#c0c0c0"/>
<rect x="849" y="686" width="1" height="17" fill="#c0c0c0"/>
<rect x="857" y="686" width="1" height="19" fill="#c0c0c0"/>
<rect x="865" y="686" width="1" height="18" fill="#c0c0c0"/>
<rect x="873" y="686" width="1" height="18" fill="#c0c0c0"/>
<rect x="881" y="686" width="1" height="16" fill="#c0c0c0"/>
<rect x="889" y="686" width="1" height="11" fill="#c0c0c0"/>
<rect x="897" y="686" width="1" height="6" fill="#c0c0c0"/>
<rect x="905" y="686" width="1" height="3" fill="#c0c0c0"/>
<rect x="937" y="686" width="1" height="3" fill="#c0c0c0"/>
<rect x="945" y="686" width="1" height="10" fill="#c0c0c0"/>
<rect x="953" y="686" width="1" height="15" fill="#c0c0c0"/>
<rect x="961" y="686" width="1" height="12" fill="#c0c0c0"/>
<rect x="969" y="686" width="1" height="9" fill="#c0c0c0"/>
<rect x="977" y="686" width="1" height="3" fill="#c0c0c0"/>
<rect x="985" y="686" width="1" height="1" fill="#c0c0c0"/>
<rect x="1001" y="686" width="1" height="1" fill="#c0c0c0"/>
<rect x="1009" y="686" width="1" height="1" fill="#c0c0c0"/>
<rect x="1025" y="686" width="1" height="1" fill="#c0c0c0"/>
<rect x="1073" y="686" width="1" height="1" fill="#c0c0c0"/>
<rect x="1081" y="686" width="1" height="2" fill="#c0c0c0"/>
<rect x="1089" y="686" width="1" height="6" fill="#c0c0c0"/>
<rect x="1097" y="686" width="1" height="8" fill="#c0c0c0"/>
<rect x="1105" y="686" width="1" height="10" fill="#c0c0c0"/>
<rect x="1113" y="686" width="1" height="13" fill="#c0c0c0"/>
<rect x="1121" y="686" width="1" height="18" fill="#c0c0c0"/>
<rect x="1129" y="686" width="1" height="25" fill="#c0c0c0"/>
<rect x="1137" y="686" width="1" height="30" fill="#c0c0c0"/>
<rect x="1145" y="686" width="1" height="34" fill="#c0c0c0"/>
<rect x="1153" y="686" width="1" height="37" fill="#c0c0c0"/>
<rect x="1161" y="686" width="1" height="39" fill="#c0c0c0"/>
<rect x="1169" y="686" width="1" height="40" fill="#c0c0c0"/>
<rect x="1177" y="686" width="1" height="42" fill="#c0c0c0"/>
<rect x="1185" y="686" width="1" height="41" fill="#c0c0c0"/>
<rect x="1193" y="686" width="1" height="39" fill="#c0c0c0"/>
<rect x="1201" y="686" width="1" height="39" fill="#c0c0c0"/>
<rect x="1209" y="686" width="1" height="40" fill="#c0c0c0"/>
<rect x="1217" y="686" width="1" height="41" fill="#c0c0c0"/>
<rect x="1225" y="686" width="1" height="41" fill="#c0c0c0"/>
<rect x="1233" y="686" width="1" height="41" fill="#c0c0c0"/>
<rect x="1241" y="686" width="1" height="41" fill="#c0c0c0"/>
</g>
<path d="M1 719h1v1h-1zM2 719h1v1h-1zM3 718h1v1h-1zM7 718h1v1h-1zM8 718h1v1h-1zM9 717h1v1h-1zM13 717h1v1h-1zM14 717h1v1h-1zM15 717h1v1h-1zM19 716h1v1h-1zM20 716h1v1h-1zM21 716h1v1h-1zM25 716h1v1h-1zM26 716h1v1h-1zM27 716h1v1h-1zM31 716h1v1h-1zM32 716h1v1h-1zM33 716h1v1h-1zM37 715h1v1h-1zM38 715h1v1h-1zM39 715h1v1h-1zM43 715h1v1h-1zM44 715h1v1h-1zM45 715h1v1h-1zM49 714h1v1h-1zM50 714h1v1h-1zM51 714h1v1h-1zM55 714h1v1h-1zM56 713h1v1h-1zM57 713h1v1h-1zM61 713h1v1h-1zM62 713h1v1h-1zM63 713h1v1h-1zM67 712h1v1h-1zM68 712h1v1h-1zM69 712h1v1h-1zM73 712h1v1h-1zM74 712h1v1h-1zM75 712h1v1h-1zM79 711h1v1h-1zM80 711h1v1h-1zM81 711h1v1h-1zM85 711h1v1h-1zM86 711h1v1h-1zM87 711h1v1h-1zM91 710h1v1h-1zM92 710h1v1h-1zM93 710h1v1h-1zM97 710h1v1h-1zM98 710h1v1h-1zM99 710h1v1h-1zM103 710h1v1h-1zM104 710h1v1h-1zM105 710h1v1h-1zM109 710h1v1h-1zM110 710h1v1h-1zM111 710h1v1h-1zM115 710h1v1h-1zM116 710h1v1h-1zM117 710h1v1h-1zM121 710h1v1h-1zM122 710h1v1h-1zM123 710h1v1h-1zM127 710h1v1h-1zM128 711h1v1h-1zM129 711h1v1h-1zM133 711h1v1h-1zM134 711h1v1h-1zM135 711h1v1h-1zM139 711h1v1h-1zM140 711h1v1h-1zM141 711h1v1h-1zM145 712h1v1h-1zM146 712h1v1h-1zM147 712h1v1h-1zM151 712h1v1h-1zM152 712h1v1h-1zM153 712h1v1h-1zM157 712h1v1h-1zM158 712h1v1h-1zM159 712h1v1h-1zM163 712h1v1h-1zM164 712h1v1h-1zM165 712h1v1h-1zM169 712h1v1h-1zM170 711h1v1h-1zM171 711h1v1h-1zM175 711h1v1h-1zM176 711h1v1h-1zM177 711h1v1h-1zM181 711h1v1h-1zM182 711h1v1h-1zM183 711h1v1h-1zM187 710h1v1h-1zM188 710h1v1h-1zM189 710h1v1h-1zM193 709h1v1h-1zM194 709h1v1h-1zM195 709h1v1h-1zM199 709h1v1h-1zM200 709h1v1h-1zM201 709h1v1h-1zM205 709h1v1h-1zM206 709h1v1h-1zM207 709h1v1h-1zM211 709h1v1h-1zM212 709h1v1h-1zM213 709h1v1h-1zM217 710h1v1h-1zM218 710h1v1h-1zM219 710h1v1h-1zM223 711h1v1h-1zM224 711h1v1h-1zM225 711h1v1h-1zM229 712h1v1h-1zM230 712h1v1h-1zM231 713h1v1h-1zM235 714h1v1h-1zM236 714h1v1h-1zM237 714h1v1h-1zM241 715h1v1h-1zM242 716h1v1h-1zM243 716h1v1h-1zM247 718h1v1h-1zM248 718h1v1h-1zM249 719h1v1h-1zM253 721h1v1h-1zM254 721h1v1h-1zM255 721h1v1h-1zM259 723h1v1h-1zM260 724h1v1h-1zM261 725h1v1h-1zM265 727h1v1h-1zM266 727h1v1h-1zM267 728h1v1h-1zM271 730h1v1h-1zM272 730h1v1h-1zM273 731h1v1h-1zM277 732h1v1h-1zM278 733h1v1h-1zM279 733h1v1h-1zM283 735h1v1h-1zM284 735h1v1h-1zM285 735h1v1h-1zM289 737h1v1h-1zM290 737h1v1h-1zM291 737h1v1h-1zM295 738h1v1h-1zM296 738h1v1h-1zM297 738h1v1h-1zM301 739h1v1h-1zM302 739h1v1h-1zM303 739h1v1h-1zM307 740h1v1h-1zM308 740h1v1h-1zM309 741h1v1h-1zM313 742h1v1h-1zM314 742h1v1h-1zM315 742h1v1h-1zM319 742h1v1h-1zM320 742h1v1h-1zM321 742h1v1h-1zM325 742h1v1h-1zM326 742h1v1h-1zM327 742h1v1h-1zM331 742h1v1h-1zM332 742h1v1h-1zM333 742h1v1h-1zM337 742h1v1h-1zM338 741h1v1h-1zM339 741h1v1h-1zM343 740h1v1h-1zM344 740h1v1h-1zM345 740h1v1h-1zM349 739h1v1h-1zM350 739h1v1h-1zM351 739h1v1h-1zM355 738h1v1h-1zM356 738h1v1h-1zM357 738h1v1h-1zM361 737h1v1h-1zM362 737h1v1h-1zM363 737h1v1h-1zM367 736h1v1h-1zM368 736h1v1h-1zM369 736h1v1h-1zM373 735h1v1h-1zM374 735h1v1h-1zM375 735h1v1h-1zM379 734h1v1h-1zM380 734h1v1h-1zM381 733h1v1h-1zM385 732h1v1h-1zM386 732h1v1h-1zM387 732h1v1h-1zM391 731h1v1h-1zM392 731h1v1h-1zM393 731h1v1h-1zM397 730h1v1h-1zM398 730h1v1h-1zM399 730h1v1h-1zM403 729h1v1h-1zM404 729h1v1h-1zM405 729h1v1h-1zM409 728h1v1h-1zM410 728h1v1h-1zM411 728h1v1h-1zM415 727h1v1h-1zM416 727h1v1h-1zM417 727h1v1h-1zM421 726h1v1h-1zM422 726h1v1h-1zM423 725h1v1h-1zM427 725h1v1h-1zM428 725h1v1h-1zM429 724h1v1h-1zM433 724h1v1h-1zM434 723h1v1h-1zM435 723h1v1h-1zM439 723h1v1h-1zM440 722h1v1h-1zM441 722h1v1h-1zM445 722h1v1h-1zM446 721h1v1h-1zM447 721h1v1h-1zM451 721h1v1h-1zM452 720h1v1h-1zM453 720h1v1h-1zM457 720h1v1h-1zM458 719h1v1h-1zM459 719h1v1h-1zM463 718h1v1h-1zM464 718h1v1h-1zM465 718h1v1h-1zM469 717h1v1h-1zM470 717h1v1h-1zM471 717h1v1h-1zM475 716h1v1h-1zM476 716h1v1h-1zM477 715h1v1h-1zM481 715h1v1h-1zM482 715h1v1h-1zM483 715h1v1h-1zM487 714h1v1h-1zM488 714h1v1h-1zM489 714h1v1h-1zM493 713h1v1h-1zM494 713h1v1h-1zM495 713h1v1h-1zM499 713h1v1h-1zM500 713h1v1h-1zM501 712h1v1h-1zM505 712h1v1h-1zM506 712h1v1h-1zM507 712h1v1h-1zM511 711h1v1h-1zM512 711h1v1h-1zM513 711h1v1h-1zM517 710h1v1h-1zM518 710h1v1h-1zM519 710h1v1h-1zM523 709h1v1h-1zM524 708h1v1h-1zM525 708h1v1h-1zM529 707h1v1h-1zM530 707h1v1h-1zM531 706h1v1h-1zM535 705h1v1h-1zM536 705h1v1h-1zM537 705h1v1h-1zM541 703h1v1h-1zM542 703h1v1h-1zM543 703h1v1h-1zM547 702h1v1h-1zM548 701h1v1h-1zM549 701h1v1h-1zM553 700h1v1h-1zM554 699h1v1h-1zM555 699h1v1h-1zM559 698h1v1h-1zM560 697h1v1h-1zM561 697h1v1h-1zM565 696h1v1h-1zM566 695h1v1h-1zM567 695h1v1h-1zM571 694h1v1h-1zM572 694h1v1h-1zM573 694h1v1h-1zM577 693h1v1h-1zM578 693h1v1h-1zM579 693h1v1h-1zM583 693h1v1h-1zM584 693h1v1h-1zM585 693h1v1h-1zM589 693h1v1h-1zM590 692h1v1h-1zM591 692h1v1h-1zM595 692h1v1h-1zM596 692h1v1h-1zM597 693h1v1h-1zM601 693h1v1h-1zM602 693h1v1h-1zM603 693h1v1h-1zM607 693h1v1h-1zM608 693h1v1h-1zM609 693h1v1h-1zM613 693h1v1h-1zM614 693h1v1h-1zM615 693h1v1h-1zM619 693h1v1h-1zM620 693h1v1h-1zM621 693h1v1h-1zM625 692h1v1h-1zM626 692h1v1h-1zM627 692h1v1h-1zM631 692h1v1h-1zM632 692h1v1h-1zM633 692h1v1h-1zM637 692h1v1h-1zM638 692h1v1h-1zM639 691h1v1h-1zM643 690h1v1h-1zM644 689h1v1h-1zM645 689h1v1h-1zM649 687h1v1h-1zM650 687h1v1h-1zM651 687h1v1h-1zM655 685h1v1h-1zM656 684h1v1h-1zM657 684h1v1h-1zM661 682h1v1h-1zM662 682h1v1h-1zM663 681h1v1h-1zM667 679h1v1h-1zM668 679h1v1h-1zM669 678h1v1h-1zM673 676h1v1h-1zM674 676h1v1h-1zM675 676h1v1h-1zM679 674h1v1h-1zM680 673h1v1h-1zM681 673h1v1h-1zM685 672h1v1h-1zM686 671h1v1h-1zM687 671h1v1h-1zM691 670h1v1h-1zM692 670h1v1h-1zM693 670h1v1h-1zM697 668h1v1h-1zM698 668h1v1h-1zM699 668h1v1h-1zM703 667h1v1h-1zM704 666h1v1h-1zM705 666h1v1h-1zM709 665h1v1h-1zM710 665h1v1h-1zM711 665h1v1h-1zM715 665h1v1h-1zM716 665h1v1h-1zM717 665h1v1h-1zM721 665h1v1h-1zM722 665h1v1h-1zM723 665h1v1h-1zM727 665h1v1h-1zM728 665h1v1h-1zM729 665h1v1h-1zM733 666h1v1h-1zM734 666h1v1h-1zM735 666h1v1h-1zM739 667h1v1h-1zM740 668h1v1h-1zM741 668h1v1h-1zM745 670h1v1h-1zM746 670h1v1h-1zM747 671h1v1h-1zM751 672h1v1h-1zM752 672h1v1h-1zM753 673h1v1h-1zM757 674h1v1h-1zM758 674h1v1h-1zM759 675h1v1h-1zM763 676h1v1h-1zM764 676h1v1h-1zM765 677h1v1h-1zM769 678h1v1h-1zM770 678h1v1h-1zM771 678h1v1h-1zM775 680h1v1h-1zM776 680h1v1h-1zM777 680h1v1h-1zM781 681h1v1h-1zM782 682h1v1h-1zM783 682h1v1h-1zM787 683h1v1h-1zM788 683h1v1h-1zM789 683h1v1h-1zM793 684h1v1h-1zM794 685h1v1h-1zM795 685h1v1h-1zM799 686h1v1h-1zM800 686h1v1h-1zM801 686h1v1h-1zM805 687h1v1h-1zM806 687h1v1h-1zM807 687h1v1h-1zM811 688h1v1h-1zM812 689h1v1h-1zM813 689h1v1h-1zM817 690h1v1h-1zM818 690h1v1h-1zM819 690h1v1h-1zM823 691h1v1h-1zM824 691h1v1h-1zM825 691h1v1h-1zM829 692h1v1h-1zM830 692h1v1h-1zM831 692h1v1h-1zM835 693h1v1h-1zM836 693h1v1h-1zM837 693h1v1h-1zM841 694h1v1h-1zM842 694h1v1h-1zM843 694h1v1h-1zM847 695h1v1h-1zM848 695h1v1h-1zM849 695h1v1h-1zM853 696h1v1h-1zM854 696h1v1h-1zM855 696h1v1h-1zM859 697h1v1h-1zM860 697h1v1h-1zM861 697h1v1h-1zM865 698h1v1h-1zM866 698h1v1h-1zM867 698h1v1h-1zM871 699h1v1h-1zM872 699h1v1h-1zM873 699h1v1h-1zM877 700h1v1h-1zM878 700h1v1h-1zM879 700h1v1h-1zM883 701h1v1h-1zM884 701h1v1h-1zM885 701h1v1h-1zM889 701h1v1h-1zM890 701h1v1h-1zM891 701h1v1h-1zM895 701h1v1h-1zM896 701h1v1h-1zM897 701h1v1h-1zM901 700h1v1h-1zM902 700h1v1h-1zM903 700h1v1h-1zM907 699h1v1h-1zM908 699h1v1h-1zM909 699h1v1h-1zM913 698h1v1h-1zM914 698h1v1h-1zM915 698h1v1h-1zM919 696h1v1h-1zM920 696h1v1h-1zM921 696h1v1h-1zM925 695h1v1h-1zM926 694h1v1h-1zM927 694h1v1h-1zM931 693h1v1h-1zM932 693h1v1h-1zM933 693h1v1h-1zM937 692h1v1h-1zM938 692h1v1h-1zM939 692h1v1h-1zM943 692h1v1h-1zM944 691h1v1h-1zM945 691h1v1h-1zM949 691h1v1h-1zM950 691h1v1h-1zM951 691h1v1h-1zM955 691h1v1h-1zM956 691h1v1h-1zM957 691h1v1h-1zM961 691h1v1h-1zM962 691h1v1h-1zM963 691h1v1h-1zM967 691h1v1h-1zM968 691h1v1h-1zM969 691h1v1h-1zM973 691h1v1h-1zM974 691h1v1h-1zM975 691h1v1h-1zM979 691h1v1h-1zM980 691h1v1h-1zM981 691h1v1h-1zM985 691h1v1h-1zM986 691h1v1h-1zM987 691h1v1h-1zM991 692h1v1h-1zM992 692h1v1h-1zM993 692h1v1h-1zM997 692h1v1h-1zM998 692h1v1h-1zM999 692h1v1h-1zM1003 692h1v1h-1zM1004 692h1v1h-1zM1005 691h1v1h-1zM1009 691h1v1h-1zM1010 691h1v1h-1zM1011 691h1v1h-1zM1015 690h1v1h-1zM1016 690h1v1h-1zM1017 690h1v1h-1zM1021 689h1v1h-1zM1022 689h1v1h-1zM1023 689h1v1h-1zM1027 688h1v1h-1zM1028 688h1v1h-1zM1029 688h1v1h-1zM1033 687h1v1h-1zM1034 687h1v1h-1zM1035 687h1v1h-1zM1039 687h1v1h-1zM1040 687h1v1h-1zM1041 687h1v1h-1zM1045 686h1v1h-1zM1046 686h1v1h-1zM1047 686h1v1h-1zM1051 686h1v1h-1zM1052 686h1v1h-1zM1053 686h1v1h-1zM1057 686h1v1h-1zM1058 686h1v1h-1zM1059 686h1v1h-1zM1063 686h1v1h-1zM1064 686h1v1h-1zM1065 686h1v1h-1zM1069 686h1v1h-1zM1070 686h1v1h-1zM1071 686h1v1h-1zM1075 686h1v1h-1zM1076 686h1v1h-1zM1077 686h1v1h-1zM1081 686h1v1h-1zM1082 687h1v1h-1zM1083 687h1v1h-1zM1087 687h1v1h-1zM1088 687h1v1h-1zM1089 687h1v1h-1zM1093 687h1v1h-1zM1094 687h1v1h-1zM1095 688h1v1h-1zM1099 688h1v1h-1zM1100 688h1v1h-1zM1101 688h1v1h-1zM1105 689h1v1h-1zM1106 689h1v1h-1zM1107 689h1v1h-1zM1111 690h1v1h-1zM1112 690h1v1h-1zM1113 690h1v1h-1zM1117 691h1v1h-1zM1118 691h1v1h-1zM1119 691h1v1h-1zM1123 692h1v1h-1zM1124 692h1v1h-1zM1125 693h1v1h-1zM1129 694h1v1h-1zM1130 695h1v1h-1zM1131 695h1v1h-1zM1135 697h1v1h-1zM1136 697h1v1h-1zM1137 698h1v1h-1zM1141 700h1v1h-1zM1142 700h1v1h-1zM1143 701h1v1h-1zM1147 703h1v1h-1zM1148 703h1v1h-1zM1149 704h1v1h-1zM1153 706h1v1h-1zM1154 706h1v1h-1zM1155 707h1v1h-1zM1159 708h1v1h-1zM1160 709h1v1h-1zM1161 709h1v1h-1zM1165 711h1v1h-1zM1166 712h1v1h-1zM1167 712h1v1h-1zM1171 714h1v1h-1zM1172 714h1v1h-1zM1173 715h1v1h-1zM1177 717h1v1h-1zM1178 717h1v1h-1zM1179 717h1v1h-1zM1183 719h1v1h-1zM1184 720h1v1h-1zM1185 720h1v1h-1zM1189 721h1v1h-1zM1190 721h1v1h-1zM1191 721h1v1h-1zM1195 722h1v1h-1zM1196 722h1v1h-1zM1197 723h1v1h-1zM1201 723h1v1h-1zM1202 724h1v1h-1zM1203 724h1v1h-1zM1207 724h1v1h-1zM1208 724h1v1h-1zM1209 725h1v1h-1zM1213 725h1v1h-1zM1214 725h1v1h-1zM1215 725h1v1h-1zM1219 726h1v1h-1zM1220 726h1v1h-1zM1221 726h1v1h-1zM1225 726h1v1h-1zM1226 726h1v1h-1zM1227 726h1v1h-1zM1231 726h1v1h-1zM1232 726h1v1h-1zM1233 726h1v1h-1zM1237 726h1v1h-1zM1238 726h1v1h-1zM1239 726h1v1h-1z" fill="#ff0000" shape-rendering="crispEdges"/>
<text class="t" transform="translate(5 666.6) scale(1 1.09)" textLength="154" lengthAdjust="spacingAndGlyphs">MACD(12,26,9) -0.005838 -0.005917</text>
<text class="t" transform="translate(1580.6 664.6) scale(1 1.09)" style="font-size:9px">0.004527</text>
<text class="t" transform="translate(1580.6 689.6) scale(1 1.09)" style="font-size:9px">0.00</text>
<text class="t" transform="translate(1581.6 746.6) scale(1 1.09)" style="font-size:9px">-0.009348</text>
<g shape-rendering="crispEdges" fill="#000">
<rect x="1" y="751" width="1" height="3"/>
<rect x="65" y="751" width="1" height="3"/>
<rect x="129" y="751" width="1" height="3"/>
<rect x="193" y="751" width="1" height="3"/>
<rect x="257" y="751" width="1" height="3"/>
<rect x="321" y="751" width="1" height="3"/>
<rect x="385" y="751" width="1" height="3"/>
<rect x="449" y="751" width="1" height="3"/>
<rect x="513" y="751" width="1" height="3"/>
<rect x="577" y="751" width="1" height="3"/>
<rect x="641" y="751" width="1" height="3"/>
<rect x="705" y="751" width="1" height="3"/>
<rect x="769" y="751" width="1" height="3"/>
<rect x="833" y="751" width="1" height="3"/>
<rect x="897" y="751" width="1" height="3"/>
<rect x="961" y="751" width="1" height="3"/>
<rect x="1025" y="751" width="1" height="3"/>
<rect x="1089" y="751" width="1" height="3"/>
<rect x="1153" y="751" width="1" height="3"/>
<rect x="1217" y="751" width="1" height="3"/>
</g>
<text class="t" transform="translate(0 763.4) scale(1 1.09)" style="font-size:9.12px">22 Jun 2020</text>
<text class="t" transform="translate(64 763.4) scale(1 1.09)" style="font-size:9.12px">1 Jul 2020</text>
<text class="t" transform="translate(128 763.4) scale(1 1.09)" style="font-size:9.12px">10 Jul 2020</text>
<text class="t" transform="translate(192 763.4) scale(1 1.09)" style="font-size:9.12px">20 Jul 2020</text>
<text class="t" transform="translate(256 763.4) scale(1 1.09)" style="font-size:9.12px">29 Jul 2020</text>
<text class="t" transform="translate(320 763.4) scale(1 1.09)" style="font-size:9.12px">7 Aug 2020</text>
<text class="t" transform="translate(384 763.4) scale(1 1.09)" style="font-size:9.12px">17 Aug 2020</text>
<text class="t" transform="translate(448 763.4) scale(1 1.09)" style="font-size:9.12px">26 Aug 2020</text>
<text class="t" transform="translate(512 763.4) scale(1 1.09)" style="font-size:9.12px">4 Sep 2020</text>
<text class="t" transform="translate(576 763.4) scale(1 1.09)" style="font-size:9.12px">14 Sep 2020</text>
<text class="t" transform="translate(640 763.4) scale(1 1.09)" style="font-size:9.12px">23 Sep 2020</text>
<text class="t" transform="translate(704 763.4) scale(1 1.09)" style="font-size:9.12px">2 Oct 2020</text>
<text class="t" transform="translate(768 763.4) scale(1 1.09)" style="font-size:9.12px">12 Oct 2020</text>
<text class="t" transform="translate(832 763.4) scale(1 1.09)" style="font-size:9.12px">21 Oct 2020</text>
<text class="t" transform="translate(896 763.4) scale(1 1.09)" style="font-size:9.12px">30 Oct 2020</text>
<text class="t" transform="translate(960 763.4) scale(1 1.09)" style="font-size:9.12px">9 Nov 2020</text>
<text class="t" transform="translate(1024 763.4) scale(1 1.09)" style="font-size:9.12px">18 Nov 2020</text>
<text class="t" transform="translate(1088 763.4) scale(1 1.09)" style="font-size:9.12px">27 Nov 2020</text>
<text class="t" transform="translate(1152 763.4) scale(1 1.09)" style="font-size:9.12px">7 Dec 2020</text>
<text class="t" transform="translate(1216 763.4) scale(1 1.09)" style="font-size:9.12px">16 Dec 2020</text>
<g shape-rendering="crispEdges">
<rect x="0" y="771" width="1620" height="1" fill="#e3e3e3"/>
<rect x="0" y="772" width="1620" height="1" fill="#f0f0f0"/>
<rect x="0" y="773" width="1620" height="19" fill="#f0f0f0"/>
<rect x="0" y="792" width="1620" height="1" fill="#fcfcfc"/>
<rect x="0" y="793" width="1620" height="3" fill="#f0f0f0"/>
<rect x="0" y="773" width="106" height="1" fill="#000"/>
<rect x="205" y="773" width="1415" height="1" fill="#000"/>
<rect x="107" y="773" width="98" height="18" fill="#fff"/>
<rect x="106" y="773" width="1" height="19" fill="#000"/>
<rect x="205" y="773" width="1" height="19" fill="#000"/>
<rect x="106" y="791" width="100" height="1" fill="#000"/>
<rect x="310" y="777" width="1" height="13" fill="#505050"/>
<rect x="414" y="777" width="1" height="13" fill="#505050"/>
<rect x="519" y="777" width="1" height="13" fill="#505050"/>
<rect x="622" y="777" width="1" height="13" fill="#505050"/>
<rect x="714" y="777" width="1" height="13" fill="#505050"/>
<rect x="830" y="777" width="1" height="13" fill="#505050"/>
<rect x="902" y="777" width="1" height="13" fill="#505050"/>
<rect x="982" y="777" width="1" height="13" fill="#505050"/>
<rect x="1062" y="777" width="1" height="13" fill="#505050"/>
<rect x="1142" y="777" width="1" height="13" fill="#505050"/>
<rect x="1218" y="777" width="1" height="13" fill="#505050"/>
<rect x="1302" y="777" width="1" height="13" fill="#505050"/>
<rect x="1386" y="777" width="1" height="13" fill="#505050"/>
<rect x="1466" y="777" width="1" height="13" fill="#505050"/>
<rect x="1566" y="777" width="1" height="13" fill="#505050"/>
</g>
<text class="tab" x="15" y="787.9" textLength="79" lengthAdjust="spacingAndGlyphs">EURUSD,Daily</text>
<text class="taba" x="116" y="787.9" textLength="79" lengthAdjust="spacingAndGlyphs">USDCHF,Daily</text>
<text class="tab" x="217.5" y="787.9" textLength="81.5" lengthAdjust="spacingAndGlyphs">AUDUSD,Daily</text>
<text class="tab" x="321" y="787.9" textLength="80.5" lengthAdjust="spacingAndGlyphs">USDCAD,Daily</text>
<text class="tab" x="424" y="787.9" textLength="82.5" lengthAdjust="spacingAndGlyphs">USDCNH,Daily</text>
<text class="tab" x="530" y="787.9" textLength="80" lengthAdjust="spacingAndGlyphs">EURUSD,Daily</text>
<text class="tab" x="634.5" y="787.9" textLength="68" lengthAdjust="spacingAndGlyphs">GBPUSD,H4</text>
<text class="tab" x="724.5" y="787.9" textLength="94.5" lengthAdjust="spacingAndGlyphs">XAUUSD,Weekly</text>
<text class="tab" x="841" y="787.9" textLength="49.5" lengthAdjust="spacingAndGlyphs">HK50,H1</text>
<text class="tab" x="912.7" y="787.9" textLength="56.5" lengthAdjust="spacingAndGlyphs">UK100,H1</text>
<text class="tab" x="992.7" y="787.9" textLength="56.5" lengthAdjust="spacingAndGlyphs">UK100,H1</text>
<text class="tab" x="1072.7" y="787.9" textLength="56.5" lengthAdjust="spacingAndGlyphs">GER30,H1</text>
<text class="tab" x="1152.3" y="787.9" textLength="54.5" lengthAdjust="spacingAndGlyphs">FRA40,H1</text>
<text class="tab" x="1228.3" y="787.9" textLength="62.7" lengthAdjust="spacingAndGlyphs">USOil,Daily</text>
<text class="tab" x="1312.3" y="787.9" textLength="62.7" lengthAdjust="spacingAndGlyphs">USDJPY,H1</text>
<text class="tab" x="1396" y="787.9" textLength="59" lengthAdjust="spacingAndGlyphs">DJ30,Daily</text>
<text class="tab" x="1476" y="787.9" textLength="78.3" lengthAdjust="spacingAndGlyphs">CHINA300,H1</text>
<clipPath id="cu"><rect x="1570" y="774" width="18" height="18"/></clipPath>
<text class="tab" x="1576.7" y="787.9" clip-path="url(#cu)">USDJPY</text>
<path d="M1597 778.5v7l-4-3.5z" fill="#9a9a9a"/>
<path d="M1612 778.5v7l4-3.5z" fill="#000"/>
</svg></body></html>
